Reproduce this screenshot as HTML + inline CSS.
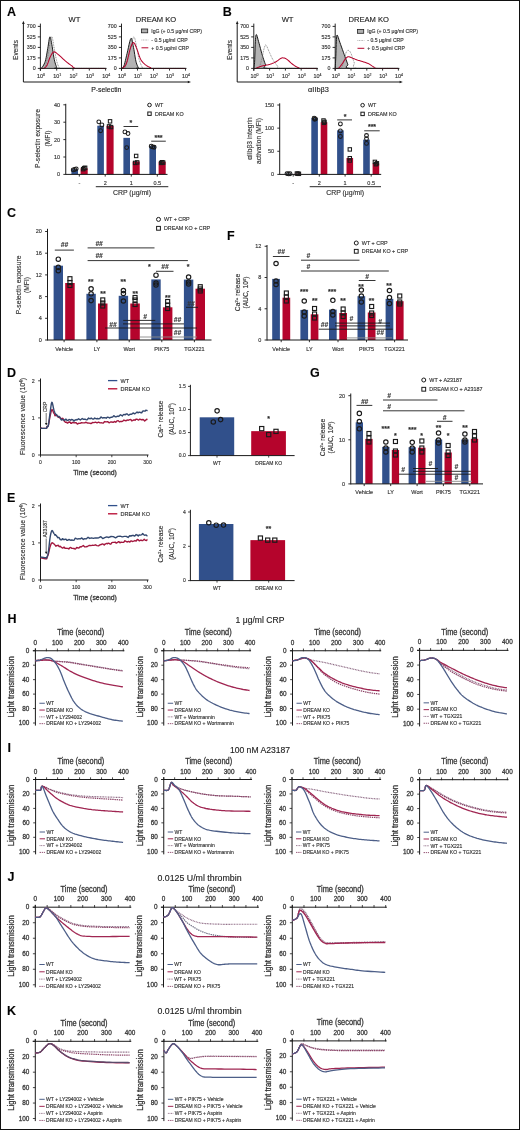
<!DOCTYPE html>
<html><head><meta charset="utf-8"><style>
html,body{margin:0;padding:0;background:#fff;}
#fig{position:relative;width:520px;height:1130px;box-sizing:border-box;border:1px solid #111;overflow:hidden;background:#fff;}
svg{position:absolute;left:-1px;top:-1px;will-change:transform;}
svg text{font-family:"Liberation Sans", sans-serif;stroke:#444;stroke-width:0.15px;}
</style></head><body><div id="fig">
<svg width="520" height="1130" viewBox="0 0 520 1130" shape-rendering="geometricPrecision">
<text x="7.00" y="16.30" font-size="12.5" font-weight="bold" fill="#000">A</text>
<line x1="23.40" y1="23.50" x2="23.40" y2="82.00" stroke="#1a1a1a" stroke-width="1.0"/>
<path d="M23.40,20.80 L22.10,24.00 L24.70,24.00 Z" fill="#1a1a1a"/>
<line x1="23.40" y1="82.00" x2="188.50" y2="82.00" stroke="#1a1a1a" stroke-width="1.0"/>
<path d="M191.00,82.00 L187.80,80.70 L187.80,83.30 Z" fill="#1a1a1a"/>
<text x="106.30" y="92.00" font-size="6.9" text-anchor="middle" fill="#111">P-selectin</text>
<text x="18.20" y="50.00" font-size="6.5" text-anchor="middle" fill="#2a2a2a" transform="rotate(-90 18.20 50.00)">Events</text>
<line x1="37.80" y1="68.40" x2="40.40" y2="68.40" stroke="#1a1a1a" stroke-width="0.9"/>
<text x="35.60" y="70.30" font-size="5.3" text-anchor="end" fill="#2a2a2a">0</text>
<line x1="37.80" y1="57.90" x2="40.40" y2="57.90" stroke="#1a1a1a" stroke-width="0.9"/>
<text x="35.60" y="59.80" font-size="5.3" text-anchor="end" fill="#2a2a2a">175</text>
<line x1="37.80" y1="47.40" x2="40.40" y2="47.40" stroke="#1a1a1a" stroke-width="0.9"/>
<text x="35.60" y="49.30" font-size="5.3" text-anchor="end" fill="#2a2a2a">350</text>
<line x1="37.80" y1="36.90" x2="40.40" y2="36.90" stroke="#1a1a1a" stroke-width="0.9"/>
<text x="35.60" y="38.80" font-size="5.3" text-anchor="end" fill="#2a2a2a">525</text>
<line x1="37.80" y1="26.40" x2="40.40" y2="26.40" stroke="#1a1a1a" stroke-width="0.9"/>
<text x="35.60" y="28.30" font-size="5.3" text-anchor="end" fill="#2a2a2a">700</text>
<line x1="40.40" y1="68.40" x2="40.40" y2="70.60" stroke="#1a1a1a" stroke-width="0.9"/>
<text x="41.00" y="77.80" font-size="5.4" text-anchor="middle" fill="#2a2a2a">10<tspan font-size="3.51" dy="-2.16">0</tspan></text>
<line x1="56.70" y1="68.40" x2="56.70" y2="70.60" stroke="#1a1a1a" stroke-width="0.9"/>
<text x="57.30" y="77.80" font-size="5.4" text-anchor="middle" fill="#2a2a2a">10<tspan font-size="3.51" dy="-2.16">1</tspan></text>
<line x1="73.00" y1="68.40" x2="73.00" y2="70.60" stroke="#1a1a1a" stroke-width="0.9"/>
<text x="73.60" y="77.80" font-size="5.4" text-anchor="middle" fill="#2a2a2a">10<tspan font-size="3.51" dy="-2.16">2</tspan></text>
<line x1="89.30" y1="68.40" x2="89.30" y2="70.60" stroke="#1a1a1a" stroke-width="0.9"/>
<text x="89.90" y="77.80" font-size="5.4" text-anchor="middle" fill="#2a2a2a">10<tspan font-size="3.51" dy="-2.16">3</tspan></text>
<line x1="105.60" y1="68.40" x2="105.60" y2="70.60" stroke="#1a1a1a" stroke-width="0.9"/>
<text x="106.20" y="77.80" font-size="5.4" text-anchor="middle" fill="#2a2a2a">10<tspan font-size="3.51" dy="-2.16">4</tspan></text>
<text x="74.50" y="22.00" font-size="7.6" text-anchor="middle" fill="#111">WT</text>
<path d="M40.40,68.40 L40.56,68.36 L40.76,68.37 L41.01,68.34 L41.31,68.23 L41.65,67.97 L42.03,67.50 L42.49,66.84 L43.03,66.03 L43.61,65.08 L44.20,63.97 L44.77,62.68 L45.29,61.20 L45.75,59.45 L46.18,57.43 L46.58,55.24 L46.97,52.97 L47.36,50.72 L47.73,48.60 L48.11,46.38 L48.47,43.92 L48.83,41.49 L49.17,39.34 L49.51,37.73 L49.85,36.90 L50.18,36.95 L50.50,37.70 L50.81,38.98 L51.13,40.63 L51.46,42.49 L51.81,44.40 L52.19,46.55 L52.59,49.11 L53.00,51.88 L53.42,54.66 L53.84,57.23 L54.25,59.40 L54.67,61.19 L55.10,62.78 L55.53,64.16 L55.95,65.36 L56.34,66.37 L56.70,67.20 L56.49,67.80 L55.61,68.13 L54.71,68.29 L54.44,68.33 L55.43,68.35 L58.33,68.40 L64.11,68.40 L72.46,68.40 L82.07,68.40 L91.65,68.40 L99.93,68.40 L105.60,68.40 L105.60,68.40 L40.40,68.40 Z" fill="#b3b3b3" stroke="none" stroke-width="1" stroke-linejoin="round"/>
<path d="M40.40,68.40 L40.56,68.36 L40.76,68.37 L41.01,68.34 L41.31,68.23 L41.65,67.97 L42.03,67.50 L42.49,66.84 L43.03,66.03 L43.61,65.08 L44.20,63.97 L44.77,62.68 L45.29,61.20 L45.75,59.45 L46.18,57.43 L46.58,55.24 L46.97,52.97 L47.36,50.72 L47.73,48.60 L48.11,46.38 L48.47,43.92 L48.83,41.49 L49.17,39.34 L49.51,37.73 L49.85,36.90 L50.18,36.95 L50.50,37.70 L50.81,38.98 L51.13,40.63 L51.46,42.49 L51.81,44.40 L52.19,46.55 L52.59,49.11 L53.00,51.88 L53.42,54.66 L53.84,57.23 L54.25,59.40 L54.67,61.19 L55.10,62.78 L55.53,64.16 L55.95,65.36 L56.34,66.37 L56.70,67.20 L56.49,67.80 L55.61,68.13 L54.71,68.29 L54.44,68.33 L55.43,68.35 L58.33,68.40 L64.11,68.40 L72.46,68.40 L82.07,68.40 L91.65,68.40 L99.93,68.40 L105.60,68.40" fill="none" stroke="#111" stroke-width="0.95" stroke-linejoin="round"/>
<path d="M40.40,68.40 L40.85,68.40 L41.49,68.40 L42.23,68.40 L43.03,68.40 L43.80,68.40 L44.48,68.40 L45.07,67.14 L45.64,65.44 L46.19,63.41 L46.71,61.16 L47.23,58.78 L47.73,56.40 L48.24,53.79 L48.74,50.82 L49.22,47.74 L49.68,44.78 L50.12,42.18 L50.51,40.20 L50.84,38.77 L51.12,37.69 L51.36,36.98 L51.60,36.64 L51.85,36.71 L52.14,37.20 L52.46,38.25 L52.79,39.89 L53.14,41.93 L53.51,44.18 L53.88,46.46 L54.25,48.60 L54.64,50.70 L55.05,52.94 L55.46,55.22 L55.87,57.42 L56.29,59.45 L56.70,61.20 L57.12,62.68 L57.55,63.97 L57.97,65.08 L58.39,66.03 L58.78,66.84 L59.14,67.50 L58.96,67.97 L58.15,68.23 L57.31,68.34 L57.06,68.37 L58.01,68.36 L60.77,68.40 L66.26,68.40 L74.18,68.40 L83.29,68.40 L92.38,68.40 L100.22,68.40 L105.60,68.40" fill="none" stroke="#777777" stroke-width="0.9" stroke-dasharray="0.9,0.8" stroke-linejoin="round"/>
<path d="M40.40,68.40 L40.75,68.40 L41.25,68.40 L41.83,68.40 L42.45,68.40 L43.08,68.40 L43.66,68.40 L44.20,68.14 L44.75,67.82 L45.29,67.43 L45.83,66.91 L46.38,66.25 L46.92,65.40 L47.46,64.27 L47.99,62.88 L48.53,61.33 L49.07,59.76 L49.62,58.27 L50.18,57.00 L50.75,55.87 L51.31,54.77 L51.89,53.76 L52.49,52.90 L53.11,52.26 L53.77,51.90 L54.45,51.86 L55.14,52.10 L55.85,52.55 L56.62,53.16 L57.44,53.87 L58.33,54.60 L59.32,55.43 L60.39,56.40 L61.53,57.48 L62.69,58.58 L63.87,59.66 L65.01,60.66 L66.16,61.60 L67.34,62.54 L68.53,63.46 L69.69,64.32 L70.81,65.12 L71.86,65.82 L72.55,66.43 L72.86,66.97 L73.11,67.43 L73.67,67.83 L74.88,68.15 L77.08,68.40 L80.81,68.40 L85.91,68.40 L91.66,68.40 L97.34,68.40 L102.23,68.40 L105.60,68.40" fill="none" stroke="#b5042c" stroke-width="1.05" stroke-linejoin="round"/>
<line x1="40.40" y1="23.60" x2="40.40" y2="70.80" stroke="#1a1a1a" stroke-width="0.95"/>
<line x1="40.40" y1="68.40" x2="106.60" y2="68.40" stroke="#1a1a1a" stroke-width="0.95"/>
<line x1="118.90" y1="68.40" x2="121.50" y2="68.40" stroke="#1a1a1a" stroke-width="0.9"/>
<text x="116.70" y="70.30" font-size="5.3" text-anchor="end" fill="#2a2a2a">0</text>
<line x1="118.90" y1="57.90" x2="121.50" y2="57.90" stroke="#1a1a1a" stroke-width="0.9"/>
<text x="116.70" y="59.80" font-size="5.3" text-anchor="end" fill="#2a2a2a">175</text>
<line x1="118.90" y1="47.40" x2="121.50" y2="47.40" stroke="#1a1a1a" stroke-width="0.9"/>
<text x="116.70" y="49.30" font-size="5.3" text-anchor="end" fill="#2a2a2a">350</text>
<line x1="118.90" y1="36.90" x2="121.50" y2="36.90" stroke="#1a1a1a" stroke-width="0.9"/>
<text x="116.70" y="38.80" font-size="5.3" text-anchor="end" fill="#2a2a2a">525</text>
<line x1="118.90" y1="26.40" x2="121.50" y2="26.40" stroke="#1a1a1a" stroke-width="0.9"/>
<text x="116.70" y="28.30" font-size="5.3" text-anchor="end" fill="#2a2a2a">700</text>
<line x1="121.50" y1="68.40" x2="121.50" y2="70.60" stroke="#1a1a1a" stroke-width="0.9"/>
<text x="122.10" y="77.80" font-size="5.4" text-anchor="middle" fill="#2a2a2a">10<tspan font-size="3.51" dy="-2.16">0</tspan></text>
<line x1="137.50" y1="68.40" x2="137.50" y2="70.60" stroke="#1a1a1a" stroke-width="0.9"/>
<text x="138.10" y="77.80" font-size="5.4" text-anchor="middle" fill="#2a2a2a">10<tspan font-size="3.51" dy="-2.16">1</tspan></text>
<line x1="153.50" y1="68.40" x2="153.50" y2="70.60" stroke="#1a1a1a" stroke-width="0.9"/>
<text x="154.10" y="77.80" font-size="5.4" text-anchor="middle" fill="#2a2a2a">10<tspan font-size="3.51" dy="-2.16">2</tspan></text>
<line x1="169.50" y1="68.40" x2="169.50" y2="70.60" stroke="#1a1a1a" stroke-width="0.9"/>
<text x="170.10" y="77.80" font-size="5.4" text-anchor="middle" fill="#2a2a2a">10<tspan font-size="3.51" dy="-2.16">3</tspan></text>
<line x1="185.50" y1="68.40" x2="185.50" y2="70.60" stroke="#1a1a1a" stroke-width="0.9"/>
<text x="186.10" y="77.80" font-size="5.4" text-anchor="middle" fill="#2a2a2a">10<tspan font-size="3.51" dy="-2.16">4</tspan></text>
<text x="156.00" y="22.00" font-size="7.6" text-anchor="middle" fill="#111">DREAM KO</text>
<path d="M121.50,68.40 L121.75,68.26 L122.09,68.16 L122.50,67.99 L122.95,67.64 L123.43,67.02 L123.90,66.00 L124.38,64.52 L124.88,62.64 L125.41,60.49 L125.96,58.16 L126.52,55.76 L127.10,53.40 L127.72,50.76 L128.38,47.69 L129.06,44.55 L129.73,41.71 L130.37,39.54 L130.94,38.40 L131.44,38.46 L131.89,39.44 L132.31,41.10 L132.71,43.16 L133.10,45.34 L133.50,47.40 L133.91,49.51 L134.31,51.92 L134.71,54.47 L135.11,56.98 L135.50,59.28 L135.90,61.20 L136.31,62.75 L136.73,64.06 L137.15,65.16 L137.56,66.08 L137.95,66.85 L138.30,67.50 L138.10,67.97 L137.26,68.23 L136.40,68.34 L136.14,68.37 L137.10,68.36 L139.90,68.40 L145.48,68.40 L153.53,68.40 L162.80,68.40 L172.05,68.40 L180.03,68.40 L185.50,68.40 L185.50,68.40 L121.50,68.40 Z" fill="#b3b3b3" stroke="none" stroke-width="1" stroke-linejoin="round"/>
<path d="M121.50,68.40 L121.75,68.26 L122.09,68.16 L122.50,67.99 L122.95,67.64 L123.43,67.02 L123.90,66.00 L124.38,64.52 L124.88,62.64 L125.41,60.49 L125.96,58.16 L126.52,55.76 L127.10,53.40 L127.72,50.76 L128.38,47.69 L129.06,44.55 L129.73,41.71 L130.37,39.54 L130.94,38.40 L131.44,38.46 L131.89,39.44 L132.31,41.10 L132.71,43.16 L133.10,45.34 L133.50,47.40 L133.91,49.51 L134.31,51.92 L134.71,54.47 L135.11,56.98 L135.50,59.28 L135.90,61.20 L136.31,62.75 L136.73,64.06 L137.15,65.16 L137.56,66.08 L137.95,66.85 L138.30,67.50 L138.10,67.97 L137.26,68.23 L136.40,68.34 L136.14,68.37 L137.10,68.36 L139.90,68.40 L145.48,68.40 L153.53,68.40 L162.80,68.40 L172.05,68.40 L180.03,68.40 L185.50,68.40" fill="none" stroke="#111" stroke-width="0.95" stroke-linejoin="round"/>
<path d="M121.50,68.40 L121.84,68.40 L122.30,68.40 L122.85,68.40 L123.46,68.40 L124.08,68.40 L124.70,68.40 L125.33,67.13 L126.00,65.40 L126.70,63.34 L127.40,61.07 L128.07,58.71 L128.70,56.40 L129.29,53.95 L129.86,51.22 L130.40,48.41 L130.92,45.71 L131.42,43.31 L131.90,41.40 L132.35,39.91 L132.76,38.67 L133.15,37.73 L133.53,37.13 L133.91,36.94 L134.30,37.20 L134.70,38.05 L135.10,39.47 L135.50,41.29 L135.90,43.33 L136.30,45.43 L136.70,47.40 L137.09,49.34 L137.47,51.42 L137.85,53.55 L138.24,55.64 L138.65,57.62 L139.10,59.40 L139.60,61.02 L140.14,62.56 L140.70,63.98 L141.26,65.24 L141.80,66.33 L142.30,67.20 L142.30,67.80 L141.74,68.13 L141.15,68.29 L141.09,68.33 L142.09,68.35 L144.70,68.40 L149.75,68.40 L156.97,68.40 L165.25,68.40 L173.50,68.40 L180.62,68.40 L185.50,68.40" fill="none" stroke="#777777" stroke-width="0.9" stroke-dasharray="0.9,0.8" stroke-linejoin="round"/>
<path d="M121.50,68.40 L121.55,68.40 L121.59,68.40 L121.65,68.40 L121.77,68.40 L121.97,68.40 L122.30,68.40 L122.78,68.00 L123.40,67.53 L124.10,66.94 L124.85,66.13 L125.60,65.05 L126.30,63.60 L126.98,61.59 L127.66,59.02 L128.35,56.18 L129.03,53.31 L129.68,50.70 L130.30,48.60 L130.88,46.94 L131.43,45.49 L131.95,44.29 L132.46,43.38 L132.98,42.80 L133.50,42.60 L134.02,42.85 L134.54,43.53 L135.05,44.55 L135.57,45.80 L136.12,47.18 L136.70,48.60 L137.31,50.18 L137.94,52.04 L138.60,54.04 L139.28,56.02 L139.98,57.86 L140.70,59.40 L141.45,60.64 L142.24,61.70 L143.05,62.61 L143.87,63.40 L144.69,64.12 L145.50,64.80 L146.32,65.43 L147.16,65.97 L148.00,66.43 L148.82,66.83 L149.59,67.19 L150.30,67.50 L150.59,67.76 L150.42,67.97 L150.20,68.12 L150.36,68.23 L151.32,68.32 L153.50,68.40 L157.54,68.40 L163.22,68.40 L169.70,68.40 L176.14,68.40 L181.69,68.40 L185.50,68.40" fill="none" stroke="#b5042c" stroke-width="1.05" stroke-linejoin="round"/>
<line x1="121.50" y1="23.60" x2="121.50" y2="70.80" stroke="#1a1a1a" stroke-width="0.95"/>
<line x1="121.50" y1="68.40" x2="186.50" y2="68.40" stroke="#1a1a1a" stroke-width="0.95"/>
<rect x="141.50" y="29.00" width="6.20" height="3.80" fill="#b0b0b0" stroke="#222" stroke-width="0.8"/>
<text x="151.30" y="32.80" font-size="5.1" fill="#2a2a2a">IgG (+ 0.5 μg/ml CRP)</text>
<line x1="141.50" y1="40.00" x2="148.30" y2="40.00" stroke="#8d8d8d" stroke-width="0.8" stroke-dasharray="0.8,0.8"/>
<text x="151.30" y="41.80" font-size="5.1" fill="#2a2a2a">- 0.5 μg/ml CRP</text>
<line x1="141.50" y1="47.80" x2="148.30" y2="47.80" stroke="#b5042c" stroke-width="1.0"/>
<text x="151.30" y="49.60" font-size="5.1" fill="#2a2a2a">+ 0.5 μg/ml CRP</text>
<text x="222.80" y="16.30" font-size="12.5" font-weight="bold" fill="#000">B</text>
<line x1="237.20" y1="23.50" x2="237.20" y2="82.00" stroke="#1a1a1a" stroke-width="1.0"/>
<path d="M237.20,20.80 L235.90,24.00 L238.50,24.00 Z" fill="#1a1a1a"/>
<line x1="237.20" y1="82.00" x2="400.30" y2="82.00" stroke="#1a1a1a" stroke-width="1.0"/>
<path d="M402.80,82.00 L399.60,80.70 L399.60,83.30 Z" fill="#1a1a1a"/>
<text x="318.50" y="92.00" font-size="7.4" text-anchor="middle" fill="#111">αIIbβ3</text>
<text x="232.40" y="50.00" font-size="6.5" text-anchor="middle" fill="#2a2a2a" transform="rotate(-90 232.40 50.00)">Events</text>
<line x1="251.20" y1="68.40" x2="253.80" y2="68.40" stroke="#1a1a1a" stroke-width="0.9"/>
<text x="249.00" y="70.30" font-size="5.3" text-anchor="end" fill="#2a2a2a">0</text>
<line x1="251.20" y1="57.90" x2="253.80" y2="57.90" stroke="#1a1a1a" stroke-width="0.9"/>
<text x="249.00" y="59.80" font-size="5.3" text-anchor="end" fill="#2a2a2a">175</text>
<line x1="251.20" y1="47.40" x2="253.80" y2="47.40" stroke="#1a1a1a" stroke-width="0.9"/>
<text x="249.00" y="49.30" font-size="5.3" text-anchor="end" fill="#2a2a2a">350</text>
<line x1="251.20" y1="36.90" x2="253.80" y2="36.90" stroke="#1a1a1a" stroke-width="0.9"/>
<text x="249.00" y="38.80" font-size="5.3" text-anchor="end" fill="#2a2a2a">525</text>
<line x1="251.20" y1="26.40" x2="253.80" y2="26.40" stroke="#1a1a1a" stroke-width="0.9"/>
<text x="249.00" y="28.30" font-size="5.3" text-anchor="end" fill="#2a2a2a">700</text>
<line x1="253.80" y1="68.40" x2="253.80" y2="70.60" stroke="#1a1a1a" stroke-width="0.9"/>
<text x="254.40" y="77.80" font-size="5.4" text-anchor="middle" fill="#2a2a2a">10<tspan font-size="3.51" dy="-2.16">0</tspan></text>
<line x1="269.60" y1="68.40" x2="269.60" y2="70.60" stroke="#1a1a1a" stroke-width="0.9"/>
<text x="270.20" y="77.80" font-size="5.4" text-anchor="middle" fill="#2a2a2a">10<tspan font-size="3.51" dy="-2.16">1</tspan></text>
<line x1="285.40" y1="68.40" x2="285.40" y2="70.60" stroke="#1a1a1a" stroke-width="0.9"/>
<text x="286.00" y="77.80" font-size="5.4" text-anchor="middle" fill="#2a2a2a">10<tspan font-size="3.51" dy="-2.16">2</tspan></text>
<line x1="301.20" y1="68.40" x2="301.20" y2="70.60" stroke="#1a1a1a" stroke-width="0.9"/>
<text x="301.80" y="77.80" font-size="5.4" text-anchor="middle" fill="#2a2a2a">10<tspan font-size="3.51" dy="-2.16">3</tspan></text>
<line x1="317.00" y1="68.40" x2="317.00" y2="70.60" stroke="#1a1a1a" stroke-width="0.9"/>
<text x="317.60" y="77.80" font-size="5.4" text-anchor="middle" fill="#2a2a2a">10<tspan font-size="3.51" dy="-2.16">4</tspan></text>
<text x="287.60" y="22.00" font-size="7.6" text-anchor="middle" fill="#111">WT</text>
<path d="M253.80,68.40 L253.89,67.92 L254.00,67.40 L254.15,66.71 L254.30,65.73 L254.45,64.34 L254.59,62.40 L254.72,59.60 L254.85,55.99 L254.98,51.96 L255.10,47.91 L255.24,44.26 L255.38,41.40 L255.51,39.27 L255.64,37.54 L255.77,36.21 L255.91,35.26 L256.10,34.69 L256.33,34.50 L256.60,34.76 L256.91,35.50 L257.25,36.62 L257.63,38.03 L258.06,39.66 L258.54,41.40 L259.11,43.43 L259.76,45.84 L260.46,48.47 L261.17,51.12 L261.86,53.63 L262.49,55.80 L263.07,57.68 L263.63,59.40 L264.17,60.98 L264.68,62.40 L265.18,63.68 L265.65,64.80 L265.55,65.75 L264.77,66.53 L263.97,67.16 L263.81,67.67 L264.94,68.07 L268.02,68.40 L274.05,68.40 L282.71,68.40 L292.66,68.40 L302.58,68.40 L311.13,68.40 L317.00,68.40 L317.00,68.40 L253.80,68.40 Z" fill="#b3b3b3" stroke="none" stroke-width="1" stroke-linejoin="round"/>
<path d="M253.80,68.40 L253.89,67.92 L254.00,67.40 L254.15,66.71 L254.30,65.73 L254.45,64.34 L254.59,62.40 L254.72,59.60 L254.85,55.99 L254.98,51.96 L255.10,47.91 L255.24,44.26 L255.38,41.40 L255.51,39.27 L255.64,37.54 L255.77,36.21 L255.91,35.26 L256.10,34.69 L256.33,34.50 L256.60,34.76 L256.91,35.50 L257.25,36.62 L257.63,38.03 L258.06,39.66 L258.54,41.40 L259.11,43.43 L259.76,45.84 L260.46,48.47 L261.17,51.12 L261.86,53.63 L262.49,55.80 L263.07,57.68 L263.63,59.40 L264.17,60.98 L264.68,62.40 L265.18,63.68 L265.65,64.80 L265.55,65.75 L264.77,66.53 L263.97,67.16 L263.81,67.67 L264.94,68.07 L268.02,68.40 L274.05,68.40 L282.71,68.40 L292.66,68.40 L302.58,68.40 L311.13,68.40 L317.00,68.40" fill="none" stroke="#111" stroke-width="0.95" stroke-linejoin="round"/>
<path d="M253.80,68.40 L254.33,68.40 L255.09,68.40 L255.97,68.40 L256.90,68.40 L257.79,68.40 L258.54,68.40 L259.17,67.44 L259.74,66.13 L260.27,64.58 L260.76,62.87 L261.24,61.11 L261.70,59.40 L262.15,57.62 L262.57,55.67 L262.96,53.66 L263.34,51.73 L263.71,50.00 L264.07,48.60 L264.40,47.47 L264.70,46.51 L264.99,45.75 L265.28,45.22 L265.60,44.96 L265.97,45.00 L266.37,45.42 L266.80,46.20 L267.26,47.25 L267.74,48.47 L268.26,49.75 L268.81,51.00 L269.40,52.28 L270.02,53.69 L270.67,55.16 L271.34,56.64 L272.04,58.08 L272.76,59.40 L273.52,60.65 L274.34,61.89 L275.18,63.08 L276.01,64.18 L276.79,65.16 L277.50,66.00 L277.73,66.67 L277.44,67.20 L277.11,67.61 L277.21,67.93 L278.23,68.19 L280.66,68.40 L285.22,68.40 L291.66,68.40 L299.03,68.40 L306.35,68.40 L312.66,68.40 L317.00,68.40" fill="none" stroke="#777777" stroke-width="0.9" stroke-dasharray="0.9,0.8" stroke-linejoin="round"/>
<path d="M253.80,68.40 L253.94,68.40 L254.09,68.40 L254.29,68.40 L254.56,68.40 L254.92,68.40 L255.38,68.40 L256.01,68.19 L256.78,67.90 L257.65,67.56 L258.54,67.20 L259.38,66.87 L260.12,66.60 L260.72,66.40 L261.23,66.23 L261.70,66.09 L262.17,65.97 L262.68,65.84 L263.28,65.70 L264.00,65.55 L264.80,65.40 L265.65,65.25 L266.50,65.10 L267.30,64.95 L268.02,64.80 L268.62,64.66 L269.13,64.54 L269.60,64.42 L270.07,64.29 L270.58,64.12 L271.18,63.90 L271.88,63.63 L272.64,63.33 L273.45,63.00 L274.28,62.63 L275.11,62.23 L275.92,61.80 L276.73,61.29 L277.58,60.69 L278.42,60.06 L279.23,59.44 L279.99,58.91 L280.66,58.50 L281.22,58.22 L281.67,58.02 L282.07,57.90 L282.46,57.84 L282.87,57.85 L283.35,57.90 L283.87,57.98 L284.39,58.10 L284.94,58.28 L285.53,58.53 L286.21,58.90 L286.98,59.40 L287.90,60.11 L288.95,61.01 L290.07,62.03 L291.21,63.06 L292.31,64.01 L293.30,64.80 L294.20,65.43 L295.06,65.97 L295.87,66.43 L296.64,66.83 L297.36,67.19 L298.04,67.50 L298.51,67.76 L298.74,67.97 L298.93,68.12 L299.27,68.23 L299.96,68.32 L301.20,68.40 L303.28,68.40 L306.12,68.40 L309.30,68.40 L312.44,68.40 L315.13,68.40 L317.00,68.40" fill="none" stroke="#b5042c" stroke-width="1.05" stroke-linejoin="round"/>
<line x1="253.80" y1="23.60" x2="253.80" y2="70.80" stroke="#1a1a1a" stroke-width="0.95"/>
<line x1="253.80" y1="68.40" x2="318.00" y2="68.40" stroke="#1a1a1a" stroke-width="0.95"/>
<line x1="332.60" y1="68.40" x2="335.20" y2="68.40" stroke="#1a1a1a" stroke-width="0.9"/>
<text x="330.40" y="70.30" font-size="5.3" text-anchor="end" fill="#2a2a2a">0</text>
<line x1="332.60" y1="57.90" x2="335.20" y2="57.90" stroke="#1a1a1a" stroke-width="0.9"/>
<text x="330.40" y="59.80" font-size="5.3" text-anchor="end" fill="#2a2a2a">175</text>
<line x1="332.60" y1="47.40" x2="335.20" y2="47.40" stroke="#1a1a1a" stroke-width="0.9"/>
<text x="330.40" y="49.30" font-size="5.3" text-anchor="end" fill="#2a2a2a">350</text>
<line x1="332.60" y1="36.90" x2="335.20" y2="36.90" stroke="#1a1a1a" stroke-width="0.9"/>
<text x="330.40" y="38.80" font-size="5.3" text-anchor="end" fill="#2a2a2a">525</text>
<line x1="332.60" y1="26.40" x2="335.20" y2="26.40" stroke="#1a1a1a" stroke-width="0.9"/>
<text x="330.40" y="28.30" font-size="5.3" text-anchor="end" fill="#2a2a2a">700</text>
<line x1="335.20" y1="68.40" x2="335.20" y2="70.60" stroke="#1a1a1a" stroke-width="0.9"/>
<text x="335.80" y="77.80" font-size="5.4" text-anchor="middle" fill="#2a2a2a">10<tspan font-size="3.51" dy="-2.16">0</tspan></text>
<line x1="351.00" y1="68.40" x2="351.00" y2="70.60" stroke="#1a1a1a" stroke-width="0.9"/>
<text x="351.60" y="77.80" font-size="5.4" text-anchor="middle" fill="#2a2a2a">10<tspan font-size="3.51" dy="-2.16">1</tspan></text>
<line x1="366.80" y1="68.40" x2="366.80" y2="70.60" stroke="#1a1a1a" stroke-width="0.9"/>
<text x="367.40" y="77.80" font-size="5.4" text-anchor="middle" fill="#2a2a2a">10<tspan font-size="3.51" dy="-2.16">2</tspan></text>
<line x1="382.60" y1="68.40" x2="382.60" y2="70.60" stroke="#1a1a1a" stroke-width="0.9"/>
<text x="383.20" y="77.80" font-size="5.4" text-anchor="middle" fill="#2a2a2a">10<tspan font-size="3.51" dy="-2.16">3</tspan></text>
<line x1="398.40" y1="68.40" x2="398.40" y2="70.60" stroke="#1a1a1a" stroke-width="0.9"/>
<text x="399.00" y="77.80" font-size="5.4" text-anchor="middle" fill="#2a2a2a">10<tspan font-size="3.51" dy="-2.16">4</tspan></text>
<text x="368.70" y="22.00" font-size="7.6" text-anchor="middle" fill="#111">DREAM KO</text>
<path d="M335.20,68.40 L335.27,67.15 L335.36,65.47 L335.48,63.45 L335.60,61.20 L335.72,58.82 L335.83,56.40 L335.94,53.74 L336.04,50.70 L336.14,47.53 L336.24,44.47 L336.35,41.74 L336.46,39.60 L336.56,38.00 L336.65,36.74 L336.73,35.83 L336.84,35.26 L337.01,35.01 L337.25,35.10 L337.56,35.58 L337.92,36.47 L338.33,37.69 L338.80,39.17 L339.33,40.83 L339.94,42.60 L340.67,44.64 L341.53,47.06 L342.46,49.65 L343.39,52.24 L344.25,54.66 L345.00,56.70 L345.60,58.37 L346.13,59.81 L346.59,61.07 L347.01,62.19 L347.42,63.22 L347.84,64.20 L347.73,65.14 L346.97,66.00 L346.19,66.77 L346.04,67.43 L347.17,67.98 L350.21,68.40 L356.15,68.40 L364.66,68.40 L374.45,68.40 L384.21,68.40 L392.63,68.40 L398.40,68.40 L398.40,68.40 L335.20,68.40 Z" fill="#b3b3b3" stroke="none" stroke-width="1" stroke-linejoin="round"/>
<path d="M335.20,68.40 L335.27,67.15 L335.36,65.47 L335.48,63.45 L335.60,61.20 L335.72,58.82 L335.83,56.40 L335.94,53.74 L336.04,50.70 L336.14,47.53 L336.24,44.47 L336.35,41.74 L336.46,39.60 L336.56,38.00 L336.65,36.74 L336.73,35.83 L336.84,35.26 L337.01,35.01 L337.25,35.10 L337.56,35.58 L337.92,36.47 L338.33,37.69 L338.80,39.17 L339.33,40.83 L339.94,42.60 L340.67,44.64 L341.53,47.06 L342.46,49.65 L343.39,52.24 L344.25,54.66 L345.00,56.70 L345.60,58.37 L346.13,59.81 L346.59,61.07 L347.01,62.19 L347.42,63.22 L347.84,64.20 L347.73,65.14 L346.97,66.00 L346.19,66.77 L346.04,67.43 L347.17,67.98 L350.21,68.40 L356.15,68.40 L364.66,68.40 L374.45,68.40 L384.21,68.40 L392.63,68.40 L398.40,68.40" fill="none" stroke="#111" stroke-width="0.95" stroke-linejoin="round"/>
<path d="M335.20,68.40 L335.83,68.40 L336.72,68.40 L337.77,68.40 L338.86,68.40 L339.88,68.40 L340.73,68.40 L341.40,67.64 L341.99,66.60 L342.51,65.36 L342.98,64.00 L343.44,62.59 L343.89,61.20 L344.33,59.72 L344.74,58.07 L345.13,56.36 L345.51,54.73 L345.88,53.30 L346.26,52.20 L346.63,51.43 L347.00,50.89 L347.36,50.55 L347.72,50.38 L348.09,50.34 L348.47,50.40 L348.87,50.55 L349.27,50.82 L349.68,51.23 L350.10,51.78 L350.54,52.50 L351.00,53.40 L351.49,54.59 L352.01,56.07 L352.54,57.71 L353.08,59.40 L353.63,61.00 L354.16,62.40 L354.25,63.64 L353.81,64.84 L353.37,65.96 L353.46,66.96 L354.60,67.78 L357.32,68.40 L362.45,68.40 L369.73,68.40 L378.06,68.40 L386.35,68.40 L393.49,68.40 L398.40,68.40" fill="none" stroke="#777777" stroke-width="0.9" stroke-dasharray="0.9,0.8" stroke-linejoin="round"/>
<path d="M335.20,68.40 L335.53,68.40 L335.99,68.40 L336.53,68.40 L337.13,68.40 L337.75,68.40 L338.36,68.40 L338.98,67.88 L339.65,67.16 L340.34,66.30 L341.02,65.38 L341.69,64.46 L342.31,63.60 L342.88,62.77 L343.43,61.90 L343.95,61.03 L344.46,60.20 L344.96,59.44 L345.47,58.80 L345.97,58.25 L346.44,57.77 L346.91,57.36 L347.40,57.03 L347.91,56.81 L348.47,56.70 L349.09,56.74 L349.74,56.92 L350.42,57.21 L351.12,57.54 L351.85,57.89 L352.58,58.20 L353.34,58.49 L354.14,58.80 L354.95,59.12 L355.76,59.43 L356.56,59.73 L357.32,60.00 L358.01,60.22 L358.63,60.40 L359.24,60.56 L359.87,60.73 L360.59,60.94 L361.43,61.20 L362.45,61.52 L363.62,61.89 L364.86,62.29 L366.12,62.71 L367.32,63.15 L368.38,63.60 L369.30,64.08 L370.12,64.60 L370.89,65.14 L371.62,65.67 L372.36,66.16 L373.12,66.60 L373.73,66.99 L374.11,67.36 L374.50,67.69 L375.11,67.98 L376.16,68.22 L377.86,68.40 L380.61,68.40 L384.30,68.40 L388.43,68.40 L392.49,68.40 L395.98,68.40 L398.40,68.40" fill="none" stroke="#b5042c" stroke-width="1.05" stroke-linejoin="round"/>
<line x1="335.20" y1="23.60" x2="335.20" y2="70.80" stroke="#1a1a1a" stroke-width="0.95"/>
<line x1="335.20" y1="68.40" x2="399.40" y2="68.40" stroke="#1a1a1a" stroke-width="0.95"/>
<rect x="357.50" y="29.50" width="6.20" height="3.80" fill="#b0b0b0" stroke="#222" stroke-width="0.8"/>
<text x="367.30" y="33.30" font-size="5.1" fill="#2a2a2a">IgG (+ 0.5 μg/ml CRP)</text>
<line x1="357.50" y1="40.50" x2="364.30" y2="40.50" stroke="#8d8d8d" stroke-width="0.8" stroke-dasharray="0.8,0.8"/>
<text x="367.30" y="42.30" font-size="5.1" fill="#2a2a2a">- 0.5 μg/ml CRP</text>
<line x1="357.50" y1="48.30" x2="364.30" y2="48.30" stroke="#b5042c" stroke-width="1.0"/>
<text x="367.30" y="50.10" font-size="5.1" fill="#2a2a2a">+ 0.5 μg/ml CRP</text>
<line x1="65.75" y1="103.80" x2="65.75" y2="174.90" stroke="#1a1a1a" stroke-width="1.0"/>
<line x1="63.35" y1="174.40" x2="65.75" y2="174.40" stroke="#1a1a1a" stroke-width="0.9"/>
<text x="60.15" y="176.35" font-size="5.5" text-anchor="end" fill="#2a2a2a">0</text>
<line x1="63.35" y1="157.00" x2="65.75" y2="157.00" stroke="#1a1a1a" stroke-width="0.9"/>
<text x="60.15" y="158.95" font-size="5.5" text-anchor="end" fill="#2a2a2a">10</text>
<line x1="63.35" y1="139.60" x2="65.75" y2="139.60" stroke="#1a1a1a" stroke-width="0.9"/>
<text x="60.15" y="141.55" font-size="5.5" text-anchor="end" fill="#2a2a2a">20</text>
<line x1="63.35" y1="122.20" x2="65.75" y2="122.20" stroke="#1a1a1a" stroke-width="0.9"/>
<text x="60.15" y="124.15" font-size="5.5" text-anchor="end" fill="#2a2a2a">30</text>
<line x1="63.35" y1="104.80" x2="65.75" y2="104.80" stroke="#1a1a1a" stroke-width="0.9"/>
<text x="60.15" y="106.75" font-size="5.5" text-anchor="end" fill="#2a2a2a">40</text>
<rect x="71.40" y="169.18" width="6.60" height="5.22" fill="#31508b"/>
<rect x="80.60" y="168.31" width="7.10" height="6.09" fill="#b5042c"/>
<circle cx="73.20" cy="169.88" r="1.9" fill="none" stroke="#1b1b1b" stroke-width="1.05"/>
<circle cx="76.20" cy="168.83" r="1.9" fill="none" stroke="#1b1b1b" stroke-width="1.05"/>
<circle cx="74.70" cy="169.53" r="1.9" fill="none" stroke="#1b1b1b" stroke-width="1.05"/>
<rect x="82.45" y="166.44" width="3.4" height="3.4" fill="none" stroke="#1b1b1b" stroke-width="1.05"/>
<rect x="81.45" y="167.48" width="3.4" height="3.4" fill="none" stroke="#1b1b1b" stroke-width="1.05"/>
<rect x="83.45" y="166.09" width="3.4" height="3.4" fill="none" stroke="#1b1b1b" stroke-width="1.05"/>
<rect x="97.30" y="125.68" width="6.60" height="48.72" fill="#31508b"/>
<rect x="106.50" y="125.85" width="7.10" height="48.55" fill="#b5042c"/>
<circle cx="98.80" cy="121.85" r="1.9" fill="none" stroke="#1b1b1b" stroke-width="1.05"/>
<circle cx="101.90" cy="124.98" r="1.9" fill="none" stroke="#1b1b1b" stroke-width="1.05"/>
<circle cx="100.60" cy="130.73" r="1.9" fill="none" stroke="#1b1b1b" stroke-width="1.05"/>
<rect x="108.35" y="119.63" width="3.4" height="3.4" fill="none" stroke="#1b1b1b" stroke-width="1.05"/>
<rect x="107.35" y="124.68" width="3.4" height="3.4" fill="none" stroke="#1b1b1b" stroke-width="1.05"/>
<rect x="109.35" y="125.37" width="3.4" height="3.4" fill="none" stroke="#1b1b1b" stroke-width="1.05"/>
<rect x="123.40" y="137.86" width="6.60" height="36.54" fill="#31508b"/>
<rect x="132.60" y="161.52" width="7.10" height="12.88" fill="#b5042c"/>
<circle cx="124.90" cy="131.94" r="1.9" fill="none" stroke="#1b1b1b" stroke-width="1.05"/>
<circle cx="128.00" cy="133.51" r="1.9" fill="none" stroke="#1b1b1b" stroke-width="1.05"/>
<circle cx="126.70" cy="147.60" r="1.9" fill="none" stroke="#1b1b1b" stroke-width="1.05"/>
<rect x="134.45" y="154.26" width="3.4" height="3.4" fill="none" stroke="#1b1b1b" stroke-width="1.05"/>
<rect x="133.45" y="161.22" width="3.4" height="3.4" fill="none" stroke="#1b1b1b" stroke-width="1.05"/>
<rect x="135.45" y="160.69" width="3.4" height="3.4" fill="none" stroke="#1b1b1b" stroke-width="1.05"/>
<rect x="149.40" y="146.04" width="6.60" height="28.36" fill="#31508b"/>
<rect x="158.60" y="161.70" width="7.10" height="12.70" fill="#b5042c"/>
<circle cx="151.20" cy="146.21" r="1.9" fill="none" stroke="#1b1b1b" stroke-width="1.05"/>
<circle cx="154.20" cy="147.26" r="1.9" fill="none" stroke="#1b1b1b" stroke-width="1.05"/>
<circle cx="152.70" cy="146.91" r="1.9" fill="none" stroke="#1b1b1b" stroke-width="1.05"/>
<rect x="160.45" y="160.52" width="3.4" height="3.4" fill="none" stroke="#1b1b1b" stroke-width="1.05"/>
<rect x="159.45" y="161.22" width="3.4" height="3.4" fill="none" stroke="#1b1b1b" stroke-width="1.05"/>
<rect x="161.45" y="160.87" width="3.4" height="3.4" fill="none" stroke="#1b1b1b" stroke-width="1.05"/>
<line x1="65.75" y1="174.40" x2="167.50" y2="174.40" stroke="#1a1a1a" stroke-width="1.0"/>
<line x1="79.30" y1="174.40" x2="79.30" y2="176.60" stroke="#1a1a1a" stroke-width="0.9"/>
<text x="79.30" y="185.20" font-size="5.5" text-anchor="middle" fill="#2a2a2a">-</text>
<line x1="105.20" y1="174.40" x2="105.20" y2="176.60" stroke="#1a1a1a" stroke-width="0.9"/>
<text x="105.20" y="185.20" font-size="5.5" text-anchor="middle" fill="#2a2a2a">2</text>
<line x1="131.30" y1="174.40" x2="131.30" y2="176.60" stroke="#1a1a1a" stroke-width="0.9"/>
<text x="131.30" y="185.20" font-size="5.5" text-anchor="middle" fill="#2a2a2a">1</text>
<line x1="157.30" y1="174.40" x2="157.30" y2="176.60" stroke="#1a1a1a" stroke-width="0.9"/>
<text x="157.30" y="185.20" font-size="5.5" text-anchor="middle" fill="#2a2a2a">0.5</text>
<line x1="95.80" y1="186.70" x2="168.30" y2="186.70" stroke="#1a1a1a" stroke-width="0.95"/>
<text x="132.00" y="195.00" font-size="6.9" text-anchor="middle" fill="#2a2a2a">CRP (μg/ml)</text>
<line x1="123.50" y1="126.50" x2="138.20" y2="126.50" stroke="#2a2a2a" stroke-width="0.95"/>
<text x="130.80" y="125.49" font-size="7.0" text-anchor="middle" font-weight="bold" fill="#222">*</text>
<line x1="151.20" y1="141.20" x2="165.80" y2="141.20" stroke="#2a2a2a" stroke-width="0.95"/>
<text x="158.50" y="140.09" font-size="7.0" text-anchor="middle" font-weight="bold" fill="#222">***</text>
<circle cx="149.50" cy="105.00" r="1.8" fill="none" stroke="#1a1a1a" stroke-width="1.0"/>
<text x="154.90" y="106.90" font-size="5.4" fill="#2a2a2a">WT</text>
<rect x="147.80" y="112.00" width="3.4" height="3.4" fill="none" stroke="#1a1a1a" stroke-width="1.0"/>
<text x="154.90" y="115.60" font-size="5.4" fill="#2a2a2a">DREAM KO</text>
<text x="39.80" y="138.50" font-size="6.7" text-anchor="middle" fill="#2a2a2a" transform="rotate(-90 39.80 138.50)">P-selectin exposure</text>
<text x="50.40" y="138.50" font-size="6.7" text-anchor="middle" fill="#2a2a2a" transform="rotate(-90 50.40 138.50)">(MFI)</text>
<line x1="279.70" y1="103.30" x2="279.70" y2="174.90" stroke="#1a1a1a" stroke-width="1.0"/>
<line x1="277.30" y1="174.40" x2="279.70" y2="174.40" stroke="#1a1a1a" stroke-width="0.9"/>
<text x="274.10" y="176.35" font-size="5.5" text-anchor="end" fill="#2a2a2a">0</text>
<line x1="277.30" y1="151.27" x2="279.70" y2="151.27" stroke="#1a1a1a" stroke-width="0.9"/>
<text x="274.10" y="153.22" font-size="5.5" text-anchor="end" fill="#2a2a2a">50</text>
<line x1="277.30" y1="128.13" x2="279.70" y2="128.13" stroke="#1a1a1a" stroke-width="0.9"/>
<text x="274.10" y="130.08" font-size="5.5" text-anchor="end" fill="#2a2a2a">100</text>
<line x1="277.30" y1="105.00" x2="279.70" y2="105.00" stroke="#1a1a1a" stroke-width="0.9"/>
<text x="274.10" y="106.95" font-size="5.5" text-anchor="end" fill="#2a2a2a">150</text>
<rect x="285.20" y="173.71" width="6.60" height="0.69" fill="#31508b"/>
<rect x="294.60" y="173.71" width="6.60" height="0.69" fill="#b5042c"/>
<circle cx="287.00" cy="173.57" r="1.9" fill="none" stroke="#1b1b1b" stroke-width="1.05"/>
<circle cx="290.00" cy="173.71" r="1.9" fill="none" stroke="#1b1b1b" stroke-width="1.05"/>
<circle cx="288.50" cy="173.94" r="1.9" fill="none" stroke="#1b1b1b" stroke-width="1.05"/>
<rect x="295.20" y="171.87" width="3.4" height="3.4" fill="none" stroke="#1b1b1b" stroke-width="1.05"/>
<rect x="297.20" y="172.14" width="3.4" height="3.4" fill="none" stroke="#1b1b1b" stroke-width="1.05"/>
<rect x="296.20" y="172.01" width="3.4" height="3.4" fill="none" stroke="#1b1b1b" stroke-width="1.05"/>
<rect x="311.30" y="118.09" width="6.60" height="56.31" fill="#31508b"/>
<rect x="320.70" y="122.21" width="6.60" height="52.19" fill="#b5042c"/>
<circle cx="314.10" cy="118.05" r="1.9" fill="none" stroke="#1b1b1b" stroke-width="1.05"/>
<circle cx="315.40" cy="118.88" r="1.9" fill="none" stroke="#1b1b1b" stroke-width="1.05"/>
<circle cx="314.60" cy="119.34" r="1.9" fill="none" stroke="#1b1b1b" stroke-width="1.05"/>
<rect x="321.80" y="118.80" width="3.4" height="3.4" fill="none" stroke="#1b1b1b" stroke-width="1.05"/>
<rect x="322.80" y="120.19" width="3.4" height="3.4" fill="none" stroke="#1b1b1b" stroke-width="1.05"/>
<rect x="322.30" y="121.11" width="3.4" height="3.4" fill="none" stroke="#1b1b1b" stroke-width="1.05"/>
<rect x="337.10" y="130.35" width="6.60" height="44.05" fill="#31508b"/>
<rect x="346.50" y="158.02" width="6.60" height="16.38" fill="#b5042c"/>
<circle cx="340.40" cy="123.97" r="1.9" fill="none" stroke="#1b1b1b" stroke-width="1.05"/>
<circle cx="340.40" cy="130.91" r="1.9" fill="none" stroke="#1b1b1b" stroke-width="1.05"/>
<circle cx="340.40" cy="136.46" r="1.9" fill="none" stroke="#1b1b1b" stroke-width="1.05"/>
<rect x="348.10" y="147.72" width="3.4" height="3.4" fill="none" stroke="#1b1b1b" stroke-width="1.05"/>
<rect x="348.10" y="156.51" width="3.4" height="3.4" fill="none" stroke="#1b1b1b" stroke-width="1.05"/>
<rect x="348.10" y="158.82" width="3.4" height="3.4" fill="none" stroke="#1b1b1b" stroke-width="1.05"/>
<rect x="363.20" y="139.61" width="6.60" height="34.79" fill="#31508b"/>
<rect x="372.60" y="163.39" width="6.60" height="11.01" fill="#b5042c"/>
<circle cx="366.50" cy="135.54" r="1.9" fill="none" stroke="#1b1b1b" stroke-width="1.05"/>
<circle cx="366.50" cy="138.77" r="1.9" fill="none" stroke="#1b1b1b" stroke-width="1.05"/>
<circle cx="366.50" cy="143.40" r="1.9" fill="none" stroke="#1b1b1b" stroke-width="1.05"/>
<rect x="373.20" y="160.21" width="3.4" height="3.4" fill="none" stroke="#1b1b1b" stroke-width="1.05"/>
<rect x="375.20" y="161.60" width="3.4" height="3.4" fill="none" stroke="#1b1b1b" stroke-width="1.05"/>
<rect x="374.20" y="162.52" width="3.4" height="3.4" fill="none" stroke="#1b1b1b" stroke-width="1.05"/>
<line x1="279.70" y1="174.40" x2="381.20" y2="174.40" stroke="#1a1a1a" stroke-width="1.0"/>
<line x1="293.20" y1="174.40" x2="293.20" y2="176.60" stroke="#1a1a1a" stroke-width="0.9"/>
<text x="293.20" y="185.20" font-size="5.5" text-anchor="middle" fill="#2a2a2a">-</text>
<line x1="319.30" y1="174.40" x2="319.30" y2="176.60" stroke="#1a1a1a" stroke-width="0.9"/>
<text x="319.30" y="185.20" font-size="5.5" text-anchor="middle" fill="#2a2a2a">2</text>
<line x1="345.10" y1="174.40" x2="345.10" y2="176.60" stroke="#1a1a1a" stroke-width="0.9"/>
<text x="345.10" y="185.20" font-size="5.5" text-anchor="middle" fill="#2a2a2a">1</text>
<line x1="371.20" y1="174.40" x2="371.20" y2="176.60" stroke="#1a1a1a" stroke-width="0.9"/>
<text x="371.20" y="185.20" font-size="5.5" text-anchor="middle" fill="#2a2a2a">0.5</text>
<line x1="309.70" y1="186.70" x2="381.00" y2="186.70" stroke="#1a1a1a" stroke-width="0.95"/>
<text x="345.20" y="195.20" font-size="6.9" text-anchor="middle" fill="#2a2a2a">CRP (μg/ml)</text>
<line x1="337.20" y1="119.90" x2="352.00" y2="119.90" stroke="#2a2a2a" stroke-width="0.95"/>
<text x="345.00" y="118.89" font-size="7.0" text-anchor="middle" font-weight="bold" fill="#222">*</text>
<line x1="364.20" y1="130.80" x2="379.70" y2="130.80" stroke="#2a2a2a" stroke-width="0.95"/>
<text x="372.00" y="129.19" font-size="7.0" text-anchor="middle" font-weight="bold" fill="#222">***</text>
<circle cx="362.60" cy="105.20" r="1.8" fill="none" stroke="#1a1a1a" stroke-width="1.0"/>
<text x="368.00" y="107.10" font-size="5.4" fill="#2a2a2a">WT</text>
<rect x="360.90" y="112.20" width="3.4" height="3.4" fill="none" stroke="#1a1a1a" stroke-width="1.0"/>
<text x="368.00" y="115.80" font-size="5.4" fill="#2a2a2a">DREAM KO</text>
<text x="252.40" y="138.50" font-size="6.7" text-anchor="middle" fill="#2a2a2a" transform="rotate(-90 252.40 138.50)">αIIbβ3 integrin</text>
<text x="260.90" y="141.00" font-size="6.7" text-anchor="middle" fill="#2a2a2a" transform="rotate(-90 260.90 141.00)">activation (MFI)</text>
<text x="7.00" y="217.30" font-size="12.5" font-weight="bold" fill="#000">C</text>
<line x1="47.50" y1="228.80" x2="47.50" y2="340.50" stroke="#1a1a1a" stroke-width="1.0"/>
<line x1="45.10" y1="340.00" x2="47.50" y2="340.00" stroke="#1a1a1a" stroke-width="0.9"/>
<text x="41.90" y="341.95" font-size="5.5" text-anchor="end" fill="#2a2a2a">0</text>
<line x1="45.10" y1="318.30" x2="47.50" y2="318.30" stroke="#1a1a1a" stroke-width="0.9"/>
<text x="41.90" y="320.25" font-size="5.5" text-anchor="end" fill="#2a2a2a">4</text>
<line x1="45.10" y1="296.60" x2="47.50" y2="296.60" stroke="#1a1a1a" stroke-width="0.9"/>
<text x="41.90" y="298.55" font-size="5.5" text-anchor="end" fill="#2a2a2a">8</text>
<line x1="45.10" y1="274.90" x2="47.50" y2="274.90" stroke="#1a1a1a" stroke-width="0.9"/>
<text x="41.90" y="276.85" font-size="5.5" text-anchor="end" fill="#2a2a2a">12</text>
<line x1="45.10" y1="253.20" x2="47.50" y2="253.20" stroke="#1a1a1a" stroke-width="0.9"/>
<text x="41.90" y="255.15" font-size="5.5" text-anchor="end" fill="#2a2a2a">16</text>
<line x1="45.10" y1="231.50" x2="47.50" y2="231.50" stroke="#1a1a1a" stroke-width="0.9"/>
<text x="41.90" y="233.45" font-size="5.5" text-anchor="end" fill="#2a2a2a">20</text>
<rect x="53.60" y="265.70" width="9.40" height="74.30" fill="#31508b"/>
<rect x="65.20" y="283.00" width="9.50" height="57.00" fill="#b5042c"/>
<circle cx="58.30" cy="259.20" r="2.2" fill="none" stroke="#1b1b1b" stroke-width="1.15"/>
<circle cx="58.30" cy="267.40" r="2.2" fill="none" stroke="#1b1b1b" stroke-width="1.15"/>
<circle cx="58.30" cy="270.70" r="2.2" fill="none" stroke="#1b1b1b" stroke-width="1.15"/>
<rect x="67.95" y="276.70" width="4.0" height="4.0" fill="none" stroke="#1b1b1b" stroke-width="1.15"/>
<rect x="67.95" y="280.50" width="4.0" height="4.0" fill="none" stroke="#1b1b1b" stroke-width="1.15"/>
<rect x="67.95" y="283.50" width="4.0" height="4.0" fill="none" stroke="#1b1b1b" stroke-width="1.15"/>
<rect x="86.40" y="293.80" width="9.40" height="46.20" fill="#31508b"/>
<rect x="98.00" y="303.50" width="9.50" height="36.50" fill="#b5042c"/>
<circle cx="91.10" cy="288.80" r="2.2" fill="none" stroke="#1b1b1b" stroke-width="1.15"/>
<circle cx="91.10" cy="293.80" r="2.2" fill="none" stroke="#1b1b1b" stroke-width="1.15"/>
<circle cx="91.10" cy="300.60" r="2.2" fill="none" stroke="#1b1b1b" stroke-width="1.15"/>
<rect x="100.75" y="297.90" width="4.0" height="4.0" fill="none" stroke="#1b1b1b" stroke-width="1.15"/>
<rect x="100.75" y="301.00" width="4.0" height="4.0" fill="none" stroke="#1b1b1b" stroke-width="1.15"/>
<rect x="100.75" y="304.00" width="4.0" height="4.0" fill="none" stroke="#1b1b1b" stroke-width="1.15"/>
<rect x="118.70" y="295.80" width="9.40" height="44.20" fill="#31508b"/>
<rect x="130.30" y="303.50" width="9.50" height="36.50" fill="#b5042c"/>
<circle cx="123.40" cy="290.60" r="2.2" fill="none" stroke="#1b1b1b" stroke-width="1.15"/>
<circle cx="123.40" cy="293.50" r="2.2" fill="none" stroke="#1b1b1b" stroke-width="1.15"/>
<circle cx="123.40" cy="301.00" r="2.2" fill="none" stroke="#1b1b1b" stroke-width="1.15"/>
<rect x="133.05" y="295.50" width="4.0" height="4.0" fill="none" stroke="#1b1b1b" stroke-width="1.15"/>
<rect x="133.05" y="298.00" width="4.0" height="4.0" fill="none" stroke="#1b1b1b" stroke-width="1.15"/>
<rect x="133.05" y="302.50" width="4.0" height="4.0" fill="none" stroke="#1b1b1b" stroke-width="1.15"/>
<rect x="151.30" y="279.40" width="9.40" height="60.60" fill="#31508b"/>
<rect x="162.90" y="307.30" width="9.50" height="32.70" fill="#b5042c"/>
<circle cx="156.00" cy="275.20" r="2.2" fill="none" stroke="#1b1b1b" stroke-width="1.15"/>
<circle cx="156.00" cy="283.00" r="2.2" fill="none" stroke="#1b1b1b" stroke-width="1.15"/>
<circle cx="156.00" cy="285.00" r="2.2" fill="none" stroke="#1b1b1b" stroke-width="1.15"/>
<rect x="165.65" y="299.50" width="4.0" height="4.0" fill="none" stroke="#1b1b1b" stroke-width="1.15"/>
<rect x="165.65" y="303.00" width="4.0" height="4.0" fill="none" stroke="#1b1b1b" stroke-width="1.15"/>
<rect x="165.65" y="306.50" width="4.0" height="4.0" fill="none" stroke="#1b1b1b" stroke-width="1.15"/>
<rect x="183.90" y="279.60" width="9.40" height="60.40" fill="#31508b"/>
<rect x="195.50" y="288.70" width="9.50" height="51.30" fill="#b5042c"/>
<circle cx="188.60" cy="277.00" r="2.2" fill="none" stroke="#1b1b1b" stroke-width="1.15"/>
<circle cx="188.60" cy="282.00" r="2.2" fill="none" stroke="#1b1b1b" stroke-width="1.15"/>
<circle cx="188.60" cy="284.00" r="2.2" fill="none" stroke="#1b1b1b" stroke-width="1.15"/>
<rect x="198.25" y="284.70" width="4.0" height="4.0" fill="none" stroke="#1b1b1b" stroke-width="1.15"/>
<rect x="198.25" y="287.00" width="4.0" height="4.0" fill="none" stroke="#1b1b1b" stroke-width="1.15"/>
<rect x="198.25" y="289.00" width="4.0" height="4.0" fill="none" stroke="#1b1b1b" stroke-width="1.15"/>
<line x1="47.50" y1="340.00" x2="211.50" y2="340.00" stroke="#1a1a1a" stroke-width="1.0"/>
<line x1="64.10" y1="340.00" x2="64.10" y2="342.20" stroke="#1a1a1a" stroke-width="0.9"/>
<text x="64.10" y="350.60" font-size="5.5" text-anchor="middle" fill="#2a2a2a">Vehicle</text>
<line x1="96.90" y1="340.00" x2="96.90" y2="342.20" stroke="#1a1a1a" stroke-width="0.9"/>
<text x="96.90" y="350.60" font-size="5.5" text-anchor="middle" fill="#2a2a2a">LY</text>
<line x1="129.20" y1="340.00" x2="129.20" y2="342.20" stroke="#1a1a1a" stroke-width="0.9"/>
<text x="129.20" y="350.60" font-size="5.5" text-anchor="middle" fill="#2a2a2a">Wort</text>
<line x1="161.80" y1="340.00" x2="161.80" y2="342.20" stroke="#1a1a1a" stroke-width="0.9"/>
<text x="161.80" y="350.60" font-size="5.5" text-anchor="middle" fill="#2a2a2a">PIK75</text>
<line x1="194.40" y1="340.00" x2="194.40" y2="342.20" stroke="#1a1a1a" stroke-width="0.9"/>
<text x="194.40" y="350.60" font-size="5.5" text-anchor="middle" fill="#2a2a2a">TGX221</text>
<line x1="54.80" y1="250.10" x2="73.90" y2="250.10" stroke="#2a2a2a" stroke-width="0.95"/>
<text x="64.50" y="246.86" font-size="6.6" text-anchor="middle" font-weight="bold" fill="#333" font-style="italic">##</text>
<line x1="87.60" y1="247.90" x2="154.50" y2="247.90" stroke="#2a2a2a" stroke-width="0.95"/>
<text x="99.10" y="245.86" font-size="6.6" text-anchor="middle" font-weight="bold" fill="#333" font-style="italic">##</text>
<line x1="87.60" y1="260.60" x2="187.90" y2="260.60" stroke="#2a2a2a" stroke-width="0.95"/>
<text x="99.10" y="258.46" font-size="6.6" text-anchor="middle" font-weight="bold" fill="#333" font-style="italic">##</text>
<line x1="156.00" y1="271.30" x2="173.50" y2="271.30" stroke="#2a2a2a" stroke-width="0.95"/>
<text x="165.00" y="269.26" font-size="6.6" text-anchor="middle" font-weight="bold" fill="#333" font-style="italic">##</text>
<text x="149.40" y="269.19" font-size="7.0" text-anchor="middle" font-weight="bold" fill="#222">*</text>
<text x="188.00" y="269.19" font-size="7.0" text-anchor="middle" font-weight="bold" fill="#222">*</text>
<text x="90.80" y="284.29" font-size="7.0" text-anchor="middle" font-weight="bold" fill="#222">**</text>
<text x="103.00" y="295.99" font-size="7.0" text-anchor="middle" font-weight="bold" fill="#222">**</text>
<text x="123.20" y="284.19" font-size="7.0" text-anchor="middle" font-weight="bold" fill="#222">**</text>
<text x="135.20" y="295.59" font-size="7.0" text-anchor="middle" font-weight="bold" fill="#222">**</text>
<text x="167.70" y="299.89" font-size="7.0" text-anchor="middle" font-weight="bold" fill="#222">**</text>
<line x1="123.20" y1="320.40" x2="155.30" y2="320.40" stroke="#1a1a1a" stroke-width="0.9"/>
<text x="145.00" y="319.06" font-size="6.6" text-anchor="middle" font-weight="bold" fill="#333" font-style="italic">#</text>
<line x1="123.00" y1="323.90" x2="184.00" y2="323.90" stroke="#1a1a1a" stroke-width="0.9"/>
<line x1="105.00" y1="328.00" x2="197.00" y2="328.00" stroke="#1a1a1a" stroke-width="0.9"/>
<text x="113.00" y="326.76" font-size="6.6" text-anchor="middle" font-weight="bold" fill="#333" font-style="italic">##</text>
<line x1="140.00" y1="337.00" x2="197.00" y2="337.00" stroke="#8a8a8a" stroke-width="0.9"/>
<text x="177.40" y="335.46" font-size="6.6" text-anchor="middle" font-weight="bold" fill="#333" font-style="italic">##</text>
<text x="177.40" y="322.26" font-size="6.6" text-anchor="middle" font-weight="bold" fill="#333" font-style="italic">##</text>
<line x1="186.00" y1="307.30" x2="198.00" y2="307.30" stroke="#1a1a1a" stroke-width="0.9"/>
<text x="191.00" y="306.06" font-size="6.6" text-anchor="middle" font-weight="bold" fill="#333" font-style="italic">##</text>
<circle cx="158.50" cy="219.40" r="2.0" fill="none" stroke="#1a1a1a" stroke-width="1.0"/>
<text x="163.90" y="221.30" font-size="5.4" fill="#2a2a2a">WT + CRP</text>
<rect x="156.60" y="226.40" width="3.8" height="3.8" fill="none" stroke="#1a1a1a" stroke-width="1.0"/>
<text x="163.90" y="230.20" font-size="5.4" fill="#2a2a2a">DREAM KO + CRP</text>
<text x="21.30" y="285.00" font-size="6.7" text-anchor="middle" fill="#2a2a2a" transform="rotate(-90 21.30 285.00)">P-selectin exposure</text>
<text x="29.40" y="285.00" font-size="6.7" text-anchor="middle" fill="#2a2a2a" transform="rotate(-90 29.40 285.00)">(MFI)</text>
<text x="227.00" y="240.30" font-size="12.5" font-weight="bold" fill="#000">F</text>
<line x1="267.00" y1="245.00" x2="267.00" y2="340.50" stroke="#1a1a1a" stroke-width="1.0"/>
<line x1="264.60" y1="340.00" x2="267.00" y2="340.00" stroke="#1a1a1a" stroke-width="0.9"/>
<text x="261.40" y="341.95" font-size="5.5" text-anchor="end" fill="#2a2a2a">0</text>
<line x1="264.60" y1="308.75" x2="267.00" y2="308.75" stroke="#1a1a1a" stroke-width="0.9"/>
<text x="261.40" y="310.70" font-size="5.5" text-anchor="end" fill="#2a2a2a">4</text>
<line x1="264.60" y1="277.50" x2="267.00" y2="277.50" stroke="#1a1a1a" stroke-width="0.9"/>
<text x="261.40" y="279.45" font-size="5.5" text-anchor="end" fill="#2a2a2a">8</text>
<line x1="264.60" y1="246.25" x2="267.00" y2="246.25" stroke="#1a1a1a" stroke-width="0.9"/>
<text x="261.40" y="248.20" font-size="5.5" text-anchor="end" fill="#2a2a2a">12</text>
<rect x="272.20" y="278.90" width="7.70" height="61.10" fill="#31508b"/>
<rect x="282.50" y="297.70" width="7.70" height="42.30" fill="#b5042c"/>
<circle cx="276.05" cy="263.50" r="2.2" fill="none" stroke="#1b1b1b" stroke-width="1.15"/>
<circle cx="276.05" cy="281.00" r="2.2" fill="none" stroke="#1b1b1b" stroke-width="1.15"/>
<circle cx="276.05" cy="284.50" r="2.2" fill="none" stroke="#1b1b1b" stroke-width="1.15"/>
<rect x="284.35" y="291.00" width="4.0" height="4.0" fill="none" stroke="#1b1b1b" stroke-width="1.15"/>
<rect x="284.35" y="295.00" width="4.0" height="4.0" fill="none" stroke="#1b1b1b" stroke-width="1.15"/>
<rect x="284.35" y="299.00" width="4.0" height="4.0" fill="none" stroke="#1b1b1b" stroke-width="1.15"/>
<rect x="300.40" y="309.90" width="7.70" height="30.10" fill="#31508b"/>
<rect x="310.70" y="314.30" width="7.70" height="25.70" fill="#b5042c"/>
<circle cx="304.25" cy="301.00" r="2.2" fill="none" stroke="#1b1b1b" stroke-width="1.15"/>
<circle cx="304.25" cy="312.00" r="2.2" fill="none" stroke="#1b1b1b" stroke-width="1.15"/>
<circle cx="304.25" cy="316.00" r="2.2" fill="none" stroke="#1b1b1b" stroke-width="1.15"/>
<rect x="312.55" y="306.50" width="4.0" height="4.0" fill="none" stroke="#1b1b1b" stroke-width="1.15"/>
<rect x="312.55" y="312.00" width="4.0" height="4.0" fill="none" stroke="#1b1b1b" stroke-width="1.15"/>
<rect x="312.55" y="316.00" width="4.0" height="4.0" fill="none" stroke="#1b1b1b" stroke-width="1.15"/>
<rect x="329.00" y="309.60" width="7.70" height="30.40" fill="#31508b"/>
<rect x="339.30" y="313.00" width="7.70" height="27.00" fill="#b5042c"/>
<circle cx="332.85" cy="300.30" r="2.2" fill="none" stroke="#1b1b1b" stroke-width="1.15"/>
<circle cx="332.85" cy="311.50" r="2.2" fill="none" stroke="#1b1b1b" stroke-width="1.15"/>
<circle cx="332.85" cy="315.00" r="2.2" fill="none" stroke="#1b1b1b" stroke-width="1.15"/>
<rect x="341.15" y="307.00" width="4.0" height="4.0" fill="none" stroke="#1b1b1b" stroke-width="1.15"/>
<rect x="341.15" y="311.00" width="4.0" height="4.0" fill="none" stroke="#1b1b1b" stroke-width="1.15"/>
<rect x="341.15" y="314.50" width="4.0" height="4.0" fill="none" stroke="#1b1b1b" stroke-width="1.15"/>
<rect x="357.50" y="296.20" width="7.70" height="43.80" fill="#31508b"/>
<rect x="367.80" y="312.50" width="7.70" height="27.50" fill="#b5042c"/>
<circle cx="361.35" cy="290.00" r="2.2" fill="none" stroke="#1b1b1b" stroke-width="1.15"/>
<circle cx="361.35" cy="296.00" r="2.2" fill="none" stroke="#1b1b1b" stroke-width="1.15"/>
<circle cx="361.35" cy="302.00" r="2.2" fill="none" stroke="#1b1b1b" stroke-width="1.15"/>
<rect x="369.65" y="304.50" width="4.0" height="4.0" fill="none" stroke="#1b1b1b" stroke-width="1.15"/>
<rect x="369.65" y="311.00" width="4.0" height="4.0" fill="none" stroke="#1b1b1b" stroke-width="1.15"/>
<rect x="369.65" y="313.50" width="4.0" height="4.0" fill="none" stroke="#1b1b1b" stroke-width="1.15"/>
<rect x="385.60" y="298.80" width="7.70" height="41.20" fill="#31508b"/>
<rect x="395.90" y="301.20" width="7.70" height="38.80" fill="#b5042c"/>
<circle cx="389.45" cy="290.50" r="2.2" fill="none" stroke="#1b1b1b" stroke-width="1.15"/>
<circle cx="389.45" cy="297.50" r="2.2" fill="none" stroke="#1b1b1b" stroke-width="1.15"/>
<circle cx="389.45" cy="303.50" r="2.2" fill="none" stroke="#1b1b1b" stroke-width="1.15"/>
<rect x="397.75" y="294.00" width="4.0" height="4.0" fill="none" stroke="#1b1b1b" stroke-width="1.15"/>
<rect x="397.75" y="300.00" width="4.0" height="4.0" fill="none" stroke="#1b1b1b" stroke-width="1.15"/>
<rect x="397.75" y="302.00" width="4.0" height="4.0" fill="none" stroke="#1b1b1b" stroke-width="1.15"/>
<line x1="267.00" y1="340.00" x2="408.00" y2="340.00" stroke="#1a1a1a" stroke-width="1.0"/>
<line x1="281.20" y1="340.00" x2="281.20" y2="342.20" stroke="#1a1a1a" stroke-width="0.9"/>
<text x="281.20" y="350.60" font-size="5.5" text-anchor="middle" fill="#2a2a2a">Vehicle</text>
<line x1="309.40" y1="340.00" x2="309.40" y2="342.20" stroke="#1a1a1a" stroke-width="0.9"/>
<text x="309.40" y="350.60" font-size="5.5" text-anchor="middle" fill="#2a2a2a">LY</text>
<line x1="338.00" y1="340.00" x2="338.00" y2="342.20" stroke="#1a1a1a" stroke-width="0.9"/>
<text x="338.00" y="350.60" font-size="5.5" text-anchor="middle" fill="#2a2a2a">Wort</text>
<line x1="366.50" y1="340.00" x2="366.50" y2="342.20" stroke="#1a1a1a" stroke-width="0.9"/>
<text x="366.50" y="350.60" font-size="5.5" text-anchor="middle" fill="#2a2a2a">PIK75</text>
<line x1="394.60" y1="340.00" x2="394.60" y2="342.20" stroke="#1a1a1a" stroke-width="0.9"/>
<text x="394.60" y="350.60" font-size="5.5" text-anchor="middle" fill="#2a2a2a">TGX221</text>
<line x1="272.90" y1="256.50" x2="289.50" y2="256.50" stroke="#2a2a2a" stroke-width="0.95"/>
<text x="281.20" y="254.16" font-size="6.6" text-anchor="middle" font-weight="bold" fill="#333" font-style="italic">##</text>
<line x1="301.00" y1="260.20" x2="359.50" y2="260.20" stroke="#2a2a2a" stroke-width="0.95"/>
<text x="308.30" y="258.06" font-size="6.6" text-anchor="middle" font-weight="bold" fill="#333" font-style="italic">#</text>
<line x1="301.00" y1="271.00" x2="388.80" y2="271.00" stroke="#2a2a2a" stroke-width="0.95"/>
<text x="308.30" y="268.86" font-size="6.6" text-anchor="middle" font-weight="bold" fill="#333" font-style="italic">#</text>
<line x1="358.80" y1="280.50" x2="375.50" y2="280.50" stroke="#2a2a2a" stroke-width="0.95"/>
<text x="367.00" y="278.56" font-size="6.6" text-anchor="middle" font-weight="bold" fill="#333" font-style="italic">#</text>
<text x="304.20" y="293.79" font-size="7.0" text-anchor="middle" font-weight="bold" fill="#222">***</text>
<text x="314.80" y="303.09" font-size="7.0" text-anchor="middle" font-weight="bold" fill="#222">**</text>
<text x="332.10" y="293.79" font-size="7.0" text-anchor="middle" font-weight="bold" fill="#222">***</text>
<text x="343.00" y="303.09" font-size="7.0" text-anchor="middle" font-weight="bold" fill="#222">**</text>
<text x="361.00" y="289.09" font-size="7.0" text-anchor="middle" font-weight="bold" fill="#222">**</text>
<text x="371.50" y="303.09" font-size="7.0" text-anchor="middle" font-weight="bold" fill="#222">**</text>
<text x="389.00" y="288.09" font-size="7.0" text-anchor="middle" font-weight="bold" fill="#222">**</text>
<line x1="318.70" y1="329.20" x2="392.70" y2="329.20" stroke="#1a1a1a" stroke-width="0.9"/>
<text x="324.40" y="326.66" font-size="6.6" text-anchor="middle" font-weight="bold" fill="#333" font-style="italic">##</text>
<line x1="335.00" y1="323.10" x2="390.00" y2="323.10" stroke="#1a1a1a" stroke-width="0.9"/>
<text x="351.30" y="320.96" font-size="6.6" text-anchor="middle" font-weight="bold" fill="#333" font-style="italic">#</text>
<line x1="335.00" y1="325.90" x2="390.00" y2="325.90" stroke="#1a1a1a" stroke-width="0.9"/>
<text x="380.20" y="323.76" font-size="6.6" text-anchor="middle" font-weight="bold" fill="#333" font-style="italic">#</text>
<text x="380.20" y="334.96" font-size="6.6" text-anchor="middle" font-weight="bold" fill="#333" font-style="italic">##</text>
<line x1="346.50" y1="337.90" x2="392.00" y2="337.90" stroke="#8a8a8a" stroke-width="0.9"/>
<circle cx="356.25" cy="243.00" r="2.0" fill="none" stroke="#1a1a1a" stroke-width="1.0"/>
<text x="361.85" y="244.90" font-size="5.4" fill="#2a2a2a">WT + CRP</text>
<rect x="354.35" y="249.40" width="3.8" height="3.8" fill="none" stroke="#1a1a1a" stroke-width="1.0"/>
<text x="361.85" y="253.20" font-size="5.4" fill="#2a2a2a">DREAM KO + CRP</text>
<text transform="translate(240.30 292.50) rotate(-90)" font-size="6.7" text-anchor="middle" fill="#2a2a2a">Ca<tspan font-size="4.4" dy="-2.5">2+</tspan><tspan dy="2.5"> release</tspan></text>
<text transform="translate(248.30 292.50) rotate(-90)" font-size="6.7" text-anchor="middle" fill="#2a2a2a">(AUC, 10<tspan font-size="4.4" dy="-2.5">6</tspan><tspan dy="2.5">)</tspan></text>
<text x="310.00" y="377.30" font-size="12.5" font-weight="bold" fill="#000">G</text>
<line x1="350.75" y1="393.50" x2="350.75" y2="484.40" stroke="#1a1a1a" stroke-width="1.0"/>
<line x1="348.35" y1="483.90" x2="350.75" y2="483.90" stroke="#1a1a1a" stroke-width="0.9"/>
<text x="345.15" y="485.85" font-size="5.5" text-anchor="end" fill="#2a2a2a">0</text>
<line x1="348.35" y1="439.80" x2="350.75" y2="439.80" stroke="#1a1a1a" stroke-width="0.9"/>
<text x="345.15" y="441.75" font-size="5.5" text-anchor="end" fill="#2a2a2a">10</text>
<line x1="348.35" y1="395.70" x2="350.75" y2="395.70" stroke="#1a1a1a" stroke-width="0.9"/>
<text x="345.15" y="397.65" font-size="5.5" text-anchor="end" fill="#2a2a2a">20</text>
<rect x="355.70" y="422.30" width="7.30" height="61.60" fill="#31508b"/>
<rect x="365.30" y="438.90" width="7.30" height="45.00" fill="#b5042c"/>
<circle cx="359.35" cy="413.40" r="2.2" fill="none" stroke="#1b1b1b" stroke-width="1.15"/>
<circle cx="359.35" cy="421.50" r="2.2" fill="none" stroke="#1b1b1b" stroke-width="1.15"/>
<circle cx="359.35" cy="428.80" r="2.2" fill="none" stroke="#1b1b1b" stroke-width="1.15"/>
<rect x="366.95" y="431.50" width="4.0" height="4.0" fill="none" stroke="#1b1b1b" stroke-width="1.15"/>
<rect x="366.95" y="436.00" width="4.0" height="4.0" fill="none" stroke="#1b1b1b" stroke-width="1.15"/>
<rect x="366.95" y="440.00" width="4.0" height="4.0" fill="none" stroke="#1b1b1b" stroke-width="1.15"/>
<rect x="382.20" y="446.90" width="7.30" height="37.00" fill="#31508b"/>
<rect x="391.80" y="450.00" width="7.30" height="33.90" fill="#b5042c"/>
<circle cx="385.85" cy="442.00" r="2.2" fill="none" stroke="#1b1b1b" stroke-width="1.15"/>
<circle cx="385.85" cy="448.00" r="2.2" fill="none" stroke="#1b1b1b" stroke-width="1.15"/>
<circle cx="385.85" cy="452.00" r="2.2" fill="none" stroke="#1b1b1b" stroke-width="1.15"/>
<rect x="393.45" y="439.50" width="4.0" height="4.0" fill="none" stroke="#1b1b1b" stroke-width="1.15"/>
<rect x="393.45" y="449.00" width="4.0" height="4.0" fill="none" stroke="#1b1b1b" stroke-width="1.15"/>
<rect x="393.45" y="453.00" width="4.0" height="4.0" fill="none" stroke="#1b1b1b" stroke-width="1.15"/>
<rect x="408.60" y="447.20" width="7.30" height="36.70" fill="#31508b"/>
<rect x="418.20" y="447.70" width="7.30" height="36.20" fill="#b5042c"/>
<circle cx="412.25" cy="442.30" r="2.2" fill="none" stroke="#1b1b1b" stroke-width="1.15"/>
<circle cx="412.25" cy="448.00" r="2.2" fill="none" stroke="#1b1b1b" stroke-width="1.15"/>
<circle cx="412.25" cy="452.00" r="2.2" fill="none" stroke="#1b1b1b" stroke-width="1.15"/>
<rect x="419.85" y="439.00" width="4.0" height="4.0" fill="none" stroke="#1b1b1b" stroke-width="1.15"/>
<rect x="419.85" y="446.00" width="4.0" height="4.0" fill="none" stroke="#1b1b1b" stroke-width="1.15"/>
<rect x="419.85" y="450.00" width="4.0" height="4.0" fill="none" stroke="#1b1b1b" stroke-width="1.15"/>
<rect x="434.90" y="439.50" width="7.30" height="44.40" fill="#31508b"/>
<rect x="444.50" y="452.50" width="7.30" height="31.40" fill="#b5042c"/>
<circle cx="438.55" cy="433.00" r="2.2" fill="none" stroke="#1b1b1b" stroke-width="1.15"/>
<circle cx="438.55" cy="440.00" r="2.2" fill="none" stroke="#1b1b1b" stroke-width="1.15"/>
<circle cx="438.55" cy="443.00" r="2.2" fill="none" stroke="#1b1b1b" stroke-width="1.15"/>
<rect x="446.15" y="443.50" width="4.0" height="4.0" fill="none" stroke="#1b1b1b" stroke-width="1.15"/>
<rect x="446.15" y="450.00" width="4.0" height="4.0" fill="none" stroke="#1b1b1b" stroke-width="1.15"/>
<rect x="446.15" y="453.50" width="4.0" height="4.0" fill="none" stroke="#1b1b1b" stroke-width="1.15"/>
<rect x="461.25" y="439.50" width="7.30" height="44.40" fill="#31508b"/>
<rect x="470.85" y="438.80" width="7.30" height="45.10" fill="#b5042c"/>
<circle cx="464.90" cy="434.00" r="2.2" fill="none" stroke="#1b1b1b" stroke-width="1.15"/>
<circle cx="464.90" cy="440.00" r="2.2" fill="none" stroke="#1b1b1b" stroke-width="1.15"/>
<circle cx="464.90" cy="442.00" r="2.2" fill="none" stroke="#1b1b1b" stroke-width="1.15"/>
<rect x="472.50" y="429.50" width="4.0" height="4.0" fill="none" stroke="#1b1b1b" stroke-width="1.15"/>
<rect x="472.50" y="434.00" width="4.0" height="4.0" fill="none" stroke="#1b1b1b" stroke-width="1.15"/>
<rect x="472.50" y="438.00" width="4.0" height="4.0" fill="none" stroke="#1b1b1b" stroke-width="1.15"/>
<line x1="350.75" y1="483.90" x2="483.00" y2="483.90" stroke="#1a1a1a" stroke-width="1.0"/>
<line x1="364.20" y1="483.90" x2="364.20" y2="486.10" stroke="#1a1a1a" stroke-width="0.9"/>
<text x="364.20" y="494.00" font-size="5.5" text-anchor="middle" fill="#2a2a2a">Vehicle</text>
<line x1="390.70" y1="483.90" x2="390.70" y2="486.10" stroke="#1a1a1a" stroke-width="0.9"/>
<text x="390.70" y="494.00" font-size="5.5" text-anchor="middle" fill="#2a2a2a">LY</text>
<line x1="417.10" y1="483.90" x2="417.10" y2="486.10" stroke="#1a1a1a" stroke-width="0.9"/>
<text x="417.10" y="494.00" font-size="5.5" text-anchor="middle" fill="#2a2a2a">Wort</text>
<line x1="443.40" y1="483.90" x2="443.40" y2="486.10" stroke="#1a1a1a" stroke-width="0.9"/>
<text x="443.40" y="494.00" font-size="5.5" text-anchor="middle" fill="#2a2a2a">PIK75</text>
<line x1="469.75" y1="483.90" x2="469.75" y2="486.10" stroke="#1a1a1a" stroke-width="0.9"/>
<text x="469.75" y="494.00" font-size="5.5" text-anchor="middle" fill="#2a2a2a">TGX221</text>
<line x1="356.50" y1="405.40" x2="372.30" y2="405.40" stroke="#2a2a2a" stroke-width="0.95"/>
<text x="364.60" y="403.76" font-size="6.6" text-anchor="middle" font-weight="bold" fill="#333" font-style="italic">##</text>
<line x1="383.00" y1="400.00" x2="437.50" y2="400.00" stroke="#2a2a2a" stroke-width="0.95"/>
<text x="389.20" y="398.06" font-size="6.6" text-anchor="middle" font-weight="bold" fill="#333" font-style="italic">#</text>
<line x1="383.00" y1="410.80" x2="464.50" y2="410.80" stroke="#2a2a2a" stroke-width="0.95"/>
<text x="389.20" y="408.86" font-size="6.6" text-anchor="middle" font-weight="bold" fill="#333" font-style="italic">#</text>
<line x1="437.00" y1="421.30" x2="452.50" y2="421.30" stroke="#2a2a2a" stroke-width="0.95"/>
<text x="444.50" y="419.56" font-size="6.6" text-anchor="middle" font-weight="bold" fill="#333" font-style="italic">#</text>
<text x="385.70" y="431.29" font-size="7.0" text-anchor="middle" font-weight="bold" fill="#222">***</text>
<text x="395.40" y="438.19" font-size="7.0" text-anchor="middle" font-weight="bold" fill="#222">*</text>
<text x="412.30" y="432.09" font-size="7.0" text-anchor="middle" font-weight="bold" fill="#222">***</text>
<text x="421.50" y="437.59" font-size="7.0" text-anchor="middle" font-weight="bold" fill="#222">*</text>
<text x="438.50" y="430.09" font-size="7.0" text-anchor="middle" font-weight="bold" fill="#222">**</text>
<text x="448.20" y="437.59" font-size="7.0" text-anchor="middle" font-weight="bold" fill="#222">*</text>
<text x="465.00" y="430.09" font-size="7.0" text-anchor="middle" font-weight="bold" fill="#222">**</text>
<line x1="398.70" y1="474.20" x2="470.80" y2="474.20" stroke="#1a1a1a" stroke-width="0.9"/>
<text x="403.00" y="472.06" font-size="6.6" text-anchor="middle" font-weight="bold" fill="#333" font-style="italic">#</text>
<line x1="413.00" y1="468.50" x2="438.00" y2="468.50" stroke="#1a1a1a" stroke-width="0.9"/>
<text x="430.40" y="466.26" font-size="6.6" text-anchor="middle" font-weight="bold" fill="#333" font-style="italic">#</text>
<line x1="413.00" y1="471.30" x2="470.80" y2="471.30" stroke="#1a1a1a" stroke-width="0.9"/>
<text x="456.30" y="469.16" font-size="6.6" text-anchor="middle" font-weight="bold" fill="#333" font-style="italic">#</text>
<line x1="426.00" y1="481.30" x2="472.00" y2="481.30" stroke="#8a8a8a" stroke-width="0.9"/>
<text x="456.30" y="480.26" font-size="6.6" text-anchor="middle" font-weight="bold" fill="#333" font-style="italic">#</text>
<circle cx="423.75" cy="380.00" r="2.0" fill="none" stroke="#1a1a1a" stroke-width="1.0"/>
<text x="429.35" y="381.90" font-size="5.4" fill="#2a2a2a">WT + A23187</text>
<rect x="421.85" y="387.35" width="3.8" height="3.8" fill="none" stroke="#1a1a1a" stroke-width="1.0"/>
<text x="429.35" y="391.15" font-size="5.4" fill="#2a2a2a">DREAM KO + A23187</text>
<text transform="translate(325.00 437.50) rotate(-90)" font-size="6.7" text-anchor="middle" fill="#2a2a2a">Ca<tspan font-size="4.4" dy="-2.5">2+</tspan><tspan dy="2.5"> release</tspan></text>
<text transform="translate(333.20 437.50) rotate(-90)" font-size="6.7" text-anchor="middle" fill="#2a2a2a">(AUC, 10<tspan font-size="4.4" dy="-2.5">6</tspan><tspan dy="2.5">)</tspan></text>
<text x="7.00" y="377.30" font-size="12.5" font-weight="bold" fill="#000">D</text>
<line x1="40.50" y1="378.50" x2="40.50" y2="455.50" stroke="#1a1a1a" stroke-width="1.0"/>
<line x1="38.10" y1="455.00" x2="40.50" y2="455.00" stroke="#1a1a1a" stroke-width="0.8"/>
<text x="34.70" y="456.90" font-size="5.3" text-anchor="end" fill="#2a2a2a">0</text>
<line x1="38.10" y1="417.90" x2="40.50" y2="417.90" stroke="#1a1a1a" stroke-width="0.8"/>
<text x="34.70" y="419.80" font-size="5.3" text-anchor="end" fill="#2a2a2a">1</text>
<line x1="38.10" y1="380.80" x2="40.50" y2="380.80" stroke="#1a1a1a" stroke-width="0.8"/>
<text x="34.70" y="382.70" font-size="5.3" text-anchor="end" fill="#2a2a2a">2</text>
<line x1="40.50" y1="455.00" x2="148.50" y2="455.00" stroke="#1a1a1a" stroke-width="1.0"/>
<line x1="40.50" y1="455.00" x2="40.50" y2="457.20" stroke="#1a1a1a" stroke-width="0.8"/>
<text x="40.50" y="464.00" font-size="5.0" text-anchor="middle" fill="#2a2a2a">0</text>
<line x1="76.17" y1="455.00" x2="76.17" y2="457.20" stroke="#1a1a1a" stroke-width="0.8"/>
<text x="76.17" y="464.00" font-size="5.0" text-anchor="middle" fill="#2a2a2a">100</text>
<line x1="111.83" y1="455.00" x2="111.83" y2="457.20" stroke="#1a1a1a" stroke-width="0.8"/>
<text x="111.83" y="464.00" font-size="5.0" text-anchor="middle" fill="#2a2a2a">200</text>
<line x1="147.50" y1="455.00" x2="147.50" y2="457.20" stroke="#1a1a1a" stroke-width="0.8"/>
<text x="147.50" y="464.00" font-size="5.0" text-anchor="middle" fill="#2a2a2a">300</text>
<text transform="translate(95.00 475.00) scale(0.86 1)" font-size="8.0" text-anchor="middle" fill="#222" style="stroke-width:0.3px">Time (second)</text>
<text transform="translate(25.2 416.50) rotate(-90)" font-size="6.95" text-anchor="middle" fill="#2a2a2a">Fluorescence value (10<tspan font-size="4.5" dy="-2.5">4</tspan><tspan dy="2.5">)</tspan></text>
<path d="M40.50,428.29 L40.79,428.29 L41.18,428.31 L41.64,428.32 L42.16,428.34 L42.73,428.36 L43.31,428.38 L43.89,428.39 L44.46,428.40 L45.00,428.39 L45.48,428.37 L45.89,428.34 L46.21,428.29 L46.44,428.22 L46.61,428.13 L46.72,428.02 L46.79,427.90 L46.82,427.77 L46.83,427.64 L46.83,427.50 L46.81,427.35 L46.81,427.21 L46.82,427.07 L46.85,426.93 L46.92,426.80 L47.01,426.71 L47.11,426.65 L47.22,426.62 L47.33,426.60 L47.45,426.58 L47.57,426.55 L47.69,426.49 L47.82,426.39 L47.95,426.24 L48.08,426.02 L48.21,425.72 L48.35,425.32 L48.48,424.81 L48.62,424.19 L48.77,423.48 L48.91,422.70 L49.06,421.86 L49.22,420.98 L49.37,420.09 L49.52,419.21 L49.68,418.34 L49.83,417.51 L49.98,416.74 L50.13,416.05 L50.28,415.38 L50.42,414.71 L50.57,414.02 L50.71,413.35 L50.85,412.70 L51.00,412.08 L51.14,411.51 L51.29,410.99 L51.44,410.54 L51.60,410.18 L51.75,409.90 L51.91,409.74 L52.08,409.70 L52.25,409.79 L52.41,410.00 L52.59,410.29 L52.76,410.65 L52.94,411.06 L53.12,411.50 L53.30,411.95 L53.48,412.39 L53.67,412.80 L53.86,413.16 L54.05,413.45 L54.25,413.69 L54.44,413.90 L54.63,414.11 L54.82,415.27 L55.01,415.72 L55.21,415.77 L55.42,415.29 L55.63,415.35 L55.84,415.17 L56.07,414.76 L56.30,415.07 L56.55,415.11 L56.81,415.53 L57.09,415.70 L57.39,416.17 L57.70,416.33 L58.01,416.74 L58.33,417.36 L58.65,417.44 L58.97,417.33 L59.28,417.39 L59.57,417.06 L59.85,417.37 L60.12,417.87 L60.36,418.31 L60.57,418.15 L60.77,418.44 L60.95,418.39 L61.12,418.37 L61.30,418.51 L61.48,418.51 L61.66,418.84 L61.86,418.73 L62.09,418.88 L62.33,418.52 L62.61,418.33 L62.91,418.62 L63.21,418.92 L63.52,419.57 L63.84,420.07 L64.18,420.98 L64.53,421.31 L64.91,421.78 L65.31,422.05 L65.74,422.31 L66.20,422.21 L66.71,422.28 L67.25,423.01 L67.81,422.99 L68.39,422.45 L68.97,422.06 L69.57,422.01 L70.21,422.22 L70.88,423.35 L71.60,423.33 L72.38,422.49 L73.21,422.58 L74.12,422.90 L75.10,422.63 L76.17,422.75 L77.34,424.02 L78.62,423.28 L80.00,423.33 L81.45,422.77 L82.97,422.87 L84.53,422.91 L86.12,422.27 L87.73,423.05 L89.33,423.12 L90.92,423.55 L92.49,422.55 L94.00,422.62 L95.50,422.16 L97.01,422.90 L98.54,422.18 L100.08,422.92 L101.61,422.81 L103.14,423.15 L104.66,421.56 L106.15,421.90 L107.63,421.61 L109.07,422.77 L110.47,422.00 L111.83,421.99 L113.16,422.41 L114.46,421.46 L115.73,422.28 L116.99,420.86 L118.21,420.64 L119.41,421.89 L120.59,421.42 L121.74,421.56 L122.87,421.12 L123.97,420.05 L125.05,420.52 L126.10,420.81 L127.12,419.90 L128.09,420.32 L129.03,419.96 L129.93,419.60 L130.81,419.48 L131.67,420.91 L132.52,420.64 L133.37,420.09 L134.21,419.78 L135.06,420.26 L135.92,419.31 L136.80,419.23 L137.73,419.68 L138.71,420.12 L139.73,419.11 L140.76,419.47 L141.80,419.93 L142.82,419.51 L143.80,419.96 L144.73,420.97 L145.58,420.27 L146.34,419.43 L146.98,419.31 L147.50,419.57" fill="none" stroke="#a3173e" stroke-width="1.4" stroke-linejoin="round"/>
<path d="M40.50,428.29 L40.79,428.29 L41.18,428.31 L41.64,428.32 L42.16,428.34 L42.73,428.36 L43.31,428.38 L43.89,428.39 L44.46,428.40 L45.00,428.39 L45.48,428.37 L45.89,428.34 L46.21,428.29 L46.44,428.22 L46.61,428.13 L46.72,428.02 L46.79,427.90 L46.82,427.77 L46.83,427.64 L46.83,427.50 L46.81,427.35 L46.81,427.21 L46.82,427.07 L46.85,426.93 L46.92,426.80 L47.01,426.72 L47.11,426.69 L47.22,426.70 L47.33,426.74 L47.45,426.77 L47.57,426.78 L47.69,426.75 L47.82,426.67 L47.95,426.50 L48.08,426.23 L48.21,425.85 L48.35,425.32 L48.48,424.63 L48.62,423.79 L48.77,422.81 L48.91,421.73 L49.06,420.57 L49.22,419.36 L49.37,418.12 L49.52,416.87 L49.68,415.64 L49.83,414.46 L49.98,413.35 L50.13,412.33 L50.28,411.34 L50.42,410.28 L50.57,409.20 L50.71,408.10 L50.85,407.03 L51.00,406.00 L51.14,405.05 L51.29,404.20 L51.44,403.47 L51.60,402.90 L51.75,402.51 L51.91,402.32 L52.08,402.37 L52.25,402.67 L52.41,403.17 L52.59,403.83 L52.76,404.62 L52.94,405.49 L53.12,406.42 L53.30,407.36 L53.48,408.27 L53.67,409.12 L53.86,409.87 L54.05,410.48 L54.25,410.98 L54.44,411.45 L54.63,411.88 L54.82,412.72 L55.01,413.07 L55.21,413.49 L55.42,413.59 L55.63,414.10 L55.84,414.18 L56.07,414.53 L56.30,414.65 L56.55,414.66 L56.81,414.78 L57.09,415.60 L57.39,416.18 L57.70,416.48 L58.01,416.48 L58.33,416.50 L58.65,416.44 L58.97,416.25 L59.28,416.92 L59.57,416.87 L59.85,417.41 L60.12,417.79 L60.35,418.19 L60.55,418.53 L60.72,418.72 L60.88,419.38 L61.03,419.51 L61.19,419.72 L61.35,419.97 L61.53,419.90 L61.74,420.00 L61.98,419.78 L62.27,419.56 L62.61,419.43 L63.01,419.84 L63.45,420.06 L63.93,419.97 L64.44,420.21 L64.97,420.07 L65.53,419.08 L66.11,419.13 L66.70,420.12 L67.29,420.30 L67.88,420.44 L68.46,420.13 L69.03,419.51 L69.59,419.64 L70.14,419.90 L70.68,420.26 L71.23,419.74 L71.77,419.51 L72.33,419.67 L72.91,419.73 L73.50,420.93 L74.12,420.96 L74.76,420.21 L75.45,419.97 L76.17,419.46 L76.93,419.97 L77.74,419.42 L78.59,418.74 L79.47,419.39 L80.37,419.93 L81.29,419.23 L82.23,418.50 L83.17,419.26 L84.11,419.26 L85.04,419.12 L85.96,419.62 L86.87,419.91 L87.75,418.96 L88.61,418.09 L89.46,418.66 L90.30,418.69 L91.14,418.06 L91.99,418.62 L92.86,419.04 L93.74,419.12 L94.64,418.07 L95.58,418.46 L96.55,418.73 L97.57,418.51 L98.65,418.84 L99.82,418.54 L101.05,416.93 L102.32,417.93 L103.62,417.78 L104.92,417.61 L106.21,418.21 L107.47,417.09 L108.68,417.35 L109.83,418.07 L110.88,417.24 L111.83,417.28 L112.67,416.95 L113.39,416.08 L114.03,415.71 L114.61,416.22 L115.13,416.70 L115.62,416.81 L116.10,416.82 L116.59,416.67 L117.10,416.22 L117.65,416.12 L118.27,416.47 L118.97,416.19 L119.73,415.41 L120.54,414.73 L121.39,415.26 L122.27,415.91 L123.17,414.90 L124.09,414.48 L125.03,414.91 L125.97,414.13 L126.91,413.79 L127.84,414.57 L128.76,415.26 L129.67,414.48 L130.57,414.13 L131.49,414.21 L132.43,413.57 L133.37,412.91 L134.31,413.79 L135.24,413.49 L136.16,412.78 L137.06,411.95 L137.94,412.83 L138.79,412.30 L139.60,412.19 L140.37,412.41 L141.11,412.91 L141.84,412.80 L142.57,411.10 L143.27,410.99 L143.95,411.05 L144.60,411.12 L145.21,410.97 L145.78,410.25 L146.30,410.28 L146.77,410.47 L147.17,410.68 L147.50,410.88" fill="none" stroke="#33486f" stroke-width="1.4" stroke-linejoin="round"/>
<text x="46.60" y="412.30" font-size="5.0" fill="#2a2a2a" transform="rotate(-90 46.60 412.30)">CRP</text>
<line x1="46.20" y1="413.00" x2="46.20" y2="423.50" stroke="#1a1a1a" stroke-width="0.6"/>
<path d="M46.2,425.50 L44.9,423.00 L47.5,423.00 Z" fill="#1a1a1a"/>
<line x1="108.00" y1="380.60" x2="117.30" y2="380.60" stroke="#31508b" stroke-width="1.3"/>
<text x="120.60" y="382.60" font-size="5.5" fill="#2a2a2a">WT</text>
<line x1="108.00" y1="388.80" x2="117.30" y2="388.80" stroke="#b5042c" stroke-width="1.3"/>
<text x="120.60" y="390.80" font-size="5.5" fill="#2a2a2a">DREAM KO</text>
<line x1="190.40" y1="384.80" x2="190.40" y2="456.10" stroke="#1a1a1a" stroke-width="1.0"/>
<line x1="188.00" y1="455.60" x2="190.40" y2="455.60" stroke="#1a1a1a" stroke-width="0.8"/>
<text x="185.80" y="457.40" font-size="5.0" text-anchor="end" fill="#2a2a2a">0.0</text>
<line x1="188.00" y1="432.54" x2="190.40" y2="432.54" stroke="#1a1a1a" stroke-width="0.8"/>
<text x="185.80" y="434.34" font-size="5.0" text-anchor="end" fill="#2a2a2a">0.5</text>
<line x1="188.00" y1="409.47" x2="190.40" y2="409.47" stroke="#1a1a1a" stroke-width="0.8"/>
<text x="185.80" y="411.27" font-size="5.0" text-anchor="end" fill="#2a2a2a">1.0</text>
<line x1="188.00" y1="386.41" x2="190.40" y2="386.41" stroke="#1a1a1a" stroke-width="0.8"/>
<text x="185.80" y="388.21" font-size="5.0" text-anchor="end" fill="#2a2a2a">1.5</text>
<rect x="199.70" y="417.31" width="34.50" height="38.29" fill="#31508b"/>
<rect x="251.20" y="431.15" width="34.70" height="24.45" fill="#b5042c"/>
<circle cx="217.10" cy="410.85" r="2.2" fill="none" stroke="#1a1a1a" stroke-width="1.15"/>
<circle cx="213.30" cy="421.93" r="2.2" fill="none" stroke="#1a1a1a" stroke-width="1.15"/>
<circle cx="220.60" cy="419.62" r="2.2" fill="none" stroke="#1a1a1a" stroke-width="1.15"/>
<rect x="259.60" y="426.51" width="4.2" height="4.2" fill="none" stroke="#1a1a1a" stroke-width="1.15"/>
<rect x="266.60" y="432.51" width="4.2" height="4.2" fill="none" stroke="#1a1a1a" stroke-width="1.15"/>
<rect x="273.90" y="429.28" width="4.2" height="4.2" fill="none" stroke="#1a1a1a" stroke-width="1.15"/>
<line x1="190.40" y1="455.60" x2="294.60" y2="455.60" stroke="#1a1a1a" stroke-width="1.0"/>
<line x1="217.00" y1="455.60" x2="217.00" y2="457.60" stroke="#1a1a1a" stroke-width="0.8"/>
<line x1="268.70" y1="455.60" x2="268.70" y2="457.60" stroke="#1a1a1a" stroke-width="0.8"/>
<text x="217.00" y="465.20" font-size="5.0" text-anchor="middle" fill="#2a2a2a">WT</text>
<text x="268.70" y="465.20" font-size="5.0" text-anchor="middle" fill="#2a2a2a">DREAM KO</text>
<text x="268.50" y="420.59" font-size="7.0" text-anchor="middle" font-weight="bold" fill="#222">*</text>
<text transform="translate(163.2 419.00) rotate(-90)" font-size="6.6" text-anchor="middle" fill="#2a2a2a">Ca<tspan font-size="4.3" dy="-2.4">2+</tspan><tspan dy="2.4"> release</tspan></text>
<text transform="translate(173.6 419.00) rotate(-90)" font-size="6.6" text-anchor="middle" fill="#2a2a2a">(AUC, 10<tspan font-size="4.3" dy="-2.4">6</tspan><tspan dy="2.4">)</tspan></text>
<text x="7.00" y="502.30" font-size="12.5" font-weight="bold" fill="#000">E</text>
<line x1="40.50" y1="503.50" x2="40.50" y2="580.50" stroke="#1a1a1a" stroke-width="1.0"/>
<line x1="38.10" y1="580.00" x2="40.50" y2="580.00" stroke="#1a1a1a" stroke-width="0.8"/>
<text x="34.70" y="581.90" font-size="5.3" text-anchor="end" fill="#2a2a2a">0</text>
<line x1="38.10" y1="542.90" x2="40.50" y2="542.90" stroke="#1a1a1a" stroke-width="0.8"/>
<text x="34.70" y="544.80" font-size="5.3" text-anchor="end" fill="#2a2a2a">1</text>
<line x1="38.10" y1="505.80" x2="40.50" y2="505.80" stroke="#1a1a1a" stroke-width="0.8"/>
<text x="34.70" y="507.70" font-size="5.3" text-anchor="end" fill="#2a2a2a">2</text>
<line x1="40.50" y1="580.00" x2="148.50" y2="580.00" stroke="#1a1a1a" stroke-width="1.0"/>
<line x1="40.50" y1="580.00" x2="40.50" y2="582.20" stroke="#1a1a1a" stroke-width="0.8"/>
<text x="40.50" y="589.00" font-size="5.0" text-anchor="middle" fill="#2a2a2a">0</text>
<line x1="76.17" y1="580.00" x2="76.17" y2="582.20" stroke="#1a1a1a" stroke-width="0.8"/>
<text x="76.17" y="589.00" font-size="5.0" text-anchor="middle" fill="#2a2a2a">100</text>
<line x1="111.83" y1="580.00" x2="111.83" y2="582.20" stroke="#1a1a1a" stroke-width="0.8"/>
<text x="111.83" y="589.00" font-size="5.0" text-anchor="middle" fill="#2a2a2a">200</text>
<line x1="147.50" y1="580.00" x2="147.50" y2="582.20" stroke="#1a1a1a" stroke-width="0.8"/>
<text x="147.50" y="589.00" font-size="5.0" text-anchor="middle" fill="#2a2a2a">300</text>
<text transform="translate(95.00 600.00) scale(0.86 1)" font-size="8.0" text-anchor="middle" fill="#222" style="stroke-width:0.3px">Time (second)</text>
<text transform="translate(25.2 541.50) rotate(-90)" font-size="6.95" text-anchor="middle" fill="#2a2a2a">Fluorescence value (10<tspan font-size="4.5" dy="-2.5">4</tspan><tspan dy="2.5">)</tspan></text>
<path d="M40.50,557.74 L40.79,557.80 L41.18,557.89 L41.64,557.99 L42.16,558.11 L42.73,558.24 L43.31,558.37 L43.89,558.49 L44.46,558.61 L45.00,558.71 L45.48,558.78 L45.89,558.83 L46.21,558.85 L46.44,558.85 L46.61,558.83 L46.72,558.79 L46.79,558.74 L46.82,558.68 L46.83,558.60 L46.83,558.50 L46.81,558.39 L46.81,558.25 L46.82,558.10 L46.85,557.93 L46.92,557.74 L47.01,557.53 L47.11,557.31 L47.22,557.08 L47.33,556.83 L47.45,556.57 L47.57,556.28 L47.69,555.97 L47.82,555.64 L47.95,555.28 L48.08,554.89 L48.21,554.48 L48.35,554.03 L48.48,553.53 L48.62,552.97 L48.77,552.35 L48.91,551.69 L49.06,551.01 L49.22,550.32 L49.37,549.63 L49.52,548.95 L49.68,548.29 L49.83,547.67 L49.98,547.11 L50.13,546.61 L50.28,546.16 L50.42,545.72 L50.57,545.31 L50.71,544.92 L50.85,544.56 L51.00,544.22 L51.14,543.92 L51.29,543.64 L51.44,543.40 L51.60,543.20 L51.75,543.03 L51.91,542.90 L52.07,542.82 L52.23,542.80 L52.39,542.82 L52.55,542.89 L52.71,542.98 L52.87,543.11 L53.04,543.25 L53.22,543.41 L53.41,543.57 L53.61,543.73 L53.82,543.88 L54.05,544.01 L54.30,544.14 L54.56,544.28 L54.83,544.72 L55.11,545.11 L55.40,545.48 L55.70,546.15 L56.01,546.12 L56.33,545.88 L56.64,545.58 L56.97,545.55 L57.29,545.49 L57.62,545.46 L57.93,545.44 L58.22,545.26 L58.49,545.53 L58.76,545.99 L59.03,546.51 L59.31,546.69 L59.63,546.47 L59.97,546.26 L60.36,546.34 L60.81,546.74 L61.32,547.42 L61.90,547.68 L62.57,548.01 L63.31,547.82 L64.12,547.11 L64.99,548.33 L65.90,548.30 L66.85,548.42 L67.82,548.41 L68.80,548.96 L69.77,547.79 L70.74,547.40 L71.69,548.36 L72.60,548.38 L73.47,548.50 L74.30,548.48 L75.11,549.09 L75.90,548.45 L76.70,547.54 L77.50,547.70 L78.34,547.99 L79.20,547.82 L80.12,546.62 L81.10,547.06 L82.16,546.27 L83.30,545.51 L84.56,546.85 L85.94,546.78 L87.42,546.52 L88.98,545.52 L90.59,545.57 L92.22,545.32 L93.85,545.41 L95.45,544.82 L97.01,545.65 L98.49,545.83 L99.87,544.93 L101.13,544.52 L102.26,543.99 L103.29,544.14 L104.23,545.07 L105.10,543.97 L105.92,543.71 L106.71,543.44 L107.48,543.80 L108.27,543.11 L109.07,543.47 L109.93,543.97 L110.84,544.19 L111.83,542.66 L112.90,542.34 L114.00,542.33 L115.15,542.11 L116.32,543.10 L117.52,542.44 L118.74,541.60 L119.97,542.74 L121.21,542.19 L122.45,542.36 L123.68,542.38 L124.90,540.76 L126.10,541.44 L127.31,541.99 L128.56,541.36 L129.83,542.09 L131.12,540.87 L132.41,541.48 L133.68,541.14 L134.93,540.54 L136.14,541.13 L137.30,539.45 L138.40,540.00 L139.43,540.90 L140.37,540.25 L141.23,540.29 L142.05,540.51 L142.82,540.61 L143.54,539.88 L144.21,539.21 L144.82,539.83 L145.39,540.28 L145.91,540.33 L146.39,540.52 L146.81,540.13 L147.18,539.65 L147.50,539.52" fill="none" stroke="#a3173e" stroke-width="1.4" stroke-linejoin="round"/>
<path d="M40.50,557.00 L40.79,557.04 L41.18,557.10 L41.64,557.17 L42.16,557.25 L42.73,557.33 L43.31,557.42 L43.89,557.50 L44.46,557.58 L45.00,557.64 L45.48,557.69 L45.89,557.73 L46.21,557.74 L46.44,557.74 L46.61,557.75 L46.72,557.75 L46.79,557.75 L46.82,557.74 L46.83,557.72 L46.83,557.67 L46.81,557.60 L46.81,557.51 L46.82,557.38 L46.85,557.21 L46.92,557.00 L47.01,556.77 L47.11,556.55 L47.22,556.31 L47.33,556.06 L47.45,555.78 L47.57,555.47 L47.69,555.10 L47.82,554.68 L47.95,554.18 L48.08,553.61 L48.21,552.94 L48.35,552.17 L48.48,551.26 L48.62,550.19 L48.77,548.98 L48.91,547.67 L49.06,546.29 L49.22,544.87 L49.37,543.45 L49.52,542.05 L49.68,540.71 L49.83,539.45 L49.98,538.32 L50.13,537.34 L50.28,536.46 L50.42,535.64 L50.57,534.87 L50.71,534.15 L50.85,533.49 L51.00,532.88 L51.14,532.34 L51.29,531.87 L51.44,531.46 L51.60,531.12 L51.75,530.85 L51.91,530.66 L52.07,530.56 L52.23,530.58 L52.39,530.70 L52.55,530.90 L52.71,531.17 L52.87,531.49 L53.04,531.85 L53.22,532.22 L53.41,532.60 L53.61,532.98 L53.82,533.32 L54.05,533.62 L54.30,533.91 L54.56,534.22 L54.83,535.11 L55.11,534.77 L55.40,534.65 L55.70,534.85 L56.01,535.55 L56.33,535.50 L56.64,536.13 L56.97,536.21 L57.29,536.93 L57.62,537.28 L57.94,537.73 L58.26,537.67 L58.57,537.50 L58.89,537.43 L59.21,537.73 L59.54,538.30 L59.88,539.05 L60.24,539.50 L60.61,539.61 L61.01,539.88 L61.44,539.84 L61.90,539.54 L62.37,538.67 L62.84,538.77 L63.32,539.62 L63.80,539.52 L64.31,539.46 L64.84,539.44 L65.41,539.24 L66.02,539.26 L66.68,540.20 L67.40,540.28 L68.18,539.81 L69.03,539.53 L69.95,539.85 L70.92,540.28 L71.93,539.97 L73.00,540.39 L74.11,540.17 L75.28,538.22 L76.49,538.70 L77.75,538.97 L79.06,538.68 L80.43,538.87 L81.84,537.87 L83.30,539.42 L84.82,538.70 L86.41,538.83 L88.06,537.31 L89.77,538.43 L91.53,537.87 L93.33,538.41 L95.17,537.86 L97.04,537.96 L98.93,537.73 L100.84,536.68 L102.77,538.55 L104.70,537.64 L106.70,536.86 L108.82,537.47 L111.03,536.49 L113.29,536.64 L115.57,537.84 L117.85,536.39 L120.09,536.12 L122.27,536.91 L124.34,536.36 L126.29,536.41 L128.07,537.42 L129.67,535.73 L131.07,536.01 L132.32,535.48 L133.43,535.46 L134.42,536.09 L135.32,535.60 L136.13,534.53 L136.88,535.01 L137.59,535.22 L138.28,536.03 L138.95,535.06 L139.65,534.95 L140.37,535.09 L141.11,534.89 L141.84,534.60 L142.57,533.53 L143.27,534.13 L143.95,534.80 L144.60,535.25 L145.21,535.06 L145.78,534.89 L146.30,535.11 L146.77,535.47 L147.17,535.90 L147.50,535.96" fill="none" stroke="#33486f" stroke-width="1.4" stroke-linejoin="round"/>
<text x="46.60" y="537.50" font-size="5.0" fill="#2a2a2a" transform="rotate(-90 46.60 537.50)">A23187</text>
<line x1="46.20" y1="538.50" x2="46.20" y2="552.30" stroke="#1a1a1a" stroke-width="0.6"/>
<path d="M46.2,554.30 L44.9,551.80 L47.5,551.80 Z" fill="#1a1a1a"/>
<line x1="108.00" y1="505.60" x2="117.30" y2="505.60" stroke="#31508b" stroke-width="1.3"/>
<text x="120.60" y="507.60" font-size="5.5" fill="#2a2a2a">WT</text>
<line x1="108.00" y1="513.80" x2="117.30" y2="513.80" stroke="#b5042c" stroke-width="1.3"/>
<text x="120.60" y="515.80" font-size="5.5" fill="#2a2a2a">DREAM KO</text>
<line x1="190.40" y1="509.80" x2="190.40" y2="581.10" stroke="#1a1a1a" stroke-width="1.0"/>
<line x1="188.00" y1="580.60" x2="190.40" y2="580.60" stroke="#1a1a1a" stroke-width="0.8"/>
<text x="185.80" y="582.40" font-size="5.0" text-anchor="end" fill="#2a2a2a">0</text>
<line x1="188.00" y1="546.30" x2="190.40" y2="546.30" stroke="#1a1a1a" stroke-width="0.8"/>
<text x="185.80" y="548.10" font-size="5.0" text-anchor="end" fill="#2a2a2a">2</text>
<line x1="188.00" y1="512.00" x2="190.40" y2="512.00" stroke="#1a1a1a" stroke-width="0.8"/>
<text x="185.80" y="513.80" font-size="5.0" text-anchor="end" fill="#2a2a2a">4</text>
<rect x="198.90" y="524.00" width="34.50" height="56.59" fill="#31508b"/>
<rect x="250.40" y="540.13" width="34.70" height="40.47" fill="#b5042c"/>
<circle cx="208.80" cy="522.80" r="2.2" fill="none" stroke="#1a1a1a" stroke-width="1.15"/>
<circle cx="216.20" cy="525.21" r="2.2" fill="none" stroke="#1a1a1a" stroke-width="1.15"/>
<circle cx="223.50" cy="525.03" r="2.2" fill="none" stroke="#1a1a1a" stroke-width="1.15"/>
<rect x="258.30" y="535.97" width="4.2" height="4.2" fill="none" stroke="#1a1a1a" stroke-width="1.15"/>
<rect x="265.60" y="538.03" width="4.2" height="4.2" fill="none" stroke="#1a1a1a" stroke-width="1.15"/>
<rect x="272.70" y="538.03" width="4.2" height="4.2" fill="none" stroke="#1a1a1a" stroke-width="1.15"/>
<line x1="190.40" y1="580.60" x2="294.60" y2="580.60" stroke="#1a1a1a" stroke-width="1.0"/>
<line x1="217.00" y1="580.60" x2="217.00" y2="582.60" stroke="#1a1a1a" stroke-width="0.8"/>
<line x1="268.70" y1="580.60" x2="268.70" y2="582.60" stroke="#1a1a1a" stroke-width="0.8"/>
<text x="217.00" y="590.20" font-size="5.0" text-anchor="middle" fill="#2a2a2a">WT</text>
<text x="268.70" y="590.20" font-size="5.0" text-anchor="middle" fill="#2a2a2a">DREAM KO</text>
<text x="268.50" y="530.69" font-size="7.0" text-anchor="middle" font-weight="bold" fill="#222">**</text>
<text transform="translate(163.2 544.00) rotate(-90)" font-size="6.6" text-anchor="middle" fill="#2a2a2a">Ca<tspan font-size="4.3" dy="-2.4">2+</tspan><tspan dy="2.4"> release</tspan></text>
<text transform="translate(173.6 544.00) rotate(-90)" font-size="6.6" text-anchor="middle" fill="#2a2a2a">(AUC, 10<tspan font-size="4.3" dy="-2.4">6</tspan><tspan dy="2.4">)</tspan></text>
<text x="7.50" y="623.30" font-size="12.5" font-weight="bold" fill="#000">H</text>
<text x="260.00" y="622.50" font-size="8.6" text-anchor="middle" fill="#111">1 μg/ml CRP</text>
<line x1="32.80" y1="650.75" x2="124.42" y2="650.75" stroke="#1a1a1a" stroke-width="1.0"/>
<line x1="35.40" y1="648.55" x2="35.40" y2="651.25" stroke="#1a1a1a" stroke-width="0.8"/>
<line x1="46.39" y1="648.55" x2="46.39" y2="651.25" stroke="#1a1a1a" stroke-width="0.8"/>
<line x1="57.38" y1="648.55" x2="57.38" y2="651.25" stroke="#1a1a1a" stroke-width="0.8"/>
<line x1="68.37" y1="648.55" x2="68.37" y2="651.25" stroke="#1a1a1a" stroke-width="0.8"/>
<line x1="79.36" y1="648.55" x2="79.36" y2="651.25" stroke="#1a1a1a" stroke-width="0.8"/>
<line x1="90.35" y1="648.55" x2="90.35" y2="651.25" stroke="#1a1a1a" stroke-width="0.8"/>
<line x1="101.34" y1="648.55" x2="101.34" y2="651.25" stroke="#1a1a1a" stroke-width="0.8"/>
<line x1="112.33" y1="648.55" x2="112.33" y2="651.25" stroke="#1a1a1a" stroke-width="0.8"/>
<line x1="123.32" y1="648.55" x2="123.32" y2="651.25" stroke="#1a1a1a" stroke-width="0.8"/>
<text x="35.40" y="644.75" font-size="6.4" text-anchor="middle" fill="#2a2a2a" style="stroke-width:0.28px">0</text>
<text x="57.38" y="644.75" font-size="6.4" text-anchor="middle" fill="#2a2a2a" style="stroke-width:0.28px">100</text>
<text x="79.36" y="644.75" font-size="6.4" text-anchor="middle" fill="#2a2a2a" style="stroke-width:0.28px">200</text>
<text x="101.34" y="644.75" font-size="6.4" text-anchor="middle" fill="#2a2a2a" style="stroke-width:0.28px">300</text>
<text x="123.32" y="644.75" font-size="6.4" text-anchor="middle" fill="#2a2a2a" style="stroke-width:0.28px">400</text>
<text transform="translate(80.66 635.25) scale(0.85 1)" font-size="8.7" text-anchor="middle" fill="#222" style="stroke-width:0.3px">Time (second)</text>
<line x1="35.40" y1="648.35" x2="35.40" y2="725.60" stroke="#1a1a1a" stroke-width="1.0"/>
<line x1="33.00" y1="650.75" x2="35.40" y2="650.75" stroke="#1a1a1a" stroke-width="0.8"/>
<text x="29.40" y="652.85" font-size="6.4" text-anchor="end" fill="#2a2a2a" style="stroke-width:0.28px">0</text>
<line x1="33.00" y1="665.20" x2="35.40" y2="665.20" stroke="#1a1a1a" stroke-width="0.8"/>
<text x="29.40" y="667.30" font-size="6.4" text-anchor="end" fill="#2a2a2a" style="stroke-width:0.28px">20</text>
<line x1="33.00" y1="679.65" x2="35.40" y2="679.65" stroke="#1a1a1a" stroke-width="0.8"/>
<text x="29.40" y="681.75" font-size="6.4" text-anchor="end" fill="#2a2a2a" style="stroke-width:0.28px">40</text>
<line x1="33.00" y1="694.10" x2="35.40" y2="694.10" stroke="#1a1a1a" stroke-width="0.8"/>
<text x="29.40" y="696.20" font-size="6.4" text-anchor="end" fill="#2a2a2a" style="stroke-width:0.28px">60</text>
<line x1="33.00" y1="708.55" x2="35.40" y2="708.55" stroke="#1a1a1a" stroke-width="0.8"/>
<text x="29.40" y="710.65" font-size="6.4" text-anchor="end" fill="#2a2a2a" style="stroke-width:0.28px">80</text>
<line x1="33.00" y1="723.00" x2="35.40" y2="723.00" stroke="#1a1a1a" stroke-width="0.8"/>
<text x="29.40" y="725.10" font-size="6.4" text-anchor="end" fill="#2a2a2a" style="stroke-width:0.28px">100</text>
<text transform="translate(14.20 686.88) rotate(-90) scale(0.92 1)" font-size="8.3" text-anchor="middle" fill="#222" style="stroke-width:0.3px">Light transmission</text>
<path d="M35.40,660.50 L35.65,660.44 L35.99,660.36 L36.39,660.25 L36.84,660.14 L37.32,660.03 L37.80,659.93 L38.26,659.84 L38.70,659.78 L39.11,659.75 L39.52,659.74 L39.93,659.74 L40.35,659.76 L40.76,659.78 L41.17,659.79 L41.58,659.79 L41.99,659.78 L42.41,659.75 L42.82,659.69 L43.23,659.62 L43.64,659.56 L44.05,659.49 L44.47,659.44 L44.88,659.42 L45.29,659.42 L45.70,659.46 L46.12,659.53 L46.53,659.63 L46.94,659.74 L47.35,659.85 L47.76,659.96 L48.18,660.06 L48.59,660.14 L49.00,660.20 L49.41,660.25 L49.82,660.29 L50.24,660.32 L50.65,660.36 L51.06,660.40 L51.47,660.44 L51.88,660.50 L52.23,660.58 L52.48,660.66 L52.69,660.75 L52.92,660.84 L53.22,660.94 L53.66,661.04 L54.30,661.13 L55.18,661.23 L56.37,661.31 L57.84,661.38 L59.50,661.45 L61.30,661.52 L63.15,661.60 L65.00,661.69 L66.76,661.81 L68.37,661.95 L69.85,662.12 L71.27,662.32 L72.65,662.55 L74.00,662.78 L75.34,663.03 L76.66,663.28 L78.00,663.52 L79.36,663.75 L80.73,663.98 L82.11,664.21 L83.48,664.43 L84.85,664.66 L86.23,664.88 L87.60,665.11 L88.98,665.34 L90.35,665.56 L91.72,665.79 L93.10,666.01 L94.47,666.24 L95.84,666.46 L97.22,666.69 L98.59,666.92 L99.97,667.14 L101.34,667.37 L102.72,667.60 L104.10,667.83 L105.48,668.06 L106.86,668.29 L108.24,668.52 L109.61,668.75 L110.98,668.97 L112.33,669.17 L113.74,669.38 L115.25,669.59 L116.78,669.81 L118.29,670.01 L119.72,670.20 L120.99,670.37 L122.07,670.51 L122.88,670.62" fill="none" stroke="#86607c" stroke-width="1.2" stroke-dasharray="0.9,0.7" stroke-linejoin="round"/>
<path d="M35.40,660.50 L35.65,660.48 L35.99,660.44 L36.39,660.39 L36.84,660.35 L37.32,660.29 L37.80,660.24 L38.26,660.19 L38.70,660.14 L39.11,660.09 L39.52,660.04 L39.93,659.99 L40.35,659.94 L40.76,659.89 L41.17,659.85 L41.58,659.81 L41.99,659.78 L42.41,659.76 L42.82,659.75 L43.23,659.74 L43.64,659.74 L44.05,659.74 L44.47,659.75 L44.88,659.76 L45.29,659.78 L45.70,659.81 L46.12,659.85 L46.53,659.89 L46.94,659.94 L47.35,659.99 L47.76,660.04 L48.18,660.09 L48.59,660.14 L49.00,660.19 L49.41,660.22 L49.82,660.26 L50.24,660.30 L50.65,660.34 L51.06,660.39 L51.47,660.44 L51.88,660.50 L52.23,660.57 L52.48,660.65 L52.69,660.73 L52.92,660.82 L53.22,660.91 L53.66,661.01 L54.30,661.12 L55.18,661.23 L56.37,661.34 L57.84,661.45 L59.50,661.57 L61.30,661.70 L63.15,661.83 L65.00,661.98 L66.76,662.14 L68.37,662.31 L69.85,662.50 L71.27,662.71 L72.65,662.93 L74.00,663.17 L75.34,663.41 L76.66,663.65 L78.00,663.89 L79.36,664.12 L80.73,664.34 L82.11,664.57 L83.48,664.79 L84.85,665.02 L86.23,665.25 L87.60,665.47 L88.98,665.70 L90.35,665.92 L91.72,666.15 L93.10,666.37 L94.47,666.60 L95.84,666.83 L97.22,667.05 L98.59,667.28 L99.97,667.50 L101.34,667.73 L102.72,667.96 L104.10,668.19 L105.48,668.42 L106.86,668.65 L108.24,668.88 L109.61,669.11 L110.98,669.33 L112.33,669.53 L113.74,669.74 L115.25,669.96 L116.78,670.17 L118.29,670.37 L119.72,670.56 L120.99,670.73 L122.07,670.87 L122.88,670.98" fill="none" stroke="#8a4266" stroke-width="1.2" stroke-dasharray="1.4,0.8" stroke-linejoin="round"/>
<path d="M35.40,660.87 L35.74,660.84 L36.19,660.80 L36.73,660.76 L37.32,660.71 L37.95,660.66 L38.59,660.60 L39.22,660.55 L39.80,660.50 L40.35,660.46 L40.89,660.40 L41.44,660.35 L41.99,660.30 L42.54,660.25 L43.09,660.21 L43.64,660.17 L44.19,660.14 L44.73,660.12 L45.27,660.08 L45.79,660.05 L46.32,660.03 L46.86,660.02 L47.41,660.03 L47.99,660.07 L48.59,660.14 L49.21,660.23 L49.83,660.33 L50.47,660.45 L51.13,660.59 L51.81,660.77 L52.53,660.99 L53.28,661.26 L54.08,661.59 L54.93,661.98 L55.83,662.44 L56.76,662.95 L57.72,663.51 L58.71,664.09 L59.72,664.69 L60.75,665.31 L61.78,665.92 L62.82,666.56 L63.90,667.23 L64.99,667.92 L66.10,668.63 L67.22,669.34 L68.34,670.04 L69.46,670.71 L70.57,671.34 L71.65,671.94 L72.71,672.51 L73.77,673.06 L74.83,673.60 L75.90,674.12 L77.01,674.64 L78.16,675.16 L79.36,675.68 L80.63,676.20 L81.95,676.71 L83.32,677.22 L84.72,677.73 L86.13,678.23 L87.55,678.72 L88.96,679.19 L90.35,679.65 L91.72,680.10 L93.10,680.54 L94.47,680.97 L95.84,681.39 L97.22,681.79 L98.59,682.18 L99.97,682.55 L101.34,682.90 L102.72,683.23 L104.10,683.53 L105.48,683.81 L106.86,684.08 L108.24,684.33 L109.61,684.58 L110.98,684.82 L112.33,685.07 L113.74,685.32 L115.25,685.59 L116.78,685.85 L118.29,686.11 L119.72,686.35 L120.99,686.56 L122.07,686.74 L122.88,686.88" fill="none" stroke="#a02652" stroke-width="1.3" stroke-linejoin="round"/>
<path d="M35.40,660.87 L35.74,660.82 L36.19,660.76 L36.73,660.69 L37.32,660.62 L37.95,660.52 L38.59,660.42 L39.22,660.29 L39.80,660.14 L40.35,659.96 L40.92,659.74 L41.49,659.50 L42.06,659.24 L42.62,658.98 L43.17,658.74 L43.70,658.52 L44.19,658.34 L44.66,658.18 L45.09,658.05 L45.51,657.92 L45.91,657.82 L46.30,657.73 L46.69,657.67 L47.08,657.63 L47.49,657.61 L47.90,657.62 L48.31,657.64 L48.73,657.68 L49.14,657.75 L49.55,657.84 L49.96,657.97 L50.37,658.13 L50.79,658.34 L51.20,658.58 L51.61,658.86 L52.02,659.18 L52.43,659.53 L52.85,659.91 L53.26,660.33 L53.67,660.76 L54.08,661.23 L54.50,661.71 L54.91,662.23 L55.32,662.78 L55.73,663.35 L56.14,663.95 L56.56,664.58 L56.97,665.24 L57.38,665.92 L57.79,666.63 L58.20,667.37 L58.62,668.13 L59.03,668.93 L59.44,669.75 L59.85,670.60 L60.26,671.50 L60.68,672.42 L61.08,673.40 L61.48,674.41 L61.87,675.45 L62.26,676.53 L62.66,677.64 L63.07,678.78 L63.51,679.93 L63.97,681.10 L64.46,682.29 L64.97,683.51 L65.49,684.77 L66.03,686.04 L66.59,687.33 L67.17,688.62 L67.76,689.92 L68.37,691.21 L69.00,692.53 L69.65,693.89 L70.31,695.27 L70.99,696.65 L71.69,698.01 L72.40,699.31 L73.13,700.55 L73.86,701.69 L74.60,702.73 L75.35,703.71 L76.09,704.63 L76.86,705.49 L77.65,706.30 L78.47,707.08 L79.33,707.83 L80.24,708.55 L81.18,709.24 L82.13,709.87 L83.12,710.46 L84.14,711.02 L85.21,711.55 L86.34,712.07 L87.54,712.59 L88.81,713.10 L90.20,713.62 L91.70,714.12 L93.29,714.61 L94.92,715.08 L96.58,715.55 L98.22,716.00 L99.82,716.44 L101.34,716.86 L102.79,717.27 L104.21,717.68 L105.59,718.07 L106.96,718.45 L108.31,718.81 L109.65,719.15 L110.99,719.46 L112.33,719.75 L113.74,720.01 L115.25,720.25 L116.78,720.46 L118.29,720.65 L119.72,720.82 L120.99,720.97 L122.07,721.09 L122.88,721.19" fill="none" stroke="#4d5f88" stroke-width="1.3" stroke-linejoin="round"/>
<line x1="39.40" y1="703.25" x2="44.80" y2="703.25" stroke="#4d5f88" stroke-width="1.0"/>
<text x="46.20" y="704.95" font-size="5.0" fill="#2a2a2a">WT</text>
<line x1="39.40" y1="710.05" x2="44.80" y2="710.05" stroke="#a02652" stroke-width="1.0"/>
<text x="46.20" y="711.75" font-size="5.0" fill="#2a2a2a">DREAM KO</text>
<line x1="39.40" y1="716.85" x2="44.80" y2="716.85" stroke="#86607c" stroke-width="0.9" stroke-dasharray="0.9,0.7"/>
<text x="46.20" y="718.55" font-size="5.0" fill="#2a2a2a">WT + LY294002</text>
<line x1="39.40" y1="723.65" x2="44.80" y2="723.65" stroke="#8a4266" stroke-width="0.9" stroke-dasharray="1.4,0.8"/>
<text x="46.20" y="725.35" font-size="5.0" fill="#2a2a2a">DREAM KO + LY294002</text>
<line x1="161.15" y1="650.75" x2="251.07" y2="650.75" stroke="#1a1a1a" stroke-width="1.0"/>
<line x1="163.75" y1="648.55" x2="163.75" y2="651.25" stroke="#1a1a1a" stroke-width="0.8"/>
<line x1="174.53" y1="648.55" x2="174.53" y2="651.25" stroke="#1a1a1a" stroke-width="0.8"/>
<line x1="185.31" y1="648.55" x2="185.31" y2="651.25" stroke="#1a1a1a" stroke-width="0.8"/>
<line x1="196.09" y1="648.55" x2="196.09" y2="651.25" stroke="#1a1a1a" stroke-width="0.8"/>
<line x1="206.87" y1="648.55" x2="206.87" y2="651.25" stroke="#1a1a1a" stroke-width="0.8"/>
<line x1="217.65" y1="648.55" x2="217.65" y2="651.25" stroke="#1a1a1a" stroke-width="0.8"/>
<line x1="228.43" y1="648.55" x2="228.43" y2="651.25" stroke="#1a1a1a" stroke-width="0.8"/>
<line x1="239.21" y1="648.55" x2="239.21" y2="651.25" stroke="#1a1a1a" stroke-width="0.8"/>
<line x1="249.99" y1="648.55" x2="249.99" y2="651.25" stroke="#1a1a1a" stroke-width="0.8"/>
<text x="163.75" y="644.75" font-size="6.4" text-anchor="middle" fill="#2a2a2a" style="stroke-width:0.28px">0</text>
<text x="185.31" y="644.75" font-size="6.4" text-anchor="middle" fill="#2a2a2a" style="stroke-width:0.28px">100</text>
<text x="206.87" y="644.75" font-size="6.4" text-anchor="middle" fill="#2a2a2a" style="stroke-width:0.28px">200</text>
<text x="228.43" y="644.75" font-size="6.4" text-anchor="middle" fill="#2a2a2a" style="stroke-width:0.28px">300</text>
<text x="249.99" y="644.75" font-size="6.4" text-anchor="middle" fill="#2a2a2a" style="stroke-width:0.28px">400</text>
<text transform="translate(208.17 635.25) scale(0.85 1)" font-size="8.7" text-anchor="middle" fill="#222" style="stroke-width:0.3px">Time (second)</text>
<line x1="163.75" y1="648.35" x2="163.75" y2="725.60" stroke="#1a1a1a" stroke-width="1.0"/>
<line x1="161.35" y1="650.75" x2="163.75" y2="650.75" stroke="#1a1a1a" stroke-width="0.8"/>
<text x="157.75" y="652.85" font-size="6.4" text-anchor="end" fill="#2a2a2a" style="stroke-width:0.28px">0</text>
<line x1="161.35" y1="665.20" x2="163.75" y2="665.20" stroke="#1a1a1a" stroke-width="0.8"/>
<text x="157.75" y="667.30" font-size="6.4" text-anchor="end" fill="#2a2a2a" style="stroke-width:0.28px">20</text>
<line x1="161.35" y1="679.65" x2="163.75" y2="679.65" stroke="#1a1a1a" stroke-width="0.8"/>
<text x="157.75" y="681.75" font-size="6.4" text-anchor="end" fill="#2a2a2a" style="stroke-width:0.28px">40</text>
<line x1="161.35" y1="694.10" x2="163.75" y2="694.10" stroke="#1a1a1a" stroke-width="0.8"/>
<text x="157.75" y="696.20" font-size="6.4" text-anchor="end" fill="#2a2a2a" style="stroke-width:0.28px">60</text>
<line x1="161.35" y1="708.55" x2="163.75" y2="708.55" stroke="#1a1a1a" stroke-width="0.8"/>
<text x="157.75" y="710.65" font-size="6.4" text-anchor="end" fill="#2a2a2a" style="stroke-width:0.28px">80</text>
<line x1="161.35" y1="723.00" x2="163.75" y2="723.00" stroke="#1a1a1a" stroke-width="0.8"/>
<text x="157.75" y="725.10" font-size="6.4" text-anchor="end" fill="#2a2a2a" style="stroke-width:0.28px">100</text>
<text transform="translate(142.55 686.88) rotate(-90) scale(0.92 1)" font-size="8.3" text-anchor="middle" fill="#222" style="stroke-width:0.3px">Light transmission</text>
<path d="M163.75,660.87 L164.25,660.77 L164.91,660.64 L165.70,660.49 L166.58,660.32 L167.51,660.16 L168.45,660.00 L169.37,659.87 L170.22,659.78 L171.03,659.73 L171.84,659.70 L172.64,659.69 L173.45,659.69 L174.26,659.71 L175.07,659.73 L175.88,659.76 L176.69,659.78 L177.45,659.80 L178.15,659.83 L178.83,659.86 L179.52,659.89 L180.25,659.94 L181.08,659.99 L182.04,660.06 L183.15,660.14 L184.48,660.24 L185.98,660.35 L187.63,660.48 L189.35,660.62 L191.11,660.76 L192.86,660.91 L194.53,661.07 L196.09,661.23 L197.54,661.39 L198.94,661.55 L200.29,661.73 L201.61,661.90 L202.92,662.09 L204.23,662.28 L205.54,662.47 L206.87,662.67 L208.22,662.88 L209.56,663.10 L210.91,663.32 L212.26,663.55 L213.61,663.78 L214.96,664.02 L216.30,664.25 L217.65,664.48 L219.00,664.71 L220.34,664.94 L221.69,665.17 L223.04,665.40 L224.39,665.63 L225.74,665.86 L227.08,666.08 L228.43,666.28 L229.78,666.48 L231.14,666.68 L232.49,666.87 L233.85,667.05 L235.20,667.23 L236.55,667.40 L237.88,667.57 L239.21,667.73 L240.59,667.89 L242.07,668.05 L243.58,668.21 L245.06,668.36 L246.45,668.50 L247.71,668.63 L248.76,668.73 L249.56,668.81" fill="none" stroke="#86607c" stroke-width="1.2" stroke-dasharray="0.9,0.7" stroke-linejoin="round"/>
<path d="M163.75,660.87 L164.25,660.77 L164.91,660.64 L165.70,660.49 L166.58,660.32 L167.51,660.16 L168.45,660.00 L169.37,659.87 L170.22,659.78 L171.03,659.73 L171.84,659.70 L172.64,659.69 L173.45,659.69 L174.26,659.71 L175.07,659.73 L175.88,659.76 L176.69,659.78 L177.45,659.81 L178.15,659.84 L178.83,659.87 L179.52,659.92 L180.25,659.96 L181.08,660.02 L182.04,660.08 L183.15,660.14 L184.48,660.21 L185.98,660.28 L187.63,660.36 L189.35,660.44 L191.11,660.53 L192.86,660.63 L194.53,660.74 L196.09,660.87 L197.54,661.01 L198.94,661.17 L200.29,661.34 L201.61,661.52 L202.92,661.71 L204.23,661.91 L205.54,662.11 L206.87,662.31 L208.22,662.52 L209.56,662.74 L210.91,662.98 L212.26,663.21 L213.61,663.45 L214.96,663.68 L216.30,663.91 L217.65,664.12 L219.00,664.31 L220.34,664.50 L221.69,664.68 L223.04,664.86 L224.39,665.04 L225.74,665.21 L227.08,665.38 L228.43,665.56 L229.78,665.75 L231.14,665.94 L232.49,666.13 L233.85,666.33 L235.20,666.52 L236.55,666.70 L237.88,666.86 L239.21,667.01 L240.59,667.14 L242.07,667.25 L243.58,667.36 L245.06,667.46 L246.45,667.54 L247.71,667.62 L248.76,667.68 L249.56,667.73" fill="none" stroke="#8a4266" stroke-width="1.2" stroke-dasharray="1.4,0.8" stroke-linejoin="round"/>
<path d="M163.75,660.87 L164.25,660.81 L164.91,660.73 L165.70,660.63 L166.58,660.53 L167.51,660.42 L168.45,660.31 L169.37,660.22 L170.22,660.14 L171.03,660.07 L171.84,659.98 L172.64,659.89 L173.45,659.80 L174.26,659.74 L175.07,659.71 L175.88,659.72 L176.69,659.78 L177.49,659.89 L178.30,660.02 L179.11,660.19 L179.92,660.39 L180.73,660.63 L181.54,660.91 L182.35,661.23 L183.15,661.59 L183.95,662.00 L184.72,662.46 L185.48,662.96 L186.25,663.51 L187.04,664.08 L187.85,664.68 L188.71,665.29 L189.62,665.92 L190.60,666.58 L191.63,667.28 L192.70,668.02 L193.80,668.77 L194.92,669.52 L196.04,670.27 L197.15,671.00 L198.25,671.70 L199.31,672.37 L200.35,673.02 L201.39,673.65 L202.42,674.28 L203.48,674.90 L204.56,675.51 L205.69,676.13 L206.87,676.76 L208.11,677.40 L209.41,678.05 L210.75,678.70 L212.13,679.36 L213.51,680.00 L214.90,680.63 L216.29,681.24 L217.65,681.82 L219.00,682.37 L220.34,682.91 L221.69,683.43 L223.04,683.94 L224.39,684.43 L225.74,684.90 L227.08,685.35 L228.43,685.79 L229.78,686.21 L231.14,686.62 L232.49,687.00 L233.85,687.37 L235.20,687.72 L236.55,688.06 L237.88,688.38 L239.21,688.68 L240.59,688.97 L242.07,689.25 L243.58,689.52 L245.06,689.76 L246.45,689.99 L247.71,690.19 L248.76,690.36 L249.56,690.49" fill="none" stroke="#a02652" stroke-width="1.3" stroke-linejoin="round"/>
<path d="M163.75,660.87 L164.08,660.82 L164.52,660.77 L165.05,660.71 L165.64,660.64 L166.26,660.55 L166.88,660.44 L167.49,660.31 L168.06,660.14 L168.62,659.93 L169.19,659.66 L169.77,659.36 L170.35,659.04 L170.91,658.72 L171.45,658.42 L171.94,658.17 L172.37,657.98 L172.74,657.84 L173.04,657.73 L173.29,657.66 L173.52,657.61 L173.74,657.59 L173.97,657.59 L174.22,657.59 L174.53,657.61 L174.88,657.64 L175.26,657.68 L175.66,657.73 L176.08,657.79 L176.50,657.89 L176.93,658.00 L177.35,658.15 L177.76,658.34 L178.16,658.54 L178.55,658.77 L178.93,659.01 L179.31,659.28 L179.71,659.60 L180.11,659.96 L180.54,660.38 L181.00,660.87 L181.49,661.41 L182.00,662.00 L182.54,662.64 L183.09,663.33 L183.65,664.07 L184.21,664.87 L184.76,665.73 L185.31,666.64 L185.85,667.65 L186.39,668.74 L186.93,669.90 L187.47,671.12 L188.00,672.36 L188.54,673.60 L189.08,674.84 L189.62,676.04 L190.16,677.23 L190.70,678.45 L191.24,679.69 L191.78,680.91 L192.32,682.12 L192.86,683.29 L193.40,684.39 L193.93,685.43 L194.44,686.37 L194.91,687.22 L195.36,688.02 L195.82,688.77 L196.31,689.52 L196.86,690.27 L197.50,691.07 L198.25,691.93 L199.10,692.87 L200.05,693.87 L201.07,694.90 L202.15,695.95 L203.29,696.99 L204.46,698.01 L205.66,698.98 L206.87,699.88 L208.11,700.72 L209.41,701.52 L210.75,702.29 L212.13,703.02 L213.51,703.72 L214.90,704.39 L216.29,705.04 L217.65,705.66 L219.00,706.25 L220.34,706.81 L221.69,707.35 L223.04,707.85 L224.39,708.33 L225.74,708.78 L227.08,709.22 L228.43,709.63 L229.78,710.03 L231.14,710.39 L232.49,710.74 L233.85,711.06 L235.20,711.36 L236.55,711.64 L237.88,711.91 L239.21,712.16 L240.59,712.40 L242.07,712.63 L243.58,712.85 L245.06,713.04 L246.45,713.22 L247.71,713.37 L248.76,713.50 L249.56,713.61" fill="none" stroke="#4d5f88" stroke-width="1.3" stroke-linejoin="round"/>
<line x1="167.75" y1="703.25" x2="173.15" y2="703.25" stroke="#4d5f88" stroke-width="1.0"/>
<text x="174.55" y="704.95" font-size="5.0" fill="#2a2a2a">WT</text>
<line x1="167.75" y1="710.05" x2="173.15" y2="710.05" stroke="#a02652" stroke-width="1.0"/>
<text x="174.55" y="711.75" font-size="5.0" fill="#2a2a2a">DREAM KO</text>
<line x1="167.75" y1="716.85" x2="173.15" y2="716.85" stroke="#86607c" stroke-width="0.9" stroke-dasharray="0.9,0.7"/>
<text x="174.55" y="718.55" font-size="5.0" fill="#2a2a2a">WT + Wortmannin</text>
<line x1="167.75" y1="723.65" x2="173.15" y2="723.65" stroke="#8a4266" stroke-width="0.9" stroke-dasharray="1.4,0.8"/>
<text x="174.55" y="725.35" font-size="5.0" fill="#2a2a2a">DREAM KO + Wortmannin</text>
<line x1="289.90" y1="650.75" x2="381.19" y2="650.75" stroke="#1a1a1a" stroke-width="1.0"/>
<line x1="292.50" y1="648.55" x2="292.50" y2="651.25" stroke="#1a1a1a" stroke-width="0.8"/>
<line x1="303.45" y1="648.55" x2="303.45" y2="651.25" stroke="#1a1a1a" stroke-width="0.8"/>
<line x1="314.40" y1="648.55" x2="314.40" y2="651.25" stroke="#1a1a1a" stroke-width="0.8"/>
<line x1="325.35" y1="648.55" x2="325.35" y2="651.25" stroke="#1a1a1a" stroke-width="0.8"/>
<line x1="336.30" y1="648.55" x2="336.30" y2="651.25" stroke="#1a1a1a" stroke-width="0.8"/>
<line x1="347.25" y1="648.55" x2="347.25" y2="651.25" stroke="#1a1a1a" stroke-width="0.8"/>
<line x1="358.20" y1="648.55" x2="358.20" y2="651.25" stroke="#1a1a1a" stroke-width="0.8"/>
<line x1="369.15" y1="648.55" x2="369.15" y2="651.25" stroke="#1a1a1a" stroke-width="0.8"/>
<line x1="380.10" y1="648.55" x2="380.10" y2="651.25" stroke="#1a1a1a" stroke-width="0.8"/>
<text x="292.50" y="644.75" font-size="6.4" text-anchor="middle" fill="#2a2a2a" style="stroke-width:0.28px">0</text>
<text x="314.40" y="644.75" font-size="6.4" text-anchor="middle" fill="#2a2a2a" style="stroke-width:0.28px">100</text>
<text x="336.30" y="644.75" font-size="6.4" text-anchor="middle" fill="#2a2a2a" style="stroke-width:0.28px">200</text>
<text x="358.20" y="644.75" font-size="6.4" text-anchor="middle" fill="#2a2a2a" style="stroke-width:0.28px">300</text>
<text x="380.10" y="644.75" font-size="6.4" text-anchor="middle" fill="#2a2a2a" style="stroke-width:0.28px">400</text>
<text transform="translate(337.60 635.25) scale(0.85 1)" font-size="8.7" text-anchor="middle" fill="#222" style="stroke-width:0.3px">Time (second)</text>
<line x1="292.50" y1="648.35" x2="292.50" y2="725.60" stroke="#1a1a1a" stroke-width="1.0"/>
<line x1="290.10" y1="650.75" x2="292.50" y2="650.75" stroke="#1a1a1a" stroke-width="0.8"/>
<text x="286.50" y="652.85" font-size="6.4" text-anchor="end" fill="#2a2a2a" style="stroke-width:0.28px">0</text>
<line x1="290.10" y1="665.20" x2="292.50" y2="665.20" stroke="#1a1a1a" stroke-width="0.8"/>
<text x="286.50" y="667.30" font-size="6.4" text-anchor="end" fill="#2a2a2a" style="stroke-width:0.28px">20</text>
<line x1="290.10" y1="679.65" x2="292.50" y2="679.65" stroke="#1a1a1a" stroke-width="0.8"/>
<text x="286.50" y="681.75" font-size="6.4" text-anchor="end" fill="#2a2a2a" style="stroke-width:0.28px">40</text>
<line x1="290.10" y1="694.10" x2="292.50" y2="694.10" stroke="#1a1a1a" stroke-width="0.8"/>
<text x="286.50" y="696.20" font-size="6.4" text-anchor="end" fill="#2a2a2a" style="stroke-width:0.28px">60</text>
<line x1="290.10" y1="708.55" x2="292.50" y2="708.55" stroke="#1a1a1a" stroke-width="0.8"/>
<text x="286.50" y="710.65" font-size="6.4" text-anchor="end" fill="#2a2a2a" style="stroke-width:0.28px">80</text>
<line x1="290.10" y1="723.00" x2="292.50" y2="723.00" stroke="#1a1a1a" stroke-width="0.8"/>
<text x="286.50" y="725.10" font-size="6.4" text-anchor="end" fill="#2a2a2a" style="stroke-width:0.28px">100</text>
<text transform="translate(271.30 686.88) rotate(-90) scale(0.92 1)" font-size="8.3" text-anchor="middle" fill="#222" style="stroke-width:0.3px">Light transmission</text>
<path d="M292.50,660.87 L293.02,660.75 L293.73,660.60 L294.58,660.41 L295.51,660.21 L296.48,660.00 L297.43,659.79 L298.31,659.59 L299.07,659.42 L299.72,659.26 L300.32,659.09 L300.87,658.92 L301.40,658.77 L301.90,658.62 L302.41,658.50 L302.92,658.40 L303.45,658.34 L304.00,658.30 L304.55,658.30 L305.09,658.32 L305.64,658.36 L306.19,658.42 L306.74,658.50 L307.28,658.59 L307.83,658.70 L308.32,658.82 L308.72,658.96 L309.09,659.11 L309.47,659.28 L309.93,659.47 L310.50,659.68 L311.24,659.90 L312.21,660.14 L313.45,660.41 L314.93,660.70 L316.59,661.01 L318.37,661.34 L320.20,661.68 L322.01,662.01 L323.75,662.35 L325.35,662.67 L326.82,662.99 L328.24,663.30 L329.62,663.62 L330.96,663.94 L332.29,664.25 L333.61,664.57 L334.95,664.88 L336.30,665.20 L337.67,665.52 L339.04,665.83 L340.41,666.15 L341.77,666.46 L343.14,666.78 L344.51,667.10 L345.88,667.41 L347.25,667.73 L348.62,668.05 L349.99,668.37 L351.36,668.69 L352.73,669.02 L354.09,669.34 L355.46,669.65 L356.83,669.96 L358.20,670.26 L359.57,670.55 L360.95,670.84 L362.33,671.13 L363.70,671.41 L365.08,671.68 L366.44,671.94 L367.80,672.19 L369.15,672.42 L370.56,672.65 L372.06,672.87 L373.59,673.08 L375.09,673.28 L376.51,673.47 L377.78,673.63 L378.85,673.76 L379.66,673.87" fill="none" stroke="#86607c" stroke-width="1.2" stroke-dasharray="0.9,0.7" stroke-linejoin="round"/>
<path d="M292.50,660.87 L293.02,660.75 L293.73,660.61 L294.58,660.43 L295.51,660.23 L296.48,660.03 L297.43,659.82 L298.31,659.61 L299.07,659.42 L299.72,659.22 L300.32,659.01 L300.87,658.78 L301.40,658.56 L301.90,658.36 L302.41,658.18 L302.92,658.05 L303.45,657.98 L304.00,657.95 L304.55,657.95 L305.09,657.99 L305.64,658.07 L306.19,658.17 L306.74,658.31 L307.28,658.49 L307.83,658.70 L308.36,658.93 L308.87,659.17 L309.38,659.43 L309.88,659.74 L310.41,660.09 L310.96,660.51 L311.56,661.00 L312.21,661.59 L312.93,662.29 L313.70,663.11 L314.51,664.01 L315.36,664.97 L316.22,665.97 L317.09,666.96 L317.94,667.91 L318.78,668.81 L319.57,669.65 L320.32,670.47 L321.05,671.27 L321.79,672.06 L322.57,672.86 L323.40,673.66 L324.32,674.47 L325.35,675.32 L326.51,676.20 L327.78,677.14 L329.14,678.10 L330.55,679.06 L332.00,680.01 L333.46,680.92 L334.90,681.77 L336.30,682.54 L337.67,683.23 L339.04,683.85 L340.41,684.42 L341.77,684.96 L343.14,685.46 L344.51,685.94 L345.88,686.40 L347.25,686.88 L348.62,687.34 L349.99,687.78 L351.36,688.21 L352.73,688.61 L354.09,689.01 L355.46,689.39 L356.83,689.76 L358.20,690.13 L359.57,690.48 L360.95,690.83 L362.33,691.18 L363.70,691.50 L365.08,691.82 L366.44,692.12 L367.80,692.40 L369.15,692.65 L370.56,692.90 L372.06,693.13 L373.59,693.34 L375.09,693.54 L376.51,693.71 L377.78,693.87 L378.85,694.00 L379.66,694.10" fill="none" stroke="#8a4266" stroke-width="1.2" stroke-dasharray="1.4,0.8" stroke-linejoin="round"/>
<path d="M292.50,660.87 L293.02,660.75 L293.73,660.61 L294.58,660.43 L295.51,660.23 L296.48,660.03 L297.43,659.82 L298.31,659.61 L299.07,659.42 L299.72,659.22 L300.32,659.01 L300.87,658.78 L301.40,658.56 L301.90,658.36 L302.41,658.18 L302.92,658.05 L303.45,657.98 L304.00,657.95 L304.55,657.95 L305.09,657.99 L305.64,658.07 L306.19,658.17 L306.74,658.31 L307.28,658.49 L307.83,658.70 L308.36,658.93 L308.87,659.18 L309.38,659.46 L309.88,659.78 L310.41,660.14 L310.96,660.56 L311.56,661.04 L312.21,661.59 L312.93,662.23 L313.70,662.98 L314.51,663.79 L315.36,664.66 L316.22,665.55 L317.09,666.43 L317.94,667.29 L318.78,668.09 L319.57,668.84 L320.32,669.57 L321.05,670.28 L321.79,670.98 L322.57,671.68 L323.40,672.39 L324.32,673.12 L325.35,673.87 L326.51,674.66 L327.78,675.50 L329.14,676.35 L330.55,677.21 L332.00,678.06 L333.46,678.88 L334.90,679.66 L336.30,680.37 L337.67,681.03 L339.04,681.64 L340.41,682.22 L341.77,682.77 L343.14,683.28 L344.51,683.78 L345.88,684.25 L347.25,684.71 L348.62,685.14 L349.99,685.55 L351.36,685.93 L352.73,686.29 L354.09,686.63 L355.46,686.96 L356.83,687.28 L358.20,687.60 L359.57,687.91 L360.95,688.22 L362.33,688.51 L363.70,688.79 L365.08,689.06 L366.44,689.32 L367.80,689.55 L369.15,689.76 L370.56,689.96 L372.06,690.14 L373.59,690.30 L375.09,690.44 L376.51,690.57 L377.78,690.68 L378.85,690.77 L379.66,690.85" fill="none" stroke="#a02652" stroke-width="1.3" stroke-linejoin="round"/>
<path d="M292.50,660.87 L292.84,660.82 L293.29,660.77 L293.82,660.71 L294.42,660.64 L295.05,660.55 L295.68,660.44 L296.30,660.31 L296.88,660.14 L297.44,659.93 L298.03,659.66 L298.62,659.36 L299.21,659.04 L299.78,658.72 L300.32,658.42 L300.82,658.17 L301.26,657.98 L301.63,657.84 L301.94,657.73 L302.19,657.66 L302.42,657.61 L302.64,657.59 L302.88,657.59 L303.14,657.59 L303.45,657.61 L303.81,657.63 L304.19,657.66 L304.60,657.69 L305.02,657.75 L305.46,657.83 L305.89,657.95 L306.32,658.12 L306.74,658.34 L307.14,658.59 L307.53,658.86 L307.92,659.16 L308.31,659.51 L308.71,659.91 L309.12,660.39 L309.56,660.94 L310.02,661.59 L310.52,662.34 L311.04,663.19 L311.58,664.13 L312.14,665.13 L312.71,666.19 L313.28,667.29 L313.85,668.41 L314.40,669.53 L314.95,670.71 L315.50,671.95 L316.04,673.23 L316.59,674.55 L317.14,675.87 L317.69,677.17 L318.23,678.44 L318.78,679.65 L319.33,680.82 L319.88,681.99 L320.42,683.13 L320.97,684.26 L321.52,685.34 L322.06,686.39 L322.61,687.38 L323.16,688.32 L323.68,689.17 L324.15,689.93 L324.61,690.64 L325.08,691.30 L325.58,691.95 L326.14,692.62 L326.78,693.33 L327.54,694.10 L328.41,694.94 L329.37,695.84 L330.41,696.77 L331.51,697.71 L332.66,698.66 L333.85,699.59 L335.07,700.48 L336.30,701.33 L337.56,702.13 L338.88,702.92 L340.25,703.69 L341.64,704.44 L343.05,705.16 L344.46,705.85 L345.87,706.50 L347.25,707.11 L348.62,707.67 L349.99,708.19 L351.36,708.67 L352.73,709.11 L354.09,709.54 L355.46,709.94 L356.83,710.33 L358.20,710.72 L359.57,711.09 L360.95,711.45 L362.33,711.79 L363.70,712.12 L365.08,712.42 L366.44,712.72 L367.80,712.99 L369.15,713.25 L370.56,713.49 L372.06,713.72 L373.59,713.93 L375.09,714.13 L376.51,714.30 L377.78,714.46 L378.85,714.59 L379.66,714.69" fill="none" stroke="#4d5f88" stroke-width="1.3" stroke-linejoin="round"/>
<line x1="296.50" y1="703.25" x2="301.90" y2="703.25" stroke="#4d5f88" stroke-width="1.0"/>
<text x="303.30" y="704.95" font-size="5.0" fill="#2a2a2a">WT</text>
<line x1="296.50" y1="710.05" x2="301.90" y2="710.05" stroke="#a02652" stroke-width="1.0"/>
<text x="303.30" y="711.75" font-size="5.0" fill="#2a2a2a">DREAM KO</text>
<line x1="296.50" y1="716.85" x2="301.90" y2="716.85" stroke="#86607c" stroke-width="0.9" stroke-dasharray="0.9,0.7"/>
<text x="303.30" y="718.55" font-size="5.0" fill="#2a2a2a">WT + PIK75</text>
<line x1="296.50" y1="723.65" x2="301.90" y2="723.65" stroke="#8a4266" stroke-width="0.9" stroke-dasharray="1.4,0.8"/>
<text x="303.30" y="725.35" font-size="5.0" fill="#2a2a2a">DREAM KO + PIK75</text>
<line x1="417.00" y1="650.35" x2="508.50" y2="650.35" stroke="#1a1a1a" stroke-width="1.0"/>
<line x1="419.60" y1="648.15" x2="419.60" y2="650.85" stroke="#1a1a1a" stroke-width="0.8"/>
<line x1="430.58" y1="648.15" x2="430.58" y2="650.85" stroke="#1a1a1a" stroke-width="0.8"/>
<line x1="441.55" y1="648.15" x2="441.55" y2="650.85" stroke="#1a1a1a" stroke-width="0.8"/>
<line x1="452.53" y1="648.15" x2="452.53" y2="650.85" stroke="#1a1a1a" stroke-width="0.8"/>
<line x1="463.50" y1="648.15" x2="463.50" y2="650.85" stroke="#1a1a1a" stroke-width="0.8"/>
<line x1="474.48" y1="648.15" x2="474.48" y2="650.85" stroke="#1a1a1a" stroke-width="0.8"/>
<line x1="485.45" y1="648.15" x2="485.45" y2="650.85" stroke="#1a1a1a" stroke-width="0.8"/>
<line x1="496.43" y1="648.15" x2="496.43" y2="650.85" stroke="#1a1a1a" stroke-width="0.8"/>
<line x1="507.40" y1="648.15" x2="507.40" y2="650.85" stroke="#1a1a1a" stroke-width="0.8"/>
<text x="419.60" y="644.35" font-size="6.4" text-anchor="middle" fill="#2a2a2a" style="stroke-width:0.28px">0</text>
<text x="441.55" y="644.35" font-size="6.4" text-anchor="middle" fill="#2a2a2a" style="stroke-width:0.28px">100</text>
<text x="463.50" y="644.35" font-size="6.4" text-anchor="middle" fill="#2a2a2a" style="stroke-width:0.28px">200</text>
<text x="485.45" y="644.35" font-size="6.4" text-anchor="middle" fill="#2a2a2a" style="stroke-width:0.28px">300</text>
<text x="507.40" y="644.35" font-size="6.4" text-anchor="middle" fill="#2a2a2a" style="stroke-width:0.28px">400</text>
<text transform="translate(464.80 634.85) scale(0.85 1)" font-size="8.7" text-anchor="middle" fill="#222" style="stroke-width:0.3px">Time (second)</text>
<line x1="419.60" y1="647.95" x2="419.60" y2="726.45" stroke="#1a1a1a" stroke-width="1.0"/>
<line x1="417.20" y1="650.35" x2="419.60" y2="650.35" stroke="#1a1a1a" stroke-width="0.8"/>
<text x="413.60" y="652.45" font-size="6.4" text-anchor="end" fill="#2a2a2a" style="stroke-width:0.28px">0</text>
<line x1="417.20" y1="665.05" x2="419.60" y2="665.05" stroke="#1a1a1a" stroke-width="0.8"/>
<text x="413.60" y="667.15" font-size="6.4" text-anchor="end" fill="#2a2a2a" style="stroke-width:0.28px">20</text>
<line x1="417.20" y1="679.75" x2="419.60" y2="679.75" stroke="#1a1a1a" stroke-width="0.8"/>
<text x="413.60" y="681.85" font-size="6.4" text-anchor="end" fill="#2a2a2a" style="stroke-width:0.28px">40</text>
<line x1="417.20" y1="694.45" x2="419.60" y2="694.45" stroke="#1a1a1a" stroke-width="0.8"/>
<text x="413.60" y="696.55" font-size="6.4" text-anchor="end" fill="#2a2a2a" style="stroke-width:0.28px">60</text>
<line x1="417.20" y1="709.15" x2="419.60" y2="709.15" stroke="#1a1a1a" stroke-width="0.8"/>
<text x="413.60" y="711.25" font-size="6.4" text-anchor="end" fill="#2a2a2a" style="stroke-width:0.28px">80</text>
<line x1="417.20" y1="723.85" x2="419.60" y2="723.85" stroke="#1a1a1a" stroke-width="0.8"/>
<text x="413.60" y="725.95" font-size="6.4" text-anchor="end" fill="#2a2a2a" style="stroke-width:0.28px">100</text>
<text transform="translate(398.40 687.10) rotate(-90) scale(0.92 1)" font-size="8.3" text-anchor="middle" fill="#222" style="stroke-width:0.3px">Light transmission</text>
<path d="M419.60,660.64 L420.02,660.59 L420.59,660.53 L421.26,660.47 L422.00,660.39 L422.79,660.29 L423.59,660.18 L424.36,660.05 L425.09,659.90 L425.77,659.71 L426.46,659.45 L427.15,659.17 L427.83,658.87 L428.52,658.59 L429.20,658.35 L429.89,658.16 L430.58,658.07 L431.26,658.04 L431.95,658.06 L432.63,658.12 L433.32,658.23 L434.00,658.39 L434.69,658.59 L435.38,658.85 L436.06,659.17 L436.71,659.54 L437.31,659.97 L437.88,660.45 L438.46,660.98 L439.09,661.57 L439.79,662.19 L440.60,662.87 L441.55,663.58 L442.66,664.37 L443.91,665.25 L445.26,666.19 L446.69,667.16 L448.17,668.15 L449.65,669.13 L451.12,670.06 L452.53,670.93 L453.90,671.74 L455.27,672.52 L456.64,673.27 L458.01,674.01 L459.38,674.72 L460.76,675.43 L462.13,676.12 L463.50,676.81 L464.87,677.50 L466.24,678.18 L467.62,678.86 L468.99,679.52 L470.36,680.17 L471.73,680.79 L473.10,681.39 L474.48,681.96 L475.85,682.49 L477.22,682.99 L478.59,683.47 L479.96,683.93 L481.33,684.37 L482.71,684.80 L484.08,685.22 L485.45,685.63 L486.82,686.04 L488.20,686.45 L489.58,686.85 L490.96,687.24 L492.34,687.61 L493.71,687.96 L495.07,688.28 L496.43,688.57 L497.84,688.83 L499.34,689.08 L500.87,689.29 L502.38,689.49 L503.80,689.66 L505.08,689.81 L506.15,689.94 L506.96,690.04" fill="none" stroke="#86607c" stroke-width="1.2" stroke-dasharray="0.9,0.7" stroke-linejoin="round"/>
<path d="M419.60,660.64 L420.02,660.59 L420.59,660.53 L421.26,660.47 L422.00,660.39 L422.79,660.29 L423.59,660.18 L424.36,660.05 L425.09,659.90 L425.77,659.71 L426.46,659.45 L427.15,659.17 L427.83,658.87 L428.52,658.59 L429.20,658.35 L429.89,658.16 L430.58,658.07 L431.26,658.04 L431.95,658.04 L432.63,658.09 L433.32,658.18 L434.00,658.33 L434.69,658.54 L435.38,658.82 L436.06,659.17 L436.71,659.60 L437.31,660.10 L437.88,660.67 L438.46,661.31 L439.09,661.99 L439.79,662.73 L440.60,663.50 L441.55,664.32 L442.66,665.20 L443.91,666.18 L445.26,667.23 L446.69,668.31 L448.17,669.40 L449.65,670.46 L451.12,671.47 L452.53,672.40 L453.90,673.25 L455.27,674.04 L456.64,674.80 L458.01,675.52 L459.38,676.23 L460.76,676.91 L462.13,677.60 L463.50,678.28 L464.87,678.97 L466.24,679.65 L467.62,680.33 L468.99,680.99 L470.36,681.64 L471.73,682.26 L473.10,682.86 L474.48,683.43 L475.85,683.96 L477.22,684.47 L478.59,684.96 L479.96,685.42 L481.33,685.87 L482.71,686.29 L484.08,686.70 L485.45,687.10 L486.82,687.48 L488.20,687.85 L489.58,688.19 L490.96,688.52 L492.34,688.84 L493.71,689.13 L495.07,689.41 L496.43,689.67 L497.84,689.92 L499.34,690.15 L500.87,690.37 L502.38,690.57 L503.80,690.75 L505.08,690.90 L506.15,691.04 L506.96,691.14" fill="none" stroke="#8a4266" stroke-width="1.2" stroke-dasharray="1.4,0.8" stroke-linejoin="round"/>
<path d="M419.60,660.64 L420.02,660.59 L420.59,660.53 L421.26,660.47 L422.00,660.39 L422.79,660.29 L423.59,660.18 L424.36,660.05 L425.09,659.90 L425.77,659.71 L426.46,659.45 L427.15,659.17 L427.83,658.87 L428.52,658.59 L429.20,658.35 L429.89,658.16 L430.58,658.07 L431.26,658.05 L431.95,658.08 L432.63,658.15 L433.32,658.27 L434.00,658.44 L434.69,658.64 L435.38,658.89 L436.06,659.17 L436.71,659.49 L437.31,659.86 L437.88,660.26 L438.46,660.71 L439.09,661.19 L439.79,661.71 L440.60,662.26 L441.55,662.85 L442.66,663.48 L443.91,664.17 L445.26,664.90 L446.69,665.67 L448.17,666.45 L449.65,667.23 L451.12,667.99 L452.53,668.73 L453.90,669.44 L455.27,670.15 L456.64,670.85 L458.01,671.55 L459.38,672.24 L460.76,672.92 L462.13,673.59 L463.50,674.24 L464.87,674.87 L466.24,675.50 L467.62,676.12 L468.99,676.72 L470.36,677.31 L471.73,677.89 L473.10,678.46 L474.48,679.01 L475.85,679.56 L477.22,680.10 L478.59,680.63 L479.96,681.15 L481.33,681.65 L482.71,682.14 L484.08,682.61 L485.45,683.06 L486.82,683.49 L488.20,683.90 L489.58,684.29 L490.96,684.67 L492.34,685.02 L493.71,685.37 L495.07,685.69 L496.43,686.00 L497.84,686.29 L499.34,686.58 L500.87,686.85 L502.38,687.10 L503.80,687.33 L505.08,687.53 L506.15,687.70 L506.96,687.84" fill="none" stroke="#a02652" stroke-width="1.3" stroke-linejoin="round"/>
<path d="M419.60,660.64 L420.02,660.59 L420.59,660.53 L421.26,660.47 L422.00,660.39 L422.79,660.29 L423.59,660.18 L424.36,660.05 L425.09,659.90 L425.77,659.71 L426.46,659.45 L427.15,659.17 L427.83,658.87 L428.52,658.59 L429.20,658.35 L429.89,658.16 L430.58,658.07 L431.26,658.03 L431.95,658.01 L432.63,658.02 L433.32,658.09 L434.00,658.22 L434.69,658.44 L435.38,658.75 L436.06,659.17 L436.75,659.72 L437.43,660.38 L438.12,661.15 L438.81,662.00 L439.49,662.90 L440.18,663.85 L440.86,664.81 L441.55,665.78 L442.24,666.78 L442.92,667.83 L443.61,668.93 L444.29,670.06 L444.98,671.20 L445.67,672.35 L446.35,673.49 L447.04,674.61 L447.72,675.72 L448.41,676.84 L449.10,677.98 L449.78,679.11 L450.47,680.23 L451.15,681.32 L451.84,682.39 L452.53,683.43 L453.21,684.42 L453.90,685.40 L454.58,686.35 L455.27,687.28 L455.95,688.19 L456.64,689.08 L457.33,689.94 L458.01,690.77 L458.66,691.57 L459.26,692.31 L459.83,693.02 L460.41,693.72 L461.04,694.41 L461.74,695.12 L462.55,695.86 L463.50,696.65 L464.61,697.52 L465.86,698.45 L467.21,699.42 L468.64,700.40 L470.12,701.37 L471.60,702.31 L473.07,703.20 L474.48,704.00 L475.85,704.74 L477.22,705.41 L478.59,706.05 L479.96,706.65 L481.33,707.21 L482.71,707.75 L484.08,708.27 L485.45,708.78 L486.82,709.28 L488.20,709.75 L489.58,710.20 L490.96,710.62 L492.34,711.02 L493.71,711.40 L495.07,711.76 L496.43,712.09 L497.84,712.40 L499.34,712.70 L500.87,712.97 L502.38,713.22 L503.80,713.44 L505.08,713.63 L506.15,713.80 L506.96,713.93" fill="none" stroke="#4d5f88" stroke-width="1.3" stroke-linejoin="round"/>
<line x1="423.60" y1="702.85" x2="429.00" y2="702.85" stroke="#4d5f88" stroke-width="1.0"/>
<text x="430.40" y="704.55" font-size="5.0" fill="#2a2a2a">WT</text>
<line x1="423.60" y1="709.65" x2="429.00" y2="709.65" stroke="#a02652" stroke-width="1.0"/>
<text x="430.40" y="711.35" font-size="5.0" fill="#2a2a2a">DREAM KO</text>
<line x1="423.60" y1="716.45" x2="429.00" y2="716.45" stroke="#86607c" stroke-width="0.9" stroke-dasharray="0.9,0.7"/>
<text x="430.40" y="718.15" font-size="5.0" fill="#2a2a2a">WT + TGX221</text>
<line x1="423.60" y1="723.25" x2="429.00" y2="723.25" stroke="#8a4266" stroke-width="0.9" stroke-dasharray="1.4,0.8"/>
<text x="430.40" y="724.95" font-size="5.0" fill="#2a2a2a">DREAM KO + TGX221</text>
<text x="7.50" y="752.30" font-size="12.5" font-weight="bold" fill="#000">I</text>
<text x="260.00" y="752.50" font-size="8.6" text-anchor="middle" fill="#111">100 nM A23187</text>
<line x1="33.00" y1="779.50" x2="124.62" y2="779.50" stroke="#1a1a1a" stroke-width="1.0"/>
<line x1="35.60" y1="777.30" x2="35.60" y2="780.00" stroke="#1a1a1a" stroke-width="0.8"/>
<line x1="46.59" y1="777.30" x2="46.59" y2="780.00" stroke="#1a1a1a" stroke-width="0.8"/>
<line x1="57.58" y1="777.30" x2="57.58" y2="780.00" stroke="#1a1a1a" stroke-width="0.8"/>
<line x1="68.57" y1="777.30" x2="68.57" y2="780.00" stroke="#1a1a1a" stroke-width="0.8"/>
<line x1="79.56" y1="777.30" x2="79.56" y2="780.00" stroke="#1a1a1a" stroke-width="0.8"/>
<line x1="90.55" y1="777.30" x2="90.55" y2="780.00" stroke="#1a1a1a" stroke-width="0.8"/>
<line x1="101.54" y1="777.30" x2="101.54" y2="780.00" stroke="#1a1a1a" stroke-width="0.8"/>
<line x1="112.53" y1="777.30" x2="112.53" y2="780.00" stroke="#1a1a1a" stroke-width="0.8"/>
<line x1="123.52" y1="777.30" x2="123.52" y2="780.00" stroke="#1a1a1a" stroke-width="0.8"/>
<text x="35.60" y="773.50" font-size="6.4" text-anchor="middle" fill="#2a2a2a" style="stroke-width:0.28px">0</text>
<text x="57.58" y="773.50" font-size="6.4" text-anchor="middle" fill="#2a2a2a" style="stroke-width:0.28px">100</text>
<text x="79.56" y="773.50" font-size="6.4" text-anchor="middle" fill="#2a2a2a" style="stroke-width:0.28px">200</text>
<text x="101.54" y="773.50" font-size="6.4" text-anchor="middle" fill="#2a2a2a" style="stroke-width:0.28px">300</text>
<text x="123.52" y="773.50" font-size="6.4" text-anchor="middle" fill="#2a2a2a" style="stroke-width:0.28px">400</text>
<text transform="translate(80.86 764.00) scale(0.85 1)" font-size="8.7" text-anchor="middle" fill="#222" style="stroke-width:0.3px">Time (second)</text>
<line x1="35.60" y1="777.10" x2="35.60" y2="854.35" stroke="#1a1a1a" stroke-width="1.0"/>
<line x1="33.20" y1="779.50" x2="35.60" y2="779.50" stroke="#1a1a1a" stroke-width="0.8"/>
<text x="29.60" y="781.60" font-size="6.4" text-anchor="end" fill="#2a2a2a" style="stroke-width:0.28px">0</text>
<line x1="33.20" y1="793.95" x2="35.60" y2="793.95" stroke="#1a1a1a" stroke-width="0.8"/>
<text x="29.60" y="796.05" font-size="6.4" text-anchor="end" fill="#2a2a2a" style="stroke-width:0.28px">20</text>
<line x1="33.20" y1="808.40" x2="35.60" y2="808.40" stroke="#1a1a1a" stroke-width="0.8"/>
<text x="29.60" y="810.50" font-size="6.4" text-anchor="end" fill="#2a2a2a" style="stroke-width:0.28px">40</text>
<line x1="33.20" y1="822.85" x2="35.60" y2="822.85" stroke="#1a1a1a" stroke-width="0.8"/>
<text x="29.60" y="824.95" font-size="6.4" text-anchor="end" fill="#2a2a2a" style="stroke-width:0.28px">60</text>
<line x1="33.20" y1="837.30" x2="35.60" y2="837.30" stroke="#1a1a1a" stroke-width="0.8"/>
<text x="29.60" y="839.40" font-size="6.4" text-anchor="end" fill="#2a2a2a" style="stroke-width:0.28px">80</text>
<line x1="33.20" y1="851.75" x2="35.60" y2="851.75" stroke="#1a1a1a" stroke-width="0.8"/>
<text x="29.60" y="853.85" font-size="6.4" text-anchor="end" fill="#2a2a2a" style="stroke-width:0.28px">100</text>
<text transform="translate(14.40 815.62) rotate(-90) scale(0.92 1)" font-size="8.3" text-anchor="middle" fill="#222" style="stroke-width:0.3px">Light transmission</text>
<path d="M35.60,790.34 L35.92,790.34 L36.37,790.35 L36.91,790.37 L37.50,790.38 L38.09,790.39 L38.66,790.39 L39.16,790.37 L39.56,790.34 L39.85,790.30 L40.08,790.27 L40.26,790.23 L40.41,790.18 L40.53,790.10 L40.64,789.99 L40.75,789.83 L40.88,789.62 L40.99,789.30 L41.08,788.90 L41.16,788.42 L41.23,787.92 L41.32,787.43 L41.42,786.98 L41.56,786.61 L41.75,786.36 L41.99,786.22 L42.25,786.16 L42.54,786.16 L42.85,786.21 L43.20,786.30 L43.57,786.42 L43.97,786.57 L44.39,786.73 L44.83,786.90 L45.26,787.12 L45.72,787.37 L46.21,787.65 L46.74,787.95 L47.34,788.26 L48.02,788.57 L48.79,788.89 L49.66,789.22 L50.63,789.57 L51.67,789.94 L52.77,790.31 L53.93,790.69 L55.12,791.07 L56.35,791.43 L57.58,791.78 L58.85,792.12 L60.17,792.47 L61.54,792.80 L62.94,793.14 L64.35,793.46 L65.77,793.76 L67.18,794.05 L68.57,794.31 L69.94,794.55 L71.32,794.77 L72.69,794.96 L74.06,795.15 L75.44,795.31 L76.81,795.47 L78.19,795.62 L79.56,795.76 L80.93,795.88 L82.31,796.00 L83.68,796.10 L85.06,796.19 L86.43,796.27 L87.80,796.34 L89.18,796.41 L90.55,796.48 L91.92,796.54 L93.30,796.59 L94.67,796.64 L96.05,796.68 L97.42,796.72 L98.79,796.76 L100.17,796.80 L101.54,796.84 L102.92,796.89 L104.30,796.93 L105.68,796.98 L107.06,797.02 L108.44,797.07 L109.81,797.11 L111.18,797.16 L112.53,797.20 L113.94,797.25 L115.45,797.30 L116.98,797.35 L118.49,797.40 L119.92,797.45 L121.19,797.50 L122.27,797.53 L123.08,797.56" fill="none" stroke="#86607c" stroke-width="1.2" stroke-dasharray="0.9,0.7" stroke-linejoin="round"/>
<path d="M35.60,790.34 L35.92,790.34 L36.37,790.35 L36.91,790.37 L37.50,790.38 L38.09,790.39 L38.66,790.39 L39.16,790.37 L39.56,790.34 L39.85,790.30 L40.08,790.27 L40.26,790.23 L40.41,790.18 L40.53,790.10 L40.64,789.99 L40.75,789.83 L40.88,789.62 L40.99,789.30 L41.08,788.90 L41.16,788.42 L41.23,787.92 L41.32,787.43 L41.42,786.98 L41.56,786.61 L41.75,786.36 L41.99,786.22 L42.25,786.16 L42.54,786.16 L42.85,786.21 L43.20,786.30 L43.57,786.42 L43.97,786.57 L44.39,786.73 L44.83,786.90 L45.26,787.11 L45.72,787.34 L46.21,787.61 L46.74,787.89 L47.34,788.21 L48.02,788.54 L48.79,788.89 L49.66,789.28 L50.63,789.72 L51.67,790.19 L52.77,790.68 L53.93,791.17 L55.12,791.64 L56.35,792.10 L57.58,792.50 L58.85,792.88 L60.17,793.23 L61.54,793.56 L62.94,793.88 L64.35,794.19 L65.77,794.48 L67.18,794.76 L68.57,795.03 L69.94,795.30 L71.32,795.55 L72.69,795.80 L74.06,796.03 L75.44,796.25 L76.81,796.46 L78.19,796.65 L79.56,796.84 L80.93,797.01 L82.31,797.17 L83.68,797.32 L85.06,797.45 L86.43,797.58 L87.80,797.70 L89.18,797.81 L90.55,797.92 L91.92,798.03 L93.30,798.13 L94.67,798.22 L96.05,798.31 L97.42,798.39 L98.79,798.47 L100.17,798.56 L101.54,798.65 L102.92,798.74 L104.30,798.83 L105.68,798.92 L107.06,799.01 L108.44,799.10 L109.81,799.19 L111.18,799.28 L112.53,799.37 L113.94,799.46 L115.45,799.57 L116.98,799.67 L118.49,799.78 L119.92,799.87 L121.19,799.96 L122.27,800.04 L123.08,800.09" fill="none" stroke="#8a4266" stroke-width="1.2" stroke-dasharray="1.4,0.8" stroke-linejoin="round"/>
<path d="M35.60,790.34 L35.92,790.34 L36.37,790.35 L36.91,790.37 L37.50,790.38 L38.09,790.39 L38.66,790.39 L39.16,790.37 L39.56,790.34 L39.85,790.30 L40.08,790.27 L40.26,790.23 L40.41,790.18 L40.53,790.10 L40.64,789.99 L40.75,789.83 L40.88,789.62 L40.99,789.30 L41.08,788.88 L41.16,788.39 L41.23,787.88 L41.32,787.38 L41.42,786.93 L41.56,786.58 L41.75,786.36 L41.99,786.27 L42.25,786.25 L42.54,786.31 L42.85,786.43 L43.20,786.61 L43.57,786.85 L43.97,787.13 L44.39,787.45 L44.83,787.81 L45.26,788.23 L45.72,788.71 L46.21,789.23 L46.74,789.80 L47.34,790.42 L48.02,791.08 L48.79,791.78 L49.66,792.56 L50.63,793.42 L51.67,794.34 L52.77,795.30 L53.93,796.28 L55.12,797.24 L56.35,798.15 L57.58,799.01 L58.85,799.82 L60.17,800.62 L61.54,801.41 L62.94,802.17 L64.35,802.90 L65.77,803.58 L67.18,804.21 L68.57,804.79 L69.94,805.29 L71.32,805.74 L72.69,806.13 L74.06,806.48 L75.44,806.80 L76.81,807.10 L78.19,807.39 L79.56,807.68 L80.93,807.96 L82.31,808.22 L83.68,808.47 L85.06,808.69 L86.43,808.91 L87.80,809.11 L89.18,809.30 L90.55,809.48 L91.92,809.66 L93.30,809.81 L94.67,809.96 L96.05,810.09 L97.42,810.22 L98.79,810.34 L100.17,810.45 L101.54,810.57 L102.92,810.68 L104.30,810.77 L105.68,810.86 L107.06,810.95 L108.44,811.03 L109.81,811.12 L111.18,811.20 L112.53,811.29 L113.94,811.39 L115.45,811.49 L116.98,811.59 L118.49,811.70 L119.92,811.79 L121.19,811.88 L122.27,811.96 L123.08,812.01" fill="none" stroke="#a02652" stroke-width="1.3" stroke-linejoin="round"/>
<path d="M35.60,790.34 L35.92,790.34 L36.37,790.35 L36.91,790.37 L37.50,790.38 L38.09,790.39 L38.66,790.39 L39.16,790.37 L39.56,790.34 L39.85,790.30 L40.08,790.27 L40.26,790.23 L40.41,790.18 L40.53,790.10 L40.64,789.99 L40.75,789.83 L40.88,789.62 L41.00,789.30 L41.11,788.86 L41.21,788.36 L41.30,787.83 L41.40,787.32 L41.50,786.88 L41.62,786.55 L41.75,786.36 L41.91,786.32 L42.08,786.37 L42.25,786.50 L42.44,786.70 L42.64,786.98 L42.85,787.32 L43.06,787.72 L43.29,788.17 L43.53,788.68 L43.77,789.27 L44.01,789.92 L44.27,790.63 L44.54,791.40 L44.83,792.21 L45.15,793.06 L45.49,793.95 L45.86,794.89 L46.26,795.90 L46.68,796.96 L47.13,798.06 L47.58,799.19 L48.05,800.33 L48.53,801.48 L49.01,802.62 L49.49,803.76 L49.97,804.93 L50.47,806.12 L50.97,807.32 L51.49,808.51 L52.03,809.70 L52.59,810.87 L53.18,812.01 L53.82,813.15 L54.49,814.30 L55.20,815.44 L55.92,816.57 L56.64,817.67 L57.35,818.74 L58.04,819.74 L58.68,820.68 L59.28,821.55 L59.83,822.36 L60.37,823.13 L60.89,823.84 L61.41,824.53 L61.94,825.19 L62.49,825.83 L63.08,826.46 L63.68,827.08 L64.30,827.67 L64.92,828.24 L65.56,828.79 L66.22,829.31 L66.90,829.82 L67.61,830.32 L68.35,830.80 L69.09,831.26 L69.82,831.69 L70.55,832.10 L71.32,832.49 L72.14,832.88 L73.04,833.26 L74.04,833.65 L75.16,834.05 L76.43,834.46 L77.81,834.88 L79.30,835.30 L80.87,835.72 L82.49,836.13 L84.14,836.54 L85.81,836.93 L87.47,837.30 L89.17,837.66 L90.94,838.01 L92.75,838.35 L94.59,838.68 L96.41,838.99 L98.20,839.29 L99.92,839.57 L101.54,839.83 L103.06,840.06 L104.51,840.27 L105.91,840.47 L107.25,840.64 L108.58,840.81 L109.89,840.96 L111.20,841.12 L112.53,841.27 L113.94,841.43 L115.45,841.60 L116.98,841.75 L118.49,841.91 L119.92,842.05 L121.19,842.17 L122.27,842.28 L123.08,842.36" fill="none" stroke="#4d5f88" stroke-width="1.3" stroke-linejoin="round"/>
<line x1="39.60" y1="832.00" x2="45.00" y2="832.00" stroke="#4d5f88" stroke-width="1.0"/>
<text x="46.40" y="833.70" font-size="5.0" fill="#2a2a2a">WT</text>
<line x1="39.60" y1="838.80" x2="45.00" y2="838.80" stroke="#a02652" stroke-width="1.0"/>
<text x="46.40" y="840.50" font-size="5.0" fill="#2a2a2a">DREAM KO</text>
<line x1="39.60" y1="845.60" x2="45.00" y2="845.60" stroke="#86607c" stroke-width="0.9" stroke-dasharray="0.9,0.7"/>
<text x="46.40" y="847.30" font-size="5.0" fill="#2a2a2a">WT + LY294002</text>
<line x1="39.60" y1="852.40" x2="45.00" y2="852.40" stroke="#8a4266" stroke-width="0.9" stroke-dasharray="1.4,0.8"/>
<text x="46.40" y="854.10" font-size="5.0" fill="#2a2a2a">DREAM KO + LY294002</text>
<line x1="161.15" y1="779.50" x2="252.04" y2="779.50" stroke="#1a1a1a" stroke-width="1.0"/>
<line x1="163.75" y1="777.30" x2="163.75" y2="780.00" stroke="#1a1a1a" stroke-width="0.8"/>
<line x1="174.65" y1="777.30" x2="174.65" y2="780.00" stroke="#1a1a1a" stroke-width="0.8"/>
<line x1="185.55" y1="777.30" x2="185.55" y2="780.00" stroke="#1a1a1a" stroke-width="0.8"/>
<line x1="196.45" y1="777.30" x2="196.45" y2="780.00" stroke="#1a1a1a" stroke-width="0.8"/>
<line x1="207.35" y1="777.30" x2="207.35" y2="780.00" stroke="#1a1a1a" stroke-width="0.8"/>
<line x1="218.25" y1="777.30" x2="218.25" y2="780.00" stroke="#1a1a1a" stroke-width="0.8"/>
<line x1="229.15" y1="777.30" x2="229.15" y2="780.00" stroke="#1a1a1a" stroke-width="0.8"/>
<line x1="240.05" y1="777.30" x2="240.05" y2="780.00" stroke="#1a1a1a" stroke-width="0.8"/>
<line x1="250.95" y1="777.30" x2="250.95" y2="780.00" stroke="#1a1a1a" stroke-width="0.8"/>
<text x="163.75" y="773.50" font-size="6.4" text-anchor="middle" fill="#2a2a2a" style="stroke-width:0.28px">0</text>
<text x="185.55" y="773.50" font-size="6.4" text-anchor="middle" fill="#2a2a2a" style="stroke-width:0.28px">100</text>
<text x="207.35" y="773.50" font-size="6.4" text-anchor="middle" fill="#2a2a2a" style="stroke-width:0.28px">200</text>
<text x="229.15" y="773.50" font-size="6.4" text-anchor="middle" fill="#2a2a2a" style="stroke-width:0.28px">300</text>
<text x="250.95" y="773.50" font-size="6.4" text-anchor="middle" fill="#2a2a2a" style="stroke-width:0.28px">400</text>
<text transform="translate(208.65 764.00) scale(0.85 1)" font-size="8.7" text-anchor="middle" fill="#222" style="stroke-width:0.3px">Time (second)</text>
<line x1="163.75" y1="777.10" x2="163.75" y2="854.35" stroke="#1a1a1a" stroke-width="1.0"/>
<line x1="161.35" y1="779.50" x2="163.75" y2="779.50" stroke="#1a1a1a" stroke-width="0.8"/>
<text x="157.75" y="781.60" font-size="6.4" text-anchor="end" fill="#2a2a2a" style="stroke-width:0.28px">0</text>
<line x1="161.35" y1="793.95" x2="163.75" y2="793.95" stroke="#1a1a1a" stroke-width="0.8"/>
<text x="157.75" y="796.05" font-size="6.4" text-anchor="end" fill="#2a2a2a" style="stroke-width:0.28px">20</text>
<line x1="161.35" y1="808.40" x2="163.75" y2="808.40" stroke="#1a1a1a" stroke-width="0.8"/>
<text x="157.75" y="810.50" font-size="6.4" text-anchor="end" fill="#2a2a2a" style="stroke-width:0.28px">40</text>
<line x1="161.35" y1="822.85" x2="163.75" y2="822.85" stroke="#1a1a1a" stroke-width="0.8"/>
<text x="157.75" y="824.95" font-size="6.4" text-anchor="end" fill="#2a2a2a" style="stroke-width:0.28px">60</text>
<line x1="161.35" y1="837.30" x2="163.75" y2="837.30" stroke="#1a1a1a" stroke-width="0.8"/>
<text x="157.75" y="839.40" font-size="6.4" text-anchor="end" fill="#2a2a2a" style="stroke-width:0.28px">80</text>
<line x1="161.35" y1="851.75" x2="163.75" y2="851.75" stroke="#1a1a1a" stroke-width="0.8"/>
<text x="157.75" y="853.85" font-size="6.4" text-anchor="end" fill="#2a2a2a" style="stroke-width:0.28px">100</text>
<text transform="translate(142.55 815.62) rotate(-90) scale(0.92 1)" font-size="8.3" text-anchor="middle" fill="#222" style="stroke-width:0.3px">Light transmission</text>
<path d="M163.75,790.34 L164.07,790.35 L164.51,790.39 L165.04,790.43 L165.62,790.47 L166.21,790.50 L166.77,790.49 L167.27,790.44 L167.67,790.34 L167.98,790.19 L168.21,790.03 L168.39,789.84 L168.55,789.62 L168.69,789.34 L168.83,789.02 L168.99,788.63 L169.20,788.17 L169.44,787.56 L169.70,786.78 L169.97,785.89 L170.25,784.96 L170.53,784.08 L170.82,783.31 L171.10,782.72 L171.38,782.39 L171.63,782.34 L171.85,782.50 L172.05,782.84 L172.27,783.29 L172.50,783.82 L172.79,784.35 L173.13,784.86 L173.56,785.28 L174.08,785.65 L174.67,786.02 L175.32,786.40 L176.01,786.77 L176.74,787.14 L177.49,787.50 L178.25,787.84 L179.01,788.17 L179.75,788.47 L180.47,788.75 L181.19,789.02 L181.94,789.28 L182.73,789.53 L183.58,789.79 L184.52,790.05 L185.55,790.34 L186.70,790.64 L187.97,790.96 L189.32,791.29 L190.73,791.62 L192.17,791.96 L193.62,792.28 L195.06,792.58 L196.45,792.87 L197.81,793.13 L199.18,793.39 L200.54,793.63 L201.90,793.86 L203.26,794.08 L204.62,794.29 L205.99,794.49 L207.35,794.67 L208.71,794.85 L210.07,795.01 L211.44,795.16 L212.80,795.30 L214.16,795.43 L215.53,795.55 L216.89,795.66 L218.25,795.76 L219.61,795.84 L220.97,795.90 L222.34,795.94 L223.70,795.98 L225.06,796.01 L226.43,796.04 L227.79,796.08 L229.15,796.12 L230.52,796.16 L231.89,796.21 L233.26,796.25 L234.63,796.30 L235.99,796.34 L237.36,796.39 L238.71,796.43 L240.05,796.48 L241.45,796.53 L242.94,796.58 L244.47,796.63 L245.96,796.68 L247.38,796.73 L248.64,796.78 L249.71,796.81 L250.51,796.84" fill="none" stroke="#86607c" stroke-width="1.2" stroke-dasharray="0.9,0.7" stroke-linejoin="round"/>
<path d="M163.75,790.34 L164.07,790.35 L164.51,790.39 L165.04,790.43 L165.62,790.47 L166.21,790.50 L166.77,790.49 L167.27,790.44 L167.67,790.34 L167.98,790.19 L168.21,790.03 L168.39,789.84 L168.55,789.62 L168.69,789.34 L168.83,789.02 L168.99,788.63 L169.20,788.17 L169.44,787.56 L169.70,786.78 L169.97,785.89 L170.25,784.96 L170.53,784.08 L170.82,783.31 L171.10,782.72 L171.38,782.39 L171.63,782.34 L171.85,782.50 L172.05,782.84 L172.27,783.29 L172.50,783.82 L172.79,784.35 L173.13,784.86 L173.56,785.28 L174.08,785.65 L174.67,786.02 L175.32,786.40 L176.01,786.77 L176.74,787.14 L177.49,787.50 L178.25,787.84 L179.01,788.17 L179.75,788.47 L180.47,788.75 L181.19,789.02 L181.94,789.28 L182.73,789.53 L183.58,789.79 L184.52,790.05 L185.55,790.34 L186.70,790.64 L187.97,790.96 L189.32,791.29 L190.73,791.62 L192.17,791.96 L193.62,792.28 L195.06,792.58 L196.45,792.87 L197.81,793.13 L199.18,793.39 L200.54,793.63 L201.90,793.86 L203.26,794.08 L204.62,794.29 L205.99,794.49 L207.35,794.67 L208.71,794.85 L210.07,795.01 L211.44,795.16 L212.80,795.30 L214.16,795.43 L215.53,795.55 L216.89,795.66 L218.25,795.76 L219.61,795.84 L220.97,795.90 L222.34,795.94 L223.70,795.98 L225.06,796.01 L226.43,796.04 L227.79,796.08 L229.15,796.12 L230.52,796.16 L231.89,796.21 L233.26,796.25 L234.63,796.30 L235.99,796.34 L237.36,796.39 L238.71,796.43 L240.05,796.48 L241.45,796.53 L242.94,796.58 L244.47,796.63 L245.96,796.68 L247.38,796.73 L248.64,796.78 L249.71,796.81 L250.51,796.84" fill="none" stroke="#8a4266" stroke-width="1.2" stroke-dasharray="1.4,0.8" stroke-linejoin="round"/>
<path d="M163.75,790.34 L164.07,790.35 L164.51,790.39 L165.04,790.43 L165.62,790.47 L166.21,790.50 L166.77,790.49 L167.27,790.44 L167.67,790.34 L167.98,790.19 L168.21,790.03 L168.39,789.84 L168.55,789.62 L168.69,789.34 L168.83,789.02 L168.99,788.63 L169.20,788.17 L169.44,787.56 L169.70,786.78 L169.97,785.89 L170.25,784.96 L170.53,784.08 L170.82,783.31 L171.10,782.72 L171.38,782.39 L171.63,782.33 L171.85,782.47 L172.05,782.78 L172.27,783.20 L172.50,783.71 L172.79,784.25 L173.13,784.79 L173.56,785.28 L174.08,785.74 L174.67,786.23 L175.32,786.74 L176.01,787.27 L176.74,787.82 L177.49,788.40 L178.25,788.99 L179.01,789.62 L179.78,790.26 L180.57,790.94 L181.38,791.64 L182.21,792.37 L183.05,793.11 L183.89,793.87 L184.73,794.63 L185.55,795.39 L186.37,796.19 L187.19,797.02 L188.00,797.88 L188.82,798.74 L189.64,799.59 L190.45,800.41 L191.27,801.18 L192.09,801.90 L192.89,802.56 L193.67,803.18 L194.45,803.76 L195.22,804.31 L196.02,804.83 L196.84,805.33 L197.71,805.79 L198.63,806.23 L199.60,806.64 L200.61,807.02 L201.64,807.36 L202.72,807.68 L203.82,807.97 L204.97,808.25 L206.14,808.51 L207.35,808.76 L208.61,809.00 L209.92,809.22 L211.28,809.41 L212.66,809.60 L214.07,809.76 L215.47,809.92 L216.87,810.07 L218.25,810.21 L219.54,810.33 L220.73,810.45 L221.88,810.55 L223.05,810.64 L224.30,810.72 L225.69,810.79 L227.29,810.86 L229.15,810.93 L231.47,810.99 L234.26,811.05 L237.33,811.11 L240.51,811.15 L243.61,811.20 L246.43,811.23 L248.79,811.26 L250.51,811.29" fill="none" stroke="#a02652" stroke-width="1.3" stroke-linejoin="round"/>
<path d="M163.75,790.34 L164.07,790.35 L164.51,790.39 L165.04,790.43 L165.62,790.47 L166.21,790.50 L166.77,790.49 L167.27,790.44 L167.67,790.34 L167.98,790.19 L168.21,790.03 L168.39,789.84 L168.55,789.62 L168.69,789.34 L168.83,789.02 L168.99,788.63 L169.20,788.17 L169.43,787.56 L169.67,786.78 L169.92,785.89 L170.18,784.96 L170.45,784.08 L170.74,783.31 L171.05,782.72 L171.38,782.39 L171.73,782.33 L172.10,782.47 L172.48,782.78 L172.88,783.20 L173.30,783.71 L173.73,784.25 L174.18,784.79 L174.65,785.28 L175.14,785.71 L175.65,786.13 L176.19,786.55 L176.73,787.00 L177.30,787.50 L177.86,788.09 L178.44,788.79 L179.01,789.62 L179.59,790.61 L180.20,791.75 L180.81,793.02 L181.44,794.36 L182.05,795.74 L182.66,797.12 L183.25,798.46 L183.81,799.73 L184.34,800.95 L184.85,802.16 L185.34,803.37 L185.82,804.56 L186.30,805.74 L186.77,806.89 L187.25,808.02 L187.73,809.12 L188.22,810.20 L188.72,811.28 L189.21,812.34 L189.71,813.37 L190.20,814.36 L190.69,815.32 L191.17,816.22 L191.65,817.07 L192.13,817.85 L192.59,818.57 L193.05,819.24 L193.51,819.87 L193.96,820.46 L194.42,821.03 L194.89,821.58 L195.36,822.13 L195.83,822.65 L196.28,823.14 L196.73,823.60 L197.19,824.05 L197.66,824.48 L198.16,824.90 L198.70,825.32 L199.28,825.74 L199.91,826.17 L200.58,826.61 L201.27,827.05 L202.00,827.48 L202.75,827.89 L203.53,828.29 L204.34,828.66 L205.17,828.99 L205.98,829.29 L206.75,829.54 L207.52,829.77 L208.33,829.98 L209.22,830.18 L210.24,830.38 L211.42,830.58 L212.80,830.80 L214.46,831.03 L216.40,831.27 L218.53,831.52 L220.77,831.77 L223.03,832.01 L225.24,832.23 L227.31,832.43 L229.15,832.60 L230.78,832.75 L232.27,832.87 L233.66,832.97 L234.97,833.06 L236.23,833.13 L237.48,833.20 L238.75,833.26 L240.05,833.33 L241.45,833.39 L242.94,833.45 L244.47,833.50 L245.96,833.55 L247.38,833.59 L248.64,833.63 L249.71,833.66 L250.51,833.69" fill="none" stroke="#4d5f88" stroke-width="1.3" stroke-linejoin="round"/>
<line x1="167.75" y1="832.00" x2="173.15" y2="832.00" stroke="#4d5f88" stroke-width="1.0"/>
<text x="174.55" y="833.70" font-size="5.0" fill="#2a2a2a">WT</text>
<line x1="167.75" y1="838.80" x2="173.15" y2="838.80" stroke="#a02652" stroke-width="1.0"/>
<text x="174.55" y="840.50" font-size="5.0" fill="#2a2a2a">DREAM KO</text>
<line x1="167.75" y1="845.60" x2="173.15" y2="845.60" stroke="#86607c" stroke-width="0.9" stroke-dasharray="0.9,0.7"/>
<text x="174.55" y="847.30" font-size="5.0" fill="#2a2a2a">WT + Wortmannin</text>
<line x1="167.75" y1="852.40" x2="173.15" y2="852.40" stroke="#8a4266" stroke-width="0.9" stroke-dasharray="1.4,0.8"/>
<text x="174.55" y="854.10" font-size="5.0" fill="#2a2a2a">DREAM KO + Wortmannin</text>
<line x1="289.40" y1="779.50" x2="381.10" y2="779.50" stroke="#1a1a1a" stroke-width="1.0"/>
<line x1="292.00" y1="777.30" x2="292.00" y2="780.00" stroke="#1a1a1a" stroke-width="0.8"/>
<line x1="303.00" y1="777.30" x2="303.00" y2="780.00" stroke="#1a1a1a" stroke-width="0.8"/>
<line x1="314.00" y1="777.30" x2="314.00" y2="780.00" stroke="#1a1a1a" stroke-width="0.8"/>
<line x1="325.00" y1="777.30" x2="325.00" y2="780.00" stroke="#1a1a1a" stroke-width="0.8"/>
<line x1="336.00" y1="777.30" x2="336.00" y2="780.00" stroke="#1a1a1a" stroke-width="0.8"/>
<line x1="347.00" y1="777.30" x2="347.00" y2="780.00" stroke="#1a1a1a" stroke-width="0.8"/>
<line x1="358.00" y1="777.30" x2="358.00" y2="780.00" stroke="#1a1a1a" stroke-width="0.8"/>
<line x1="369.00" y1="777.30" x2="369.00" y2="780.00" stroke="#1a1a1a" stroke-width="0.8"/>
<line x1="380.00" y1="777.30" x2="380.00" y2="780.00" stroke="#1a1a1a" stroke-width="0.8"/>
<text x="292.00" y="773.50" font-size="6.4" text-anchor="middle" fill="#2a2a2a" style="stroke-width:0.28px">0</text>
<text x="314.00" y="773.50" font-size="6.4" text-anchor="middle" fill="#2a2a2a" style="stroke-width:0.28px">100</text>
<text x="336.00" y="773.50" font-size="6.4" text-anchor="middle" fill="#2a2a2a" style="stroke-width:0.28px">200</text>
<text x="358.00" y="773.50" font-size="6.4" text-anchor="middle" fill="#2a2a2a" style="stroke-width:0.28px">300</text>
<text x="380.00" y="773.50" font-size="6.4" text-anchor="middle" fill="#2a2a2a" style="stroke-width:0.28px">400</text>
<text transform="translate(337.30 764.00) scale(0.85 1)" font-size="8.7" text-anchor="middle" fill="#222" style="stroke-width:0.3px">Time (second)</text>
<line x1="292.00" y1="777.10" x2="292.00" y2="854.35" stroke="#1a1a1a" stroke-width="1.0"/>
<line x1="289.60" y1="779.50" x2="292.00" y2="779.50" stroke="#1a1a1a" stroke-width="0.8"/>
<text x="286.00" y="781.60" font-size="6.4" text-anchor="end" fill="#2a2a2a" style="stroke-width:0.28px">0</text>
<line x1="289.60" y1="793.95" x2="292.00" y2="793.95" stroke="#1a1a1a" stroke-width="0.8"/>
<text x="286.00" y="796.05" font-size="6.4" text-anchor="end" fill="#2a2a2a" style="stroke-width:0.28px">20</text>
<line x1="289.60" y1="808.40" x2="292.00" y2="808.40" stroke="#1a1a1a" stroke-width="0.8"/>
<text x="286.00" y="810.50" font-size="6.4" text-anchor="end" fill="#2a2a2a" style="stroke-width:0.28px">40</text>
<line x1="289.60" y1="822.85" x2="292.00" y2="822.85" stroke="#1a1a1a" stroke-width="0.8"/>
<text x="286.00" y="824.95" font-size="6.4" text-anchor="end" fill="#2a2a2a" style="stroke-width:0.28px">60</text>
<line x1="289.60" y1="837.30" x2="292.00" y2="837.30" stroke="#1a1a1a" stroke-width="0.8"/>
<text x="286.00" y="839.40" font-size="6.4" text-anchor="end" fill="#2a2a2a" style="stroke-width:0.28px">80</text>
<line x1="289.60" y1="851.75" x2="292.00" y2="851.75" stroke="#1a1a1a" stroke-width="0.8"/>
<text x="286.00" y="853.85" font-size="6.4" text-anchor="end" fill="#2a2a2a" style="stroke-width:0.28px">100</text>
<text transform="translate(270.80 815.62) rotate(-90) scale(0.92 1)" font-size="8.3" text-anchor="middle" fill="#222" style="stroke-width:0.3px">Light transmission</text>
<path d="M292.00,790.34 L292.32,790.35 L292.77,790.39 L293.30,790.43 L293.88,790.47 L294.48,790.50 L295.05,790.49 L295.55,790.44 L295.96,790.34 L296.26,790.17 L296.50,789.93 L296.69,789.65 L296.84,789.34 L296.98,789.03 L297.13,788.71 L297.29,788.42 L297.50,788.17 L297.72,787.94 L297.93,787.69 L298.13,787.45 L298.35,787.22 L298.60,787.02 L298.90,786.87 L299.26,786.76 L299.70,786.73 L300.21,786.77 L300.77,786.88 L301.38,787.06 L302.04,787.27 L302.75,787.50 L303.52,787.74 L304.33,787.97 L305.20,788.17 L306.13,788.35 L307.12,788.51 L308.16,788.68 L309.26,788.85 L310.39,789.02 L311.57,789.20 L312.77,789.40 L314.00,789.62 L315.27,789.85 L316.60,790.11 L317.96,790.39 L319.36,790.68 L320.78,790.96 L322.20,791.25 L323.61,791.52 L325.00,791.78 L326.38,792.03 L327.75,792.26 L329.12,792.49 L330.50,792.71 L331.88,792.93 L333.25,793.15 L334.62,793.37 L336.00,793.59 L337.38,793.82 L338.75,794.05 L340.12,794.28 L341.50,794.51 L342.88,794.74 L344.25,794.97 L345.62,795.19 L347.00,795.39 L348.38,795.59 L349.75,795.78 L351.12,795.96 L352.50,796.14 L353.88,796.31 L355.25,796.49 L356.62,796.66 L358.00,796.84 L359.38,797.03 L360.76,797.22 L362.14,797.41 L363.53,797.61 L364.91,797.80 L366.28,797.97 L367.65,798.14 L369.00,798.28 L370.41,798.41 L371.92,798.53 L373.46,798.64 L374.97,798.74 L376.39,798.82 L377.67,798.89 L378.75,798.96 L379.56,799.01" fill="none" stroke="#86607c" stroke-width="1.2" stroke-dasharray="0.9,0.7" stroke-linejoin="round"/>
<path d="M292.00,790.34 L292.32,790.35 L292.77,790.39 L293.30,790.43 L293.88,790.47 L294.48,790.50 L295.05,790.49 L295.55,790.44 L295.96,790.34 L296.26,790.17 L296.50,789.93 L296.69,789.65 L296.84,789.34 L296.98,789.03 L297.13,788.71 L297.29,788.42 L297.50,788.17 L297.72,787.93 L297.93,787.66 L298.13,787.38 L298.35,787.13 L298.60,786.92 L298.90,786.76 L299.26,786.69 L299.70,786.73 L300.21,786.84 L300.77,787.02 L301.38,787.27 L302.04,787.58 L302.75,787.97 L303.52,788.44 L304.33,788.98 L305.20,789.62 L306.13,790.36 L307.12,791.23 L308.16,792.19 L309.26,793.23 L310.39,794.31 L311.57,795.41 L312.77,796.50 L314.00,797.56 L315.27,798.64 L316.60,799.76 L317.96,800.92 L319.36,802.08 L320.78,803.21 L322.20,804.30 L323.61,805.32 L325.00,806.23 L326.38,807.05 L327.75,807.80 L329.12,808.49 L330.50,809.12 L331.88,809.71 L333.25,810.26 L334.62,810.79 L336.00,811.29 L337.38,811.76 L338.75,812.19 L340.12,812.58 L341.50,812.94 L342.88,813.27 L344.25,813.58 L345.62,813.89 L347.00,814.18 L348.38,814.46 L349.75,814.72 L351.12,814.97 L352.50,815.20 L353.88,815.41 L355.25,815.61 L356.62,815.80 L358.00,815.99 L359.38,816.16 L360.76,816.32 L362.14,816.46 L363.53,816.60 L364.91,816.72 L366.28,816.84 L367.65,816.96 L369.00,817.07 L370.41,817.18 L371.92,817.29 L373.46,817.40 L374.97,817.50 L376.39,817.59 L377.67,817.67 L378.75,817.74 L379.56,817.79" fill="none" stroke="#8a4266" stroke-width="1.2" stroke-dasharray="1.4,0.8" stroke-linejoin="round"/>
<path d="M292.00,790.34 L292.32,790.35 L292.77,790.39 L293.30,790.43 L293.88,790.47 L294.48,790.50 L295.05,790.49 L295.55,790.44 L295.96,790.34 L296.26,790.17 L296.50,789.93 L296.69,789.65 L296.84,789.34 L296.98,789.03 L297.13,788.71 L297.29,788.42 L297.50,788.17 L297.72,787.93 L297.93,787.67 L298.13,787.42 L298.35,787.18 L298.60,786.97 L298.90,786.82 L299.26,786.73 L299.70,786.73 L300.21,786.79 L300.77,786.89 L301.38,787.05 L302.04,787.27 L302.75,787.55 L303.52,787.91 L304.33,788.35 L305.20,788.89 L306.13,789.54 L307.12,790.31 L308.16,791.17 L309.26,792.10 L310.39,793.08 L311.57,794.09 L312.77,795.11 L314.00,796.12 L315.27,797.16 L316.60,798.27 L317.96,799.42 L319.36,800.59 L320.78,801.74 L322.20,802.84 L323.61,803.87 L325.00,804.79 L326.38,805.61 L327.75,806.36 L329.12,807.04 L330.50,807.68 L331.88,808.27 L333.25,808.82 L334.62,809.34 L336.00,809.85 L337.38,810.32 L338.75,810.75 L340.12,811.15 L341.50,811.52 L342.88,811.85 L344.25,812.16 L345.62,812.46 L347.00,812.74 L348.38,812.99 L349.75,813.21 L351.12,813.40 L352.50,813.57 L353.88,813.73 L355.25,813.88 L356.62,814.03 L358.00,814.18 L359.38,814.34 L360.76,814.49 L362.14,814.64 L363.53,814.79 L364.91,814.93 L366.28,815.05 L367.65,815.17 L369.00,815.26 L370.41,815.35 L371.92,815.41 L373.46,815.47 L374.97,815.51 L376.39,815.55 L377.67,815.58 L378.75,815.60 L379.56,815.62" fill="none" stroke="#a02652" stroke-width="1.3" stroke-linejoin="round"/>
<path d="M292.00,790.34 L292.32,790.35 L292.77,790.39 L293.30,790.43 L293.88,790.47 L294.48,790.50 L295.05,790.49 L295.55,790.44 L295.96,790.34 L296.26,790.17 L296.50,789.93 L296.69,789.65 L296.84,789.34 L296.98,789.03 L297.13,788.71 L297.29,788.42 L297.50,788.17 L297.73,787.92 L297.95,787.64 L298.18,787.35 L298.42,787.09 L298.68,786.86 L298.98,786.71 L299.32,786.66 L299.70,786.73 L300.14,786.88 L300.62,787.07 L301.14,787.33 L301.69,787.67 L302.27,788.13 L302.87,788.71 L303.48,789.44 L304.10,790.34 L304.74,791.46 L305.42,792.82 L306.13,794.34 L306.85,795.98 L307.57,797.69 L308.28,799.40 L308.96,801.06 L309.60,802.62 L310.19,804.11 L310.73,805.59 L311.23,807.07 L311.73,808.54 L312.24,809.98 L312.77,811.41 L313.35,812.81 L314.00,814.18 L314.72,815.54 L315.50,816.91 L316.31,818.27 L317.16,819.60 L318.03,820.88 L318.90,822.10 L319.76,823.25 L320.60,824.29 L321.41,825.23 L322.20,826.08 L322.98,826.84 L323.76,827.55 L324.56,828.20 L325.40,828.83 L326.27,829.45 L327.20,830.08 L328.18,830.70 L329.19,831.29 L330.24,831.87 L331.32,832.42 L332.44,832.95 L333.59,833.46 L334.78,833.95 L336.00,834.41 L337.27,834.85 L338.60,835.26 L339.96,835.65 L341.36,836.01 L342.78,836.36 L344.20,836.69 L345.61,837.00 L347.00,837.30 L348.38,837.58 L349.75,837.84 L351.12,838.09 L352.50,838.32 L353.88,838.53 L355.25,838.73 L356.62,838.92 L358.00,839.11 L359.38,839.28 L360.76,839.44 L362.14,839.58 L363.53,839.72 L364.91,839.84 L366.28,839.96 L367.65,840.08 L369.00,840.19 L370.41,840.30 L371.92,840.41 L373.46,840.52 L374.97,840.62 L376.39,840.71 L377.67,840.79 L378.75,840.86 L379.56,840.91" fill="none" stroke="#4d5f88" stroke-width="1.3" stroke-linejoin="round"/>
<line x1="296.00" y1="832.00" x2="301.40" y2="832.00" stroke="#4d5f88" stroke-width="1.0"/>
<text x="302.80" y="833.70" font-size="5.0" fill="#2a2a2a">WT</text>
<line x1="296.00" y1="838.80" x2="301.40" y2="838.80" stroke="#a02652" stroke-width="1.0"/>
<text x="302.80" y="840.50" font-size="5.0" fill="#2a2a2a">DREAM KO</text>
<line x1="296.00" y1="845.60" x2="301.40" y2="845.60" stroke="#86607c" stroke-width="0.9" stroke-dasharray="0.9,0.7"/>
<text x="302.80" y="847.30" font-size="5.0" fill="#2a2a2a">WT + PIK75</text>
<line x1="296.00" y1="852.40" x2="301.40" y2="852.40" stroke="#8a4266" stroke-width="0.9" stroke-dasharray="1.4,0.8"/>
<text x="302.80" y="854.10" font-size="5.0" fill="#2a2a2a">DREAM KO + PIK75</text>
<line x1="417.00" y1="779.70" x2="508.50" y2="779.70" stroke="#1a1a1a" stroke-width="1.0"/>
<line x1="419.60" y1="777.50" x2="419.60" y2="780.20" stroke="#1a1a1a" stroke-width="0.8"/>
<line x1="430.58" y1="777.50" x2="430.58" y2="780.20" stroke="#1a1a1a" stroke-width="0.8"/>
<line x1="441.55" y1="777.50" x2="441.55" y2="780.20" stroke="#1a1a1a" stroke-width="0.8"/>
<line x1="452.53" y1="777.50" x2="452.53" y2="780.20" stroke="#1a1a1a" stroke-width="0.8"/>
<line x1="463.50" y1="777.50" x2="463.50" y2="780.20" stroke="#1a1a1a" stroke-width="0.8"/>
<line x1="474.48" y1="777.50" x2="474.48" y2="780.20" stroke="#1a1a1a" stroke-width="0.8"/>
<line x1="485.45" y1="777.50" x2="485.45" y2="780.20" stroke="#1a1a1a" stroke-width="0.8"/>
<line x1="496.43" y1="777.50" x2="496.43" y2="780.20" stroke="#1a1a1a" stroke-width="0.8"/>
<line x1="507.40" y1="777.50" x2="507.40" y2="780.20" stroke="#1a1a1a" stroke-width="0.8"/>
<text x="419.60" y="773.70" font-size="6.4" text-anchor="middle" fill="#2a2a2a" style="stroke-width:0.28px">0</text>
<text x="441.55" y="773.70" font-size="6.4" text-anchor="middle" fill="#2a2a2a" style="stroke-width:0.28px">100</text>
<text x="463.50" y="773.70" font-size="6.4" text-anchor="middle" fill="#2a2a2a" style="stroke-width:0.28px">200</text>
<text x="485.45" y="773.70" font-size="6.4" text-anchor="middle" fill="#2a2a2a" style="stroke-width:0.28px">300</text>
<text x="507.40" y="773.70" font-size="6.4" text-anchor="middle" fill="#2a2a2a" style="stroke-width:0.28px">400</text>
<text transform="translate(464.80 764.20) scale(0.85 1)" font-size="8.7" text-anchor="middle" fill="#222" style="stroke-width:0.3px">Time (second)</text>
<line x1="419.60" y1="777.30" x2="419.60" y2="854.55" stroke="#1a1a1a" stroke-width="1.0"/>
<line x1="417.20" y1="779.70" x2="419.60" y2="779.70" stroke="#1a1a1a" stroke-width="0.8"/>
<text x="413.60" y="781.80" font-size="6.4" text-anchor="end" fill="#2a2a2a" style="stroke-width:0.28px">0</text>
<line x1="417.20" y1="794.15" x2="419.60" y2="794.15" stroke="#1a1a1a" stroke-width="0.8"/>
<text x="413.60" y="796.25" font-size="6.4" text-anchor="end" fill="#2a2a2a" style="stroke-width:0.28px">20</text>
<line x1="417.20" y1="808.60" x2="419.60" y2="808.60" stroke="#1a1a1a" stroke-width="0.8"/>
<text x="413.60" y="810.70" font-size="6.4" text-anchor="end" fill="#2a2a2a" style="stroke-width:0.28px">40</text>
<line x1="417.20" y1="823.05" x2="419.60" y2="823.05" stroke="#1a1a1a" stroke-width="0.8"/>
<text x="413.60" y="825.15" font-size="6.4" text-anchor="end" fill="#2a2a2a" style="stroke-width:0.28px">60</text>
<line x1="417.20" y1="837.50" x2="419.60" y2="837.50" stroke="#1a1a1a" stroke-width="0.8"/>
<text x="413.60" y="839.60" font-size="6.4" text-anchor="end" fill="#2a2a2a" style="stroke-width:0.28px">80</text>
<line x1="417.20" y1="851.95" x2="419.60" y2="851.95" stroke="#1a1a1a" stroke-width="0.8"/>
<text x="413.60" y="854.05" font-size="6.4" text-anchor="end" fill="#2a2a2a" style="stroke-width:0.28px">100</text>
<text transform="translate(398.40 815.83) rotate(-90) scale(0.92 1)" font-size="8.3" text-anchor="middle" fill="#222" style="stroke-width:0.3px">Light transmission</text>
<path d="M419.60,790.54 L419.92,790.55 L420.37,790.57 L420.91,790.60 L421.49,790.63 L422.09,790.64 L422.66,790.64 L423.16,790.61 L423.55,790.54 L423.84,790.44 L424.07,790.33 L424.24,790.20 L424.37,790.04 L424.49,789.86 L424.60,789.64 L424.72,789.39 L424.87,789.09 L425.01,788.71 L425.13,788.21 L425.23,787.64 L425.33,787.06 L425.47,786.51 L425.64,786.03 L425.87,785.67 L426.19,785.48 L426.54,785.44 L426.91,785.51 L427.32,785.68 L427.78,785.93 L428.31,786.26 L428.94,786.67 L429.69,787.13 L430.58,787.65 L431.63,788.26 L432.86,788.99 L434.21,789.80 L435.65,790.67 L437.14,791.57 L438.65,792.47 L440.13,793.34 L441.55,794.15 L442.92,794.92 L444.29,795.68 L445.67,796.43 L447.04,797.18 L448.41,797.90 L449.78,798.60 L451.15,799.28 L452.53,799.93 L453.90,800.55 L455.27,801.14 L456.64,801.71 L458.01,802.26 L459.38,802.78 L460.76,803.29 L462.13,803.78 L463.50,804.27 L464.87,804.73 L466.24,805.17 L467.62,805.60 L468.99,806.00 L470.36,806.40 L471.73,806.78 L473.10,807.15 L474.48,807.52 L475.85,807.87 L477.22,808.22 L478.59,808.57 L479.96,808.89 L481.33,809.21 L482.71,809.51 L484.08,809.79 L485.45,810.05 L486.82,810.28 L488.20,810.50 L489.58,810.70 L490.96,810.88 L492.34,811.05 L493.71,811.20 L495.07,811.35 L496.43,811.49 L497.84,811.62 L499.34,811.74 L500.87,811.85 L502.38,811.94 L503.80,812.03 L505.08,812.10 L506.15,812.16 L506.96,812.21" fill="none" stroke="#86607c" stroke-width="1.2" stroke-dasharray="0.9,0.7" stroke-linejoin="round"/>
<path d="M419.60,790.54 L419.92,790.55 L420.37,790.57 L420.91,790.60 L421.49,790.63 L422.09,790.64 L422.66,790.64 L423.16,790.61 L423.55,790.54 L423.84,790.44 L424.07,790.33 L424.24,790.20 L424.37,790.04 L424.49,789.86 L424.60,789.64 L424.72,789.39 L424.87,789.09 L425.01,788.71 L425.13,788.21 L425.23,787.64 L425.33,787.06 L425.47,786.51 L425.64,786.03 L425.87,785.67 L426.19,785.48 L426.54,785.44 L426.91,785.50 L427.32,785.65 L427.78,785.89 L428.31,786.21 L428.94,786.61 L429.69,787.10 L430.58,787.65 L431.63,788.32 L432.86,789.13 L434.21,790.05 L435.65,791.03 L437.14,792.05 L438.65,793.05 L440.13,794.00 L441.55,794.87 L442.92,795.67 L444.29,796.45 L445.67,797.21 L447.04,797.94 L448.41,798.65 L449.78,799.34 L451.15,800.01 L452.53,800.65 L453.90,801.27 L455.27,801.86 L456.64,802.43 L458.01,802.98 L459.38,803.50 L460.76,804.01 L462.13,804.51 L463.50,804.99 L464.87,805.45 L466.24,805.89 L467.62,806.32 L468.99,806.73 L470.36,807.12 L471.73,807.50 L473.10,807.87 L474.48,808.24 L475.85,808.60 L477.22,808.95 L478.59,809.29 L479.96,809.62 L481.33,809.93 L482.71,810.23 L484.08,810.51 L485.45,810.77 L486.82,811.00 L488.20,811.22 L489.58,811.42 L490.96,811.60 L492.34,811.77 L493.71,811.93 L495.07,812.07 L496.43,812.21 L497.84,812.34 L499.34,812.46 L500.87,812.57 L502.38,812.66 L503.80,812.75 L505.08,812.82 L506.15,812.88 L506.96,812.94" fill="none" stroke="#8a4266" stroke-width="1.2" stroke-dasharray="1.4,0.8" stroke-linejoin="round"/>
<path d="M419.60,790.54 L419.92,790.55 L420.37,790.57 L420.91,790.60 L421.49,790.63 L422.09,790.64 L422.66,790.64 L423.16,790.61 L423.55,790.54 L423.84,790.44 L424.07,790.33 L424.24,790.20 L424.37,790.04 L424.49,789.86 L424.60,789.64 L424.72,789.39 L424.87,789.09 L425.01,788.70 L425.13,788.19 L425.23,787.61 L425.33,787.02 L425.47,786.45 L425.64,785.98 L425.87,785.64 L426.19,785.48 L426.54,785.49 L426.91,785.61 L427.32,785.83 L427.78,786.16 L428.31,786.58 L428.94,787.09 L429.69,787.69 L430.58,788.37 L431.63,789.19 L432.86,790.18 L434.21,791.29 L435.65,792.48 L437.14,793.69 L438.65,794.89 L440.13,796.02 L441.55,797.04 L442.92,797.97 L444.29,798.85 L445.67,799.70 L447.04,800.52 L448.41,801.31 L449.78,802.07 L451.15,802.81 L452.53,803.54 L453.90,804.25 L455.27,804.94 L456.64,805.61 L458.01,806.25 L459.38,806.87 L460.76,807.47 L462.13,808.05 L463.50,808.60 L464.87,809.13 L466.24,809.63 L467.62,810.11 L468.99,810.56 L470.36,811.00 L471.73,811.42 L473.10,811.82 L474.48,812.21 L475.85,812.59 L477.22,812.95 L478.59,813.29 L479.96,813.61 L481.33,813.92 L482.71,814.21 L484.08,814.48 L485.45,814.74 L486.82,814.98 L488.20,815.19 L489.58,815.38 L490.96,815.55 L492.34,815.72 L493.71,815.88 L495.07,816.03 L496.43,816.19 L497.84,816.35 L499.34,816.51 L500.87,816.67 L502.38,816.82 L503.80,816.96 L505.08,817.08 L506.15,817.19 L506.96,817.27" fill="none" stroke="#a02652" stroke-width="1.3" stroke-linejoin="round"/>
<path d="M419.60,790.54 L419.92,790.55 L420.37,790.57 L420.91,790.60 L421.49,790.63 L422.09,790.64 L422.66,790.64 L423.16,790.61 L423.55,790.54 L423.84,790.44 L424.07,790.33 L424.24,790.20 L424.37,790.04 L424.49,789.86 L424.60,789.64 L424.72,789.39 L424.87,789.09 L425.01,788.69 L425.13,788.14 L425.23,787.52 L425.33,786.88 L425.47,786.29 L425.64,785.82 L425.87,785.53 L426.19,785.48 L426.57,785.66 L427.01,786.00 L427.51,786.49 L428.05,787.11 L428.63,787.84 L429.25,788.66 L429.90,789.57 L430.58,790.54 L431.29,791.61 L432.07,792.82 L432.88,794.15 L433.73,795.55 L434.59,797.00 L435.46,798.48 L436.32,799.95 L437.16,801.38 L437.98,802.81 L438.81,804.28 L439.63,805.78 L440.45,807.29 L441.28,808.78 L442.10,810.23 L442.92,811.62 L443.75,812.94 L444.56,814.17 L445.37,815.34 L446.17,816.46 L446.97,817.54 L447.78,818.59 L448.61,819.61 L449.45,820.61 L450.33,821.61 L451.24,822.59 L452.17,823.56 L453.13,824.52 L454.10,825.44 L455.08,826.34 L456.07,827.21 L457.04,828.04 L458.01,828.83 L458.97,829.58 L459.91,830.28 L460.85,830.95 L461.79,831.58 L462.73,832.19 L463.70,832.78 L464.68,833.34 L465.70,833.89 L466.72,834.41 L467.76,834.91 L468.81,835.38 L469.88,835.83 L470.97,836.26 L472.10,836.68 L473.26,837.09 L474.48,837.50 L475.74,837.90 L477.06,838.30 L478.43,838.68 L479.83,839.06 L481.24,839.42 L482.65,839.76 L484.06,840.09 L485.45,840.39 L486.82,840.67 L488.20,840.93 L489.58,841.18 L490.96,841.41 L492.34,841.62 L493.71,841.82 L495.07,842.01 L496.43,842.20 L497.84,842.37 L499.34,842.54 L500.87,842.70 L502.38,842.85 L503.80,842.98 L505.08,843.10 L506.15,843.20 L506.96,843.28" fill="none" stroke="#4d5f88" stroke-width="1.3" stroke-linejoin="round"/>
<line x1="423.60" y1="832.20" x2="429.00" y2="832.20" stroke="#4d5f88" stroke-width="1.0"/>
<text x="430.40" y="833.90" font-size="5.0" fill="#2a2a2a">WT</text>
<line x1="423.60" y1="839.00" x2="429.00" y2="839.00" stroke="#a02652" stroke-width="1.0"/>
<text x="430.40" y="840.70" font-size="5.0" fill="#2a2a2a">DREAM KO</text>
<line x1="423.60" y1="845.80" x2="429.00" y2="845.80" stroke="#86607c" stroke-width="0.9" stroke-dasharray="0.9,0.7"/>
<text x="430.40" y="847.50" font-size="5.0" fill="#2a2a2a">WT + TGX221</text>
<line x1="423.60" y1="852.60" x2="429.00" y2="852.60" stroke="#8a4266" stroke-width="0.9" stroke-dasharray="1.4,0.8"/>
<text x="430.40" y="854.30" font-size="5.0" fill="#2a2a2a">DREAM KO + TGX221</text>
<text x="7.50" y="881.30" font-size="12.5" font-weight="bold" fill="#000">J</text>
<line x1="32.70" y1="907.20" x2="131.28" y2="907.20" stroke="#1a1a1a" stroke-width="1.0"/>
<line x1="35.30" y1="905.00" x2="35.30" y2="907.70" stroke="#1a1a1a" stroke-width="0.8"/>
<line x1="47.15" y1="905.00" x2="47.15" y2="907.70" stroke="#1a1a1a" stroke-width="0.8"/>
<line x1="59.00" y1="905.00" x2="59.00" y2="907.70" stroke="#1a1a1a" stroke-width="0.8"/>
<line x1="70.85" y1="905.00" x2="70.85" y2="907.70" stroke="#1a1a1a" stroke-width="0.8"/>
<line x1="82.70" y1="905.00" x2="82.70" y2="907.70" stroke="#1a1a1a" stroke-width="0.8"/>
<line x1="94.55" y1="905.00" x2="94.55" y2="907.70" stroke="#1a1a1a" stroke-width="0.8"/>
<line x1="106.40" y1="905.00" x2="106.40" y2="907.70" stroke="#1a1a1a" stroke-width="0.8"/>
<line x1="118.25" y1="905.00" x2="118.25" y2="907.70" stroke="#1a1a1a" stroke-width="0.8"/>
<line x1="130.10" y1="905.00" x2="130.10" y2="907.70" stroke="#1a1a1a" stroke-width="0.8"/>
<text x="35.30" y="901.20" font-size="6.4" text-anchor="middle" fill="#2a2a2a" style="stroke-width:0.28px">0</text>
<text x="59.00" y="901.20" font-size="6.4" text-anchor="middle" fill="#2a2a2a" style="stroke-width:0.28px">100</text>
<text x="82.70" y="901.20" font-size="6.4" text-anchor="middle" fill="#2a2a2a" style="stroke-width:0.28px">200</text>
<text x="106.40" y="901.20" font-size="6.4" text-anchor="middle" fill="#2a2a2a" style="stroke-width:0.28px">300</text>
<text x="130.10" y="901.20" font-size="6.4" text-anchor="middle" fill="#2a2a2a" style="stroke-width:0.28px">400</text>
<text transform="translate(84.00 891.70) scale(0.85 1)" font-size="8.7" text-anchor="middle" fill="#222" style="stroke-width:0.3px">Time (second)</text>
<line x1="35.30" y1="904.80" x2="35.30" y2="987.40" stroke="#1a1a1a" stroke-width="1.0"/>
<line x1="32.90" y1="907.20" x2="35.30" y2="907.20" stroke="#1a1a1a" stroke-width="0.8"/>
<text x="29.30" y="909.30" font-size="6.4" text-anchor="end" fill="#2a2a2a" style="stroke-width:0.28px">0</text>
<line x1="32.90" y1="922.72" x2="35.30" y2="922.72" stroke="#1a1a1a" stroke-width="0.8"/>
<text x="29.30" y="924.82" font-size="6.4" text-anchor="end" fill="#2a2a2a" style="stroke-width:0.28px">20</text>
<line x1="32.90" y1="938.24" x2="35.30" y2="938.24" stroke="#1a1a1a" stroke-width="0.8"/>
<text x="29.30" y="940.34" font-size="6.4" text-anchor="end" fill="#2a2a2a" style="stroke-width:0.28px">40</text>
<line x1="32.90" y1="953.76" x2="35.30" y2="953.76" stroke="#1a1a1a" stroke-width="0.8"/>
<text x="29.30" y="955.86" font-size="6.4" text-anchor="end" fill="#2a2a2a" style="stroke-width:0.28px">60</text>
<line x1="32.90" y1="969.28" x2="35.30" y2="969.28" stroke="#1a1a1a" stroke-width="0.8"/>
<text x="29.30" y="971.38" font-size="6.4" text-anchor="end" fill="#2a2a2a" style="stroke-width:0.28px">80</text>
<line x1="32.90" y1="984.80" x2="35.30" y2="984.80" stroke="#1a1a1a" stroke-width="0.8"/>
<text x="29.30" y="986.90" font-size="6.4" text-anchor="end" fill="#2a2a2a" style="stroke-width:0.28px">100</text>
<text transform="translate(14.10 946.00) rotate(-90) scale(0.92 1)" font-size="8.3" text-anchor="middle" fill="#222" style="stroke-width:0.3px">Light transmission</text>
<path d="M35.30,917.29 L35.67,917.30 L36.18,917.35 L36.78,917.41 L37.45,917.46 L38.14,917.46 L38.83,917.39 L39.47,917.21 L40.04,916.90 L40.55,916.41 L41.04,915.76 L41.51,915.00 L41.97,914.16 L42.40,913.30 L42.82,912.47 L43.22,911.71 L43.59,911.08 L43.94,910.53 L44.24,910.00 L44.52,909.51 L44.78,909.07 L45.04,908.68 L45.32,908.36 L45.62,908.12 L45.96,907.98 L46.34,907.93 L46.74,907.98 L47.16,908.11 L47.59,908.32 L48.05,908.57 L48.52,908.87 L49.01,909.19 L49.52,909.53 L50.06,909.91 L50.62,910.35 L51.21,910.85 L51.82,911.37 L52.43,911.91 L53.05,912.44 L53.66,912.94 L54.26,913.41 L54.84,913.83 L55.39,914.22 L55.93,914.59 L56.48,914.96 L57.05,915.33 L57.65,915.70 L58.29,916.09 L59.00,916.51 L59.78,916.97 L60.61,917.45 L61.49,917.94 L62.41,918.45 L63.34,918.96 L64.28,919.46 L65.21,919.94 L66.11,920.39 L66.98,920.83 L67.83,921.25 L68.67,921.66 L69.52,922.07 L70.38,922.45 L71.28,922.82 L72.22,923.17 L73.22,923.50 L74.28,923.80 L75.37,924.09 L76.50,924.36 L77.66,924.61 L78.87,924.84 L80.11,925.06 L81.39,925.26 L82.70,925.44 L84.07,925.59 L85.50,925.72 L86.97,925.83 L88.48,925.92 L90.00,926.00 L91.53,926.07 L93.05,926.14 L94.55,926.21 L95.95,926.28 L97.25,926.35 L98.49,926.40 L99.76,926.45 L101.12,926.50 L102.64,926.54 L104.37,926.57 L106.40,926.60 L108.92,926.62 L111.95,926.63 L115.30,926.63 L118.75,926.62 L122.12,926.62 L125.19,926.61 L127.76,926.60 L129.63,926.60" fill="none" stroke="#86607c" stroke-width="1.2" stroke-dasharray="0.9,0.7" stroke-linejoin="round"/>
<path d="M35.30,917.29 L35.67,917.30 L36.18,917.35 L36.78,917.41 L37.45,917.46 L38.14,917.46 L38.83,917.39 L39.47,917.21 L40.04,916.90 L40.55,916.41 L41.04,915.76 L41.51,915.00 L41.97,914.16 L42.40,913.30 L42.82,912.47 L43.22,911.71 L43.59,911.08 L43.94,910.53 L44.24,910.00 L44.52,909.51 L44.78,909.07 L45.04,908.68 L45.32,908.36 L45.62,908.12 L45.96,907.98 L46.34,907.93 L46.74,907.98 L47.16,908.11 L47.59,908.32 L48.05,908.57 L48.52,908.87 L49.01,909.19 L49.52,909.53 L50.06,909.90 L50.62,910.33 L51.21,910.81 L51.82,911.32 L52.43,911.85 L53.05,912.38 L53.66,912.91 L54.26,913.41 L54.84,913.89 L55.39,914.38 L55.93,914.86 L56.48,915.35 L57.05,915.83 L57.65,916.32 L58.29,916.80 L59.00,917.29 L59.78,917.78 L60.61,918.28 L61.49,918.78 L62.41,919.28 L63.34,919.77 L64.28,920.25 L65.21,920.72 L66.11,921.17 L66.98,921.60 L67.83,922.03 L68.67,922.44 L69.52,922.84 L70.38,923.23 L71.28,923.60 L72.22,923.95 L73.22,924.27 L74.28,924.58 L75.37,924.87 L76.50,925.14 L77.66,925.39 L78.87,925.62 L80.11,925.84 L81.39,926.03 L82.70,926.21 L84.07,926.37 L85.50,926.50 L86.97,926.61 L88.48,926.70 L90.00,926.78 L91.53,926.85 L93.05,926.92 L94.55,926.99 L95.95,927.06 L97.25,927.11 L98.49,927.16 L99.76,927.21 L101.12,927.25 L102.64,927.29 L104.37,927.33 L106.40,927.38 L108.92,927.43 L111.95,927.48 L115.30,927.54 L118.75,927.59 L122.12,927.65 L125.19,927.69 L127.76,927.73 L129.63,927.76" fill="none" stroke="#8a4266" stroke-width="1.2" stroke-dasharray="1.4,0.8" stroke-linejoin="round"/>
<path d="M35.30,917.29 L35.67,917.30 L36.18,917.35 L36.78,917.41 L37.45,917.46 L38.14,917.46 L38.83,917.39 L39.47,917.21 L40.04,916.90 L40.55,916.41 L41.04,915.76 L41.51,915.00 L41.97,914.16 L42.40,913.30 L42.82,912.47 L43.22,911.71 L43.59,911.08 L43.94,910.52 L44.24,909.99 L44.52,909.48 L44.78,909.02 L45.04,908.62 L45.32,908.31 L45.62,908.09 L45.96,907.98 L46.34,907.98 L46.71,908.09 L47.11,908.28 L47.52,908.56 L47.96,908.91 L48.44,909.32 L48.95,909.79 L49.52,910.30 L50.15,910.90 L50.83,911.60 L51.57,912.38 L52.33,913.21 L53.12,914.07 L53.91,914.92 L54.69,915.75 L55.44,916.51 L56.18,917.23 L56.91,917.92 L57.64,918.61 L58.36,919.28 L59.10,919.94 L59.84,920.60 L60.60,921.27 L61.37,921.94 L62.15,922.62 L62.93,923.28 L63.72,923.95 L64.53,924.61 L65.35,925.28 L66.20,925.96 L67.08,926.66 L68.01,927.38 L68.98,928.14 L70.01,928.96 L71.07,929.80 L72.15,930.65 L73.26,931.48 L74.36,932.26 L75.46,932.97 L76.54,933.58 L77.52,934.10 L78.37,934.55 L79.18,934.94 L80.00,935.27 L80.93,935.56 L82.04,935.81 L83.39,936.03 L85.07,936.22 L87.11,936.38 L89.46,936.47 L92.05,936.53 L94.82,936.55 L97.70,936.55 L100.63,936.54 L103.56,936.53 L106.40,936.53 L109.37,936.53 L112.62,936.52 L115.99,936.50 L119.35,936.47 L122.53,936.44 L125.41,936.42 L127.82,936.39 L129.63,936.38" fill="none" stroke="#a02652" stroke-width="1.3" stroke-linejoin="round"/>
<path d="M35.30,917.29 L35.67,917.30 L36.18,917.35 L36.78,917.41 L37.45,917.46 L38.14,917.46 L38.83,917.39 L39.47,917.21 L40.04,916.90 L40.55,916.41 L41.04,915.76 L41.51,915.00 L41.97,914.16 L42.40,913.30 L42.82,912.47 L43.22,911.71 L43.59,911.08 L43.94,910.52 L44.24,909.99 L44.52,909.48 L44.78,909.02 L45.04,908.62 L45.32,908.31 L45.62,908.09 L45.96,907.98 L46.34,907.98 L46.71,908.09 L47.11,908.28 L47.52,908.56 L47.96,908.91 L48.44,909.32 L48.95,909.79 L49.52,910.30 L50.16,910.90 L50.89,911.60 L51.67,912.38 L52.48,913.21 L53.29,914.07 L54.07,914.92 L54.80,915.75 L55.44,916.51 L55.99,917.21 L56.47,917.88 L56.90,918.52 L57.30,919.15 L57.68,919.79 L58.08,920.46 L58.52,921.17 L59.00,921.94 L59.51,922.74 L60.01,923.54 L60.52,924.36 L61.06,925.21 L61.63,926.12 L62.26,927.11 L62.96,928.20 L63.74,929.39 L64.61,930.75 L65.56,932.26 L66.57,933.88 L67.64,935.56 L68.75,937.27 L69.90,938.97 L71.08,940.60 L72.27,942.12 L73.50,943.57 L74.79,945.02 L76.12,946.44 L77.47,947.82 L78.84,949.15 L80.22,950.41 L81.59,951.59 L82.94,952.67 L84.26,953.66 L85.55,954.57 L86.84,955.41 L88.14,956.18 L89.45,956.88 L90.79,957.52 L92.17,958.11 L93.60,958.65 L95.11,959.12 L96.67,959.51 L98.29,959.84 L99.93,960.11 L101.58,960.35 L103.22,960.56 L104.83,960.77 L106.40,960.98 L107.93,961.18 L109.44,961.36 L110.93,961.53 L112.41,961.67 L113.88,961.80 L115.34,961.92 L116.80,962.03 L118.25,962.14 L119.77,962.24 L121.39,962.33 L123.05,962.41 L124.68,962.49 L126.21,962.55 L127.59,962.60 L128.75,962.65 L129.63,962.68" fill="none" stroke="#4d5f88" stroke-width="1.3" stroke-linejoin="round"/>
<line x1="39.30" y1="964.50" x2="44.70" y2="964.50" stroke="#4d5f88" stroke-width="1.0"/>
<text x="46.10" y="966.20" font-size="5.0" fill="#2a2a2a">WT</text>
<line x1="39.30" y1="971.80" x2="44.70" y2="971.80" stroke="#a02652" stroke-width="1.0"/>
<text x="46.10" y="973.50" font-size="5.0" fill="#2a2a2a">DREAM KO</text>
<line x1="39.30" y1="979.10" x2="44.70" y2="979.10" stroke="#86607c" stroke-width="0.9" stroke-dasharray="0.9,0.7"/>
<text x="46.10" y="980.80" font-size="5.0" fill="#2a2a2a">WT + LY294002</text>
<line x1="39.30" y1="986.40" x2="44.70" y2="986.40" stroke="#8a4266" stroke-width="0.9" stroke-dasharray="1.4,0.8"/>
<text x="46.10" y="988.10" font-size="5.0" fill="#2a2a2a">DREAM KO + LY294002</text>
<text x="199.50" y="880.50" font-size="8.8" text-anchor="middle" fill="#111">0.0125 U/ml thrombin</text>
<line x1="160.90" y1="907.20" x2="258.88" y2="907.20" stroke="#1a1a1a" stroke-width="1.0"/>
<line x1="163.50" y1="905.00" x2="163.50" y2="907.70" stroke="#1a1a1a" stroke-width="0.8"/>
<line x1="175.28" y1="905.00" x2="175.28" y2="907.70" stroke="#1a1a1a" stroke-width="0.8"/>
<line x1="187.05" y1="905.00" x2="187.05" y2="907.70" stroke="#1a1a1a" stroke-width="0.8"/>
<line x1="198.82" y1="905.00" x2="198.82" y2="907.70" stroke="#1a1a1a" stroke-width="0.8"/>
<line x1="210.60" y1="905.00" x2="210.60" y2="907.70" stroke="#1a1a1a" stroke-width="0.8"/>
<line x1="222.38" y1="905.00" x2="222.38" y2="907.70" stroke="#1a1a1a" stroke-width="0.8"/>
<line x1="234.15" y1="905.00" x2="234.15" y2="907.70" stroke="#1a1a1a" stroke-width="0.8"/>
<line x1="245.93" y1="905.00" x2="245.93" y2="907.70" stroke="#1a1a1a" stroke-width="0.8"/>
<line x1="257.70" y1="905.00" x2="257.70" y2="907.70" stroke="#1a1a1a" stroke-width="0.8"/>
<text x="163.50" y="901.20" font-size="6.4" text-anchor="middle" fill="#2a2a2a" style="stroke-width:0.28px">0</text>
<text x="187.05" y="901.20" font-size="6.4" text-anchor="middle" fill="#2a2a2a" style="stroke-width:0.28px">100</text>
<text x="210.60" y="901.20" font-size="6.4" text-anchor="middle" fill="#2a2a2a" style="stroke-width:0.28px">200</text>
<text x="234.15" y="901.20" font-size="6.4" text-anchor="middle" fill="#2a2a2a" style="stroke-width:0.28px">300</text>
<text x="257.70" y="901.20" font-size="6.4" text-anchor="middle" fill="#2a2a2a" style="stroke-width:0.28px">400</text>
<text transform="translate(211.90 891.70) scale(0.85 1)" font-size="8.7" text-anchor="middle" fill="#222" style="stroke-width:0.3px">Time (second)</text>
<line x1="163.50" y1="904.80" x2="163.50" y2="987.40" stroke="#1a1a1a" stroke-width="1.0"/>
<line x1="161.10" y1="907.20" x2="163.50" y2="907.20" stroke="#1a1a1a" stroke-width="0.8"/>
<text x="157.50" y="909.30" font-size="6.4" text-anchor="end" fill="#2a2a2a" style="stroke-width:0.28px">0</text>
<line x1="161.10" y1="922.72" x2="163.50" y2="922.72" stroke="#1a1a1a" stroke-width="0.8"/>
<text x="157.50" y="924.82" font-size="6.4" text-anchor="end" fill="#2a2a2a" style="stroke-width:0.28px">20</text>
<line x1="161.10" y1="938.24" x2="163.50" y2="938.24" stroke="#1a1a1a" stroke-width="0.8"/>
<text x="157.50" y="940.34" font-size="6.4" text-anchor="end" fill="#2a2a2a" style="stroke-width:0.28px">40</text>
<line x1="161.10" y1="953.76" x2="163.50" y2="953.76" stroke="#1a1a1a" stroke-width="0.8"/>
<text x="157.50" y="955.86" font-size="6.4" text-anchor="end" fill="#2a2a2a" style="stroke-width:0.28px">60</text>
<line x1="161.10" y1="969.28" x2="163.50" y2="969.28" stroke="#1a1a1a" stroke-width="0.8"/>
<text x="157.50" y="971.38" font-size="6.4" text-anchor="end" fill="#2a2a2a" style="stroke-width:0.28px">80</text>
<line x1="161.10" y1="984.80" x2="163.50" y2="984.80" stroke="#1a1a1a" stroke-width="0.8"/>
<text x="157.50" y="986.90" font-size="6.4" text-anchor="end" fill="#2a2a2a" style="stroke-width:0.28px">100</text>
<text transform="translate(142.30 946.00) rotate(-90) scale(0.92 1)" font-size="8.3" text-anchor="middle" fill="#222" style="stroke-width:0.3px">Light transmission</text>
<path d="M163.50,917.29 L163.87,917.14 L164.37,916.98 L164.97,916.79 L165.63,916.56 L166.32,916.28 L167.00,915.92 L167.65,915.49 L168.21,914.96 L168.72,914.26 L169.20,913.36 L169.67,912.34 L170.12,911.27 L170.56,910.23 L170.97,909.29 L171.37,908.51 L171.74,907.98 L172.09,907.69 L172.39,907.57 L172.66,907.60 L172.92,907.73 L173.18,907.95 L173.45,908.21 L173.75,908.49 L174.10,908.75 L174.47,909.03 L174.87,909.36 L175.28,909.75 L175.72,910.16 L176.17,910.59 L176.64,911.03 L177.12,911.45 L177.63,911.86 L178.16,912.24 L178.72,912.63 L179.31,913.02 L179.91,913.41 L180.52,913.80 L181.13,914.18 L181.74,914.57 L182.34,914.96 L182.91,915.35 L183.46,915.74 L184.00,916.12 L184.55,916.51 L185.11,916.90 L185.71,917.29 L186.35,917.68 L187.05,918.06 L187.82,918.46 L188.65,918.87 L189.53,919.28 L190.44,919.69 L191.36,920.09 L192.29,920.47 L193.22,920.84 L194.12,921.17 L194.98,921.47 L195.83,921.76 L196.66,922.03 L197.50,922.28 L198.36,922.52 L199.25,922.73 L200.18,922.93 L201.18,923.11 L202.23,923.26 L203.31,923.39 L204.44,923.50 L205.60,923.59 L206.79,923.67 L208.02,923.74 L209.29,923.81 L210.60,923.88 L211.96,923.95 L213.38,924.02 L214.84,924.07 L216.34,924.13 L217.86,924.17 L219.38,924.21 L220.89,924.24 L222.38,924.27 L223.77,924.29 L225.05,924.30 L226.29,924.30 L227.56,924.30 L228.91,924.29 L230.41,924.28 L232.14,924.27 L234.15,924.27 L236.65,924.27 L239.67,924.27 L242.99,924.27 L246.43,924.27 L249.77,924.27 L252.82,924.27 L255.37,924.27 L257.23,924.27" fill="none" stroke="#86607c" stroke-width="1.2" stroke-dasharray="0.9,0.7" stroke-linejoin="round"/>
<path d="M163.50,917.29 L163.87,917.14 L164.37,916.98 L164.97,916.79 L165.63,916.56 L166.32,916.28 L167.00,915.92 L167.65,915.49 L168.21,914.96 L168.72,914.26 L169.20,913.36 L169.67,912.34 L170.12,911.27 L170.56,910.23 L170.97,909.29 L171.37,908.51 L171.74,907.98 L172.09,907.68 L172.39,907.55 L172.66,907.56 L172.92,907.69 L173.18,907.89 L173.45,908.16 L173.75,908.45 L174.10,908.75 L174.47,909.08 L174.87,909.49 L175.28,909.95 L175.72,910.45 L176.17,910.98 L176.64,911.53 L177.12,912.09 L177.63,912.63 L178.16,913.17 L178.72,913.72 L179.31,914.29 L179.91,914.86 L180.52,915.45 L181.13,916.05 L181.74,916.66 L182.34,917.29 L182.91,917.94 L183.46,918.61 L184.00,919.30 L184.55,920.00 L185.11,920.71 L185.71,921.40 L186.35,922.07 L187.05,922.72 L187.82,923.34 L188.65,923.96 L189.53,924.56 L190.44,925.15 L191.36,925.72 L192.29,926.28 L193.22,926.84 L194.12,927.38 L194.98,927.90 L195.83,928.42 L196.66,928.92 L197.50,929.41 L198.36,929.89 L199.25,930.36 L200.18,930.81 L201.18,931.26 L202.23,931.69 L203.31,932.11 L204.44,932.53 L205.60,932.93 L206.79,933.32 L208.02,933.68 L209.29,934.03 L210.60,934.36 L211.96,934.67 L213.38,934.95 L214.84,935.22 L216.34,935.48 L217.86,935.71 L219.38,935.92 L220.89,936.12 L222.38,936.30 L223.77,936.46 L225.05,936.58 L226.29,936.69 L227.56,936.79 L228.91,936.86 L230.41,936.94 L232.14,937.01 L234.15,937.08 L236.65,937.15 L239.67,937.21 L242.99,937.27 L246.43,937.32 L249.77,937.36 L252.82,937.40 L255.37,937.44 L257.23,937.46" fill="none" stroke="#6b6b80" stroke-width="1.2" stroke-dasharray="1.4,0.8" stroke-linejoin="round"/>
<path d="M163.50,917.29 L163.87,917.14 L164.37,916.98 L164.97,916.79 L165.63,916.56 L166.32,916.28 L167.00,915.92 L167.65,915.49 L168.21,914.96 L168.72,914.26 L169.20,913.36 L169.67,912.34 L170.12,911.27 L170.56,910.23 L170.97,909.29 L171.37,908.51 L171.74,907.98 L172.09,907.68 L172.39,907.53 L172.66,907.53 L172.92,907.64 L173.18,907.84 L173.45,908.10 L173.75,908.42 L174.10,908.75 L174.47,909.13 L174.87,909.57 L175.28,910.08 L175.72,910.64 L176.17,911.26 L176.64,911.93 L177.12,912.65 L177.63,913.41 L178.16,914.23 L178.72,915.13 L179.31,916.09 L179.91,917.09 L180.52,918.12 L181.13,919.16 L181.74,920.18 L182.34,921.17 L182.93,922.15 L183.52,923.16 L184.11,924.18 L184.69,925.19 L185.28,926.19 L185.87,927.15 L186.46,928.07 L187.05,928.93 L187.64,929.74 L188.23,930.53 L188.82,931.29 L189.41,932.01 L189.99,932.68 L190.58,933.30 L191.17,933.86 L191.76,934.36 L192.35,934.78 L192.94,935.13 L193.53,935.41 L194.12,935.65 L194.70,935.84 L195.29,936.01 L195.88,936.16 L196.47,936.30 L196.95,936.43 L197.26,936.52 L197.51,936.58 L197.79,936.62 L198.21,936.64 L198.84,936.65 L199.80,936.67 L201.18,936.69 L202.95,936.70 L205.00,936.71 L207.32,936.70 L209.89,936.69 L212.70,936.68 L215.73,936.67 L218.96,936.67 L222.38,936.69 L226.32,936.72 L230.94,936.77 L235.98,936.82 L241.13,936.88 L246.11,936.94 L250.65,937.00 L254.45,937.04 L257.23,937.08" fill="none" stroke="#a02652" stroke-width="1.3" stroke-linejoin="round"/>
<path d="M163.50,917.29 L163.87,917.14 L164.37,916.98 L164.97,916.79 L165.63,916.56 L166.32,916.28 L167.00,915.92 L167.65,915.49 L168.21,914.96 L168.72,914.26 L169.20,913.36 L169.67,912.34 L170.12,911.27 L170.56,910.23 L170.97,909.29 L171.37,908.51 L171.74,907.98 L172.09,907.68 L172.39,907.53 L172.66,907.53 L172.92,907.64 L173.18,907.84 L173.45,908.10 L173.75,908.42 L174.10,908.75 L174.47,909.13 L174.87,909.57 L175.28,910.08 L175.72,910.64 L176.17,911.26 L176.64,911.93 L177.12,912.65 L177.63,913.41 L178.16,914.22 L178.72,915.09 L179.31,916.02 L179.91,917.00 L180.52,918.01 L181.13,919.05 L181.74,920.10 L182.34,921.17 L182.91,922.24 L183.46,923.31 L184.00,924.41 L184.55,925.53 L185.11,926.69 L185.71,927.90 L186.35,929.16 L187.05,930.48 L187.82,931.89 L188.65,933.40 L189.53,934.98 L190.44,936.59 L191.36,938.22 L192.29,939.83 L193.22,941.40 L194.12,942.90 L194.98,944.35 L195.83,945.79 L196.66,947.22 L197.50,948.62 L198.36,949.98 L199.25,951.30 L200.18,952.56 L201.18,953.76 L202.26,954.91 L203.42,956.03 L204.64,957.10 L205.89,958.12 L207.14,959.09 L208.36,959.98 L209.52,960.79 L210.60,961.52 L211.60,962.15 L212.53,962.71 L213.42,963.18 L214.28,963.58 L215.12,963.92 L215.95,964.20 L216.80,964.43 L217.66,964.62 L218.53,964.74 L219.38,964.77 L220.21,964.73 L221.05,964.65 L221.91,964.53 L222.80,964.41 L223.73,964.31 L224.73,964.24 L225.70,964.18 L226.60,964.13 L227.49,964.07 L228.44,964.02 L229.51,963.97 L230.78,963.92 L232.30,963.88 L234.15,963.85 L236.54,963.83 L239.50,963.82 L242.82,963.82 L246.28,963.82 L249.66,963.83 L252.76,963.84 L255.36,963.85 L257.23,963.85" fill="none" stroke="#4d5f88" stroke-width="1.3" stroke-linejoin="round"/>
<line x1="167.50" y1="964.50" x2="172.90" y2="964.50" stroke="#4d5f88" stroke-width="1.0"/>
<text x="174.30" y="966.20" font-size="5.0" fill="#2a2a2a">WT</text>
<line x1="167.50" y1="971.80" x2="172.90" y2="971.80" stroke="#a02652" stroke-width="1.0"/>
<text x="174.30" y="973.50" font-size="5.0" fill="#2a2a2a">DREAM KO</text>
<line x1="167.50" y1="979.10" x2="172.90" y2="979.10" stroke="#86607c" stroke-width="0.9" stroke-dasharray="0.9,0.7"/>
<text x="174.30" y="980.80" font-size="5.0" fill="#2a2a2a">WT + PIK75</text>
<line x1="167.50" y1="986.40" x2="172.90" y2="986.40" stroke="#8a4266" stroke-width="0.9" stroke-dasharray="1.4,0.8"/>
<text x="174.30" y="988.10" font-size="5.0" fill="#2a2a2a">DREAM KO + PIK75</text>
<line x1="289.70" y1="907.20" x2="386.87" y2="907.20" stroke="#1a1a1a" stroke-width="1.0"/>
<line x1="292.30" y1="905.00" x2="292.30" y2="907.70" stroke="#1a1a1a" stroke-width="0.8"/>
<line x1="303.98" y1="905.00" x2="303.98" y2="907.70" stroke="#1a1a1a" stroke-width="0.8"/>
<line x1="315.65" y1="905.00" x2="315.65" y2="907.70" stroke="#1a1a1a" stroke-width="0.8"/>
<line x1="327.32" y1="905.00" x2="327.32" y2="907.70" stroke="#1a1a1a" stroke-width="0.8"/>
<line x1="339.00" y1="905.00" x2="339.00" y2="907.70" stroke="#1a1a1a" stroke-width="0.8"/>
<line x1="350.68" y1="905.00" x2="350.68" y2="907.70" stroke="#1a1a1a" stroke-width="0.8"/>
<line x1="362.35" y1="905.00" x2="362.35" y2="907.70" stroke="#1a1a1a" stroke-width="0.8"/>
<line x1="374.03" y1="905.00" x2="374.03" y2="907.70" stroke="#1a1a1a" stroke-width="0.8"/>
<line x1="385.70" y1="905.00" x2="385.70" y2="907.70" stroke="#1a1a1a" stroke-width="0.8"/>
<text x="292.30" y="901.20" font-size="6.4" text-anchor="middle" fill="#2a2a2a" style="stroke-width:0.28px">0</text>
<text x="315.65" y="901.20" font-size="6.4" text-anchor="middle" fill="#2a2a2a" style="stroke-width:0.28px">100</text>
<text x="339.00" y="901.20" font-size="6.4" text-anchor="middle" fill="#2a2a2a" style="stroke-width:0.28px">200</text>
<text x="362.35" y="901.20" font-size="6.4" text-anchor="middle" fill="#2a2a2a" style="stroke-width:0.28px">300</text>
<text x="385.70" y="901.20" font-size="6.4" text-anchor="middle" fill="#2a2a2a" style="stroke-width:0.28px">400</text>
<text transform="translate(340.30 891.70) scale(0.85 1)" font-size="8.7" text-anchor="middle" fill="#222" style="stroke-width:0.3px">Time (second)</text>
<line x1="292.30" y1="904.80" x2="292.30" y2="987.40" stroke="#1a1a1a" stroke-width="1.0"/>
<line x1="289.90" y1="907.20" x2="292.30" y2="907.20" stroke="#1a1a1a" stroke-width="0.8"/>
<text x="286.30" y="909.30" font-size="6.4" text-anchor="end" fill="#2a2a2a" style="stroke-width:0.28px">0</text>
<line x1="289.90" y1="922.72" x2="292.30" y2="922.72" stroke="#1a1a1a" stroke-width="0.8"/>
<text x="286.30" y="924.82" font-size="6.4" text-anchor="end" fill="#2a2a2a" style="stroke-width:0.28px">20</text>
<line x1="289.90" y1="938.24" x2="292.30" y2="938.24" stroke="#1a1a1a" stroke-width="0.8"/>
<text x="286.30" y="940.34" font-size="6.4" text-anchor="end" fill="#2a2a2a" style="stroke-width:0.28px">40</text>
<line x1="289.90" y1="953.76" x2="292.30" y2="953.76" stroke="#1a1a1a" stroke-width="0.8"/>
<text x="286.30" y="955.86" font-size="6.4" text-anchor="end" fill="#2a2a2a" style="stroke-width:0.28px">60</text>
<line x1="289.90" y1="969.28" x2="292.30" y2="969.28" stroke="#1a1a1a" stroke-width="0.8"/>
<text x="286.30" y="971.38" font-size="6.4" text-anchor="end" fill="#2a2a2a" style="stroke-width:0.28px">80</text>
<line x1="289.90" y1="984.80" x2="292.30" y2="984.80" stroke="#1a1a1a" stroke-width="0.8"/>
<text x="286.30" y="986.90" font-size="6.4" text-anchor="end" fill="#2a2a2a" style="stroke-width:0.28px">100</text>
<text transform="translate(271.10 946.00) rotate(-90) scale(0.92 1)" font-size="8.3" text-anchor="middle" fill="#222" style="stroke-width:0.3px">Light transmission</text>
<path d="M292.30,920.39 L292.68,920.25 L293.19,920.12 L293.81,919.96 L294.49,919.76 L295.18,919.49 L295.86,919.14 L296.47,918.67 L296.97,918.06 L297.37,917.24 L297.72,916.18 L298.02,914.98 L298.28,913.70 L298.53,912.43 L298.78,911.26 L299.03,910.27 L299.31,909.53 L299.59,909.03 L299.86,908.70 L300.13,908.50 L300.40,908.41 L300.68,908.42 L300.97,908.49 L301.29,908.61 L301.64,908.75 L302.01,908.92 L302.41,909.15 L302.82,909.43 L303.25,909.77 L303.69,910.18 L304.16,910.66 L304.64,911.22 L305.14,911.86 L305.66,912.58 L306.20,913.40 L306.76,914.29 L307.33,915.25 L307.92,916.27 L308.54,917.35 L309.16,918.47 L309.81,919.62 L310.49,920.85 L311.22,922.19 L311.97,923.60 L312.73,925.05 L313.50,926.50 L314.25,927.91 L314.97,929.25 L315.65,930.48 L316.29,931.63 L316.90,932.73 L317.49,933.79 L318.06,934.80 L318.62,935.75 L319.18,936.65 L319.74,937.48 L320.32,938.24 L320.90,938.93 L321.49,939.56 L322.07,940.12 L322.66,940.62 L323.24,941.06 L323.82,941.46 L324.41,941.81 L324.99,942.12 L325.46,942.37 L325.77,942.56 L326.02,942.69 L326.30,942.77 L326.71,942.83 L327.34,942.86 L328.29,942.88 L329.66,942.90 L331.41,942.91 L333.45,942.89 L335.75,942.85 L338.30,942.80 L341.08,942.73 L344.09,942.66 L347.29,942.58 L350.68,942.51 L354.58,942.42 L359.17,942.32 L364.16,942.21 L369.27,942.10 L374.21,941.98 L378.71,941.88 L382.47,941.79 L385.23,941.73" fill="none" stroke="#86607c" stroke-width="1.2" stroke-dasharray="0.9,0.7" stroke-linejoin="round"/>
<path d="M292.30,920.39 L292.68,920.25 L293.19,920.10 L293.81,919.93 L294.49,919.71 L295.18,919.44 L295.86,919.08 L296.47,918.63 L296.97,918.06 L297.37,917.30 L297.72,916.32 L298.02,915.21 L298.28,914.04 L298.53,912.88 L298.78,911.83 L299.03,910.94 L299.31,910.30 L299.59,909.91 L299.86,909.69 L300.13,909.60 L300.40,909.62 L300.68,909.74 L300.97,909.90 L301.29,910.10 L301.64,910.30 L302.01,910.51 L302.41,910.75 L302.82,911.04 L303.25,911.37 L303.69,911.77 L304.16,912.23 L304.64,912.78 L305.14,913.41 L305.66,914.14 L306.20,914.97 L306.76,915.87 L307.33,916.85 L307.92,917.88 L308.54,918.96 L309.16,920.05 L309.81,921.17 L310.49,922.33 L311.22,923.58 L311.97,924.88 L312.73,926.21 L313.50,927.54 L314.25,928.84 L314.97,930.09 L315.65,931.26 L316.29,932.36 L316.90,933.45 L317.49,934.51 L318.06,935.52 L318.62,936.49 L319.18,937.40 L319.74,938.25 L320.32,939.02 L320.90,939.71 L321.49,940.34 L322.07,940.91 L322.66,941.42 L323.24,941.87 L323.82,942.26 L324.41,942.60 L324.99,942.90 L325.46,943.12 L325.77,943.26 L326.02,943.33 L326.30,943.36 L326.71,943.35 L327.34,943.32 L328.29,943.30 L329.66,943.28 L331.41,943.28 L333.45,943.25 L335.75,943.21 L338.30,943.16 L341.08,943.10 L344.09,943.04 L347.29,942.97 L350.68,942.90 L354.58,942.81 L359.17,942.71 L364.16,942.60 L369.27,942.48 L374.21,942.37 L378.71,942.27 L382.47,942.18 L385.23,942.12" fill="none" stroke="#8a4266" stroke-width="1.2" stroke-dasharray="1.4,0.8" stroke-linejoin="round"/>
<path d="M292.30,920.39 L292.68,920.24 L293.19,920.08 L293.81,919.89 L294.49,919.66 L295.18,919.38 L295.86,919.03 L296.47,918.59 L296.97,918.06 L297.37,917.37 L297.72,916.48 L298.02,915.48 L298.28,914.43 L298.53,913.39 L298.78,912.44 L299.03,911.65 L299.31,911.08 L299.59,910.72 L299.86,910.50 L300.13,910.40 L300.40,910.40 L300.68,910.49 L300.97,910.64 L301.29,910.85 L301.64,911.08 L302.01,911.35 L302.41,911.69 L302.82,912.08 L303.25,912.54 L303.69,913.05 L304.16,913.63 L304.64,914.26 L305.14,914.96 L305.66,915.73 L306.20,916.57 L306.76,917.48 L307.33,918.45 L307.92,919.47 L308.54,920.53 L309.16,921.61 L309.81,922.72 L310.49,923.89 L311.22,925.15 L311.97,926.47 L312.73,927.81 L313.50,929.15 L314.25,930.45 L314.97,931.68 L315.65,932.81 L316.29,933.85 L316.90,934.85 L317.49,935.81 L318.06,936.71 L318.62,937.57 L319.18,938.36 L319.74,939.11 L320.32,939.79 L320.90,940.42 L321.49,940.98 L322.07,941.49 L322.66,941.95 L323.24,942.36 L323.82,942.71 L324.41,943.02 L324.99,943.28 L325.46,943.49 L325.77,943.63 L326.02,943.71 L326.30,943.74 L326.71,943.75 L327.34,943.73 L328.29,943.70 L329.66,943.67 L331.41,943.63 L333.45,943.55 L335.75,943.45 L338.30,943.33 L341.08,943.21 L344.09,943.09 L347.29,942.98 L350.68,942.90 L354.58,942.83 L359.17,942.76 L364.16,942.71 L369.27,942.65 L374.21,942.61 L378.71,942.57 L382.47,942.54 L385.23,942.51" fill="none" stroke="#a02652" stroke-width="1.3" stroke-linejoin="round"/>
<path d="M292.30,920.39 L292.68,920.22 L293.19,920.01 L293.81,919.76 L294.49,919.47 L295.18,919.15 L295.86,918.81 L296.47,918.45 L296.97,918.06 L297.37,917.62 L297.72,917.09 L298.02,916.52 L298.28,915.93 L298.53,915.37 L298.78,914.86 L299.03,914.46 L299.31,914.18 L299.59,913.98 L299.86,913.80 L300.13,913.66 L300.40,913.60 L300.68,913.67 L300.97,913.89 L301.29,914.31 L301.64,914.96 L302.01,915.87 L302.41,917.02 L302.82,918.36 L303.25,919.86 L303.69,921.47 L304.16,923.16 L304.64,924.89 L305.14,926.60 L305.66,928.38 L306.20,930.28 L306.76,932.27 L307.33,934.31 L307.92,936.36 L308.54,938.37 L309.16,940.30 L309.81,942.12 L310.49,943.86 L311.19,945.57 L311.92,947.24 L312.66,948.86 L313.41,950.41 L314.16,951.89 L314.91,953.27 L315.65,954.54 L316.38,955.69 L317.11,956.75 L317.84,957.71 L318.57,958.59 L319.30,959.40 L320.03,960.15 L320.76,960.85 L321.49,961.52 L322.18,962.13 L322.81,962.66 L323.42,963.12 L324.04,963.53 L324.71,963.91 L325.46,964.28 L326.32,964.64 L327.32,965.01 L328.51,965.40 L329.83,965.77 L331.28,966.14 L332.80,966.49 L334.37,966.83 L335.94,967.15 L337.50,967.45 L339.00,967.73 L340.46,967.98 L341.92,968.20 L343.38,968.40 L344.84,968.58 L346.30,968.75 L347.76,968.92 L349.22,969.09 L350.68,969.28 L352.06,969.47 L353.33,969.67 L354.56,969.86 L355.81,970.06 L357.15,970.25 L358.64,970.44 L360.35,970.64 L362.35,970.83 L364.83,971.04 L367.82,971.26 L371.12,971.48 L374.52,971.71 L377.84,971.92 L380.86,972.11 L383.39,972.26 L385.23,972.38" fill="none" stroke="#4d5f88" stroke-width="1.3" stroke-linejoin="round"/>
<line x1="296.30" y1="964.50" x2="301.70" y2="964.50" stroke="#4d5f88" stroke-width="1.0"/>
<text x="303.10" y="966.20" font-size="5.0" fill="#2a2a2a">WT</text>
<line x1="296.30" y1="971.80" x2="301.70" y2="971.80" stroke="#a02652" stroke-width="1.0"/>
<text x="303.10" y="973.50" font-size="5.0" fill="#2a2a2a">DREAM KO</text>
<line x1="296.30" y1="979.10" x2="301.70" y2="979.10" stroke="#86607c" stroke-width="0.9" stroke-dasharray="0.9,0.7"/>
<text x="303.10" y="980.80" font-size="5.0" fill="#2a2a2a">WT + TGX221</text>
<line x1="296.30" y1="986.40" x2="301.70" y2="986.40" stroke="#8a4266" stroke-width="0.9" stroke-dasharray="1.4,0.8"/>
<text x="303.10" y="988.10" font-size="5.0" fill="#2a2a2a">DREAM KO + TGX221</text>
<text x="7.00" y="1014.80" font-size="12.5" font-weight="bold" fill="#000">K</text>
<line x1="32.70" y1="1041.30" x2="131.28" y2="1041.30" stroke="#1a1a1a" stroke-width="1.0"/>
<line x1="35.30" y1="1039.10" x2="35.30" y2="1041.80" stroke="#1a1a1a" stroke-width="0.8"/>
<line x1="47.15" y1="1039.10" x2="47.15" y2="1041.80" stroke="#1a1a1a" stroke-width="0.8"/>
<line x1="59.00" y1="1039.10" x2="59.00" y2="1041.80" stroke="#1a1a1a" stroke-width="0.8"/>
<line x1="70.85" y1="1039.10" x2="70.85" y2="1041.80" stroke="#1a1a1a" stroke-width="0.8"/>
<line x1="82.70" y1="1039.10" x2="82.70" y2="1041.80" stroke="#1a1a1a" stroke-width="0.8"/>
<line x1="94.55" y1="1039.10" x2="94.55" y2="1041.80" stroke="#1a1a1a" stroke-width="0.8"/>
<line x1="106.40" y1="1039.10" x2="106.40" y2="1041.80" stroke="#1a1a1a" stroke-width="0.8"/>
<line x1="118.25" y1="1039.10" x2="118.25" y2="1041.80" stroke="#1a1a1a" stroke-width="0.8"/>
<line x1="130.10" y1="1039.10" x2="130.10" y2="1041.80" stroke="#1a1a1a" stroke-width="0.8"/>
<text x="35.30" y="1035.30" font-size="6.4" text-anchor="middle" fill="#2a2a2a" style="stroke-width:0.28px">0</text>
<text x="59.00" y="1035.30" font-size="6.4" text-anchor="middle" fill="#2a2a2a" style="stroke-width:0.28px">100</text>
<text x="82.70" y="1035.30" font-size="6.4" text-anchor="middle" fill="#2a2a2a" style="stroke-width:0.28px">200</text>
<text x="106.40" y="1035.30" font-size="6.4" text-anchor="middle" fill="#2a2a2a" style="stroke-width:0.28px">300</text>
<text x="130.10" y="1035.30" font-size="6.4" text-anchor="middle" fill="#2a2a2a" style="stroke-width:0.28px">400</text>
<text transform="translate(84.00 1025.80) scale(0.85 1)" font-size="8.7" text-anchor="middle" fill="#222" style="stroke-width:0.3px">Time (second)</text>
<line x1="35.30" y1="1038.90" x2="35.30" y2="1121.10" stroke="#1a1a1a" stroke-width="1.0"/>
<line x1="32.90" y1="1041.30" x2="35.30" y2="1041.30" stroke="#1a1a1a" stroke-width="0.8"/>
<text x="29.30" y="1043.40" font-size="6.4" text-anchor="end" fill="#2a2a2a" style="stroke-width:0.28px">0</text>
<line x1="32.90" y1="1056.74" x2="35.30" y2="1056.74" stroke="#1a1a1a" stroke-width="0.8"/>
<text x="29.30" y="1058.84" font-size="6.4" text-anchor="end" fill="#2a2a2a" style="stroke-width:0.28px">20</text>
<line x1="32.90" y1="1072.18" x2="35.30" y2="1072.18" stroke="#1a1a1a" stroke-width="0.8"/>
<text x="29.30" y="1074.28" font-size="6.4" text-anchor="end" fill="#2a2a2a" style="stroke-width:0.28px">40</text>
<line x1="32.90" y1="1087.62" x2="35.30" y2="1087.62" stroke="#1a1a1a" stroke-width="0.8"/>
<text x="29.30" y="1089.72" font-size="6.4" text-anchor="end" fill="#2a2a2a" style="stroke-width:0.28px">60</text>
<line x1="32.90" y1="1103.06" x2="35.30" y2="1103.06" stroke="#1a1a1a" stroke-width="0.8"/>
<text x="29.30" y="1105.16" font-size="6.4" text-anchor="end" fill="#2a2a2a" style="stroke-width:0.28px">80</text>
<line x1="32.90" y1="1118.50" x2="35.30" y2="1118.50" stroke="#1a1a1a" stroke-width="0.8"/>
<text x="29.30" y="1120.60" font-size="6.4" text-anchor="end" fill="#2a2a2a" style="stroke-width:0.28px">100</text>
<text transform="translate(14.10 1079.90) rotate(-90) scale(0.92 1)" font-size="8.3" text-anchor="middle" fill="#222" style="stroke-width:0.3px">Light transmission</text>
<path d="M35.30,1052.88 L35.67,1052.85 L36.15,1052.83 L36.73,1052.82 L37.37,1052.78 L38.05,1052.71 L38.74,1052.59 L39.42,1052.39 L40.04,1052.11 L40.63,1051.71 L41.22,1051.20 L41.82,1050.62 L42.41,1049.98 L43.00,1049.33 L43.59,1048.67 L44.19,1048.04 L44.78,1047.48 L45.37,1046.92 L45.96,1046.33 L46.56,1045.73 L47.15,1045.16 L47.74,1044.63 L48.33,1044.18 L48.93,1043.83 L49.52,1043.62 L50.11,1043.54 L50.70,1043.59 L51.30,1043.73 L51.89,1043.95 L52.48,1044.23 L53.07,1044.54 L53.67,1044.86 L54.26,1045.16 L54.84,1045.48 L55.39,1045.84 L55.93,1046.24 L56.48,1046.66 L57.05,1047.08 L57.65,1047.49 L58.29,1047.89 L59.00,1048.25 L59.78,1048.58 L60.61,1048.92 L61.49,1049.24 L62.41,1049.55 L63.34,1049.84 L64.28,1050.11 L65.21,1050.35 L66.11,1050.56 L66.98,1050.74 L67.83,1050.87 L68.67,1050.98 L69.52,1051.07 L70.38,1051.14 L71.28,1051.21 L72.22,1051.27 L73.22,1051.34 L74.19,1051.40 L75.09,1051.46 L75.98,1051.51 L76.92,1051.55 L78.00,1051.59 L79.27,1051.63 L80.82,1051.68 L82.70,1051.72 L84.99,1051.77 L87.64,1051.83 L90.57,1051.88 L93.69,1051.94 L96.92,1051.99 L100.18,1052.04 L103.36,1052.08 L106.40,1052.11 L109.48,1052.13 L112.78,1052.14 L116.17,1052.14 L119.49,1052.13 L122.64,1052.12 L125.46,1052.12 L127.84,1052.11 L129.63,1052.11" fill="none" stroke="#86607c" stroke-width="1.2" stroke-dasharray="0.9,0.7" stroke-linejoin="round"/>
<path d="M35.30,1052.88 L35.67,1052.85 L36.15,1052.83 L36.73,1052.82 L37.37,1052.78 L38.05,1052.71 L38.74,1052.59 L39.42,1052.39 L40.04,1052.11 L40.63,1051.71 L41.22,1051.20 L41.82,1050.62 L42.41,1049.98 L43.00,1049.33 L43.59,1048.67 L44.19,1048.04 L44.78,1047.48 L45.37,1046.92 L45.96,1046.33 L46.56,1045.73 L47.15,1045.16 L47.74,1044.63 L48.33,1044.18 L48.93,1043.83 L49.52,1043.62 L50.11,1043.53 L50.70,1043.57 L51.30,1043.70 L51.89,1043.91 L52.48,1044.17 L53.07,1044.48 L53.67,1044.82 L54.26,1045.16 L54.84,1045.54 L55.39,1046.00 L55.93,1046.51 L56.48,1047.04 L57.05,1047.58 L57.65,1048.11 L58.29,1048.60 L59.00,1049.02 L59.78,1049.39 L60.61,1049.73 L61.49,1050.04 L62.41,1050.32 L63.34,1050.59 L64.28,1050.85 L65.21,1051.09 L66.11,1051.34 L66.98,1051.57 L67.83,1051.79 L68.67,1052.01 L69.52,1052.20 L70.38,1052.39 L71.28,1052.57 L72.22,1052.73 L73.22,1052.88 L74.19,1053.01 L75.09,1053.12 L75.98,1053.21 L76.92,1053.29 L78.00,1053.37 L79.27,1053.45 L80.82,1053.54 L82.70,1053.65 L84.99,1053.78 L87.64,1053.93 L90.57,1054.09 L93.69,1054.26 L96.92,1054.42 L100.18,1054.57 L103.36,1054.70 L106.40,1054.81 L109.48,1054.90 L112.78,1054.97 L116.17,1055.03 L119.49,1055.08 L122.64,1055.11 L125.46,1055.14 L127.84,1055.17 L129.63,1055.20" fill="none" stroke="#8a4266" stroke-width="1.2" stroke-dasharray="1.4,0.8" stroke-linejoin="round"/>
<path d="M35.30,1052.88 L35.67,1052.85 L36.15,1052.83 L36.73,1052.82 L37.37,1052.78 L38.05,1052.71 L38.74,1052.59 L39.42,1052.39 L40.04,1052.11 L40.63,1051.71 L41.22,1051.20 L41.82,1050.62 L42.41,1049.98 L43.00,1049.33 L43.59,1048.67 L44.19,1048.04 L44.78,1047.48 L45.37,1046.91 L45.96,1046.31 L46.56,1045.70 L47.15,1045.11 L47.74,1044.58 L48.33,1044.13 L48.93,1043.80 L49.52,1043.62 L50.11,1043.59 L50.70,1043.71 L51.30,1043.93 L51.89,1044.24 L52.48,1044.62 L53.07,1045.05 L53.67,1045.49 L54.26,1045.93 L54.84,1046.39 L55.39,1046.91 L55.93,1047.47 L56.48,1048.06 L57.05,1048.67 L57.65,1049.30 L58.29,1049.93 L59.00,1050.56 L59.78,1051.22 L60.61,1051.91 L61.49,1052.64 L62.41,1053.36 L63.34,1054.08 L64.28,1054.76 L65.21,1055.40 L66.11,1055.97 L66.98,1056.47 L67.83,1056.93 L68.67,1057.35 L69.52,1057.73 L70.38,1058.08 L71.28,1058.42 L72.22,1058.74 L73.22,1059.06 L74.19,1059.36 L75.09,1059.63 L75.98,1059.88 L76.92,1060.12 L78.00,1060.34 L79.27,1060.56 L80.82,1060.77 L82.70,1060.99 L84.99,1061.21 L87.64,1061.43 L90.57,1061.64 L93.69,1061.85 L96.92,1062.05 L100.18,1062.23 L103.36,1062.40 L106.40,1062.53 L109.48,1062.64 L112.78,1062.72 L116.17,1062.78 L119.49,1062.82 L122.64,1062.85 L125.46,1062.87 L127.84,1062.89 L129.63,1062.92" fill="none" stroke="#a02652" stroke-width="1.3" stroke-linejoin="round"/>
<path d="M35.30,1052.88 L35.67,1052.85 L36.15,1052.83 L36.73,1052.82 L37.37,1052.78 L38.05,1052.71 L38.74,1052.59 L39.42,1052.39 L40.04,1052.11 L40.63,1051.71 L41.22,1051.20 L41.82,1050.62 L42.41,1049.98 L43.00,1049.33 L43.59,1048.67 L44.19,1048.04 L44.78,1047.48 L45.37,1046.91 L45.96,1046.31 L46.56,1045.70 L47.15,1045.11 L47.74,1044.58 L48.33,1044.13 L48.93,1043.80 L49.52,1043.62 L50.11,1043.59 L50.70,1043.71 L51.30,1043.93 L51.89,1044.24 L52.48,1044.62 L53.07,1045.05 L53.67,1045.49 L54.26,1045.93 L54.84,1046.40 L55.39,1046.92 L55.93,1047.48 L56.48,1048.08 L57.05,1048.70 L57.65,1049.32 L58.29,1049.95 L59.00,1050.56 L59.78,1051.19 L60.61,1051.84 L61.49,1052.50 L62.41,1053.17 L63.34,1053.82 L64.28,1054.45 L65.21,1055.04 L66.11,1055.58 L66.98,1056.07 L67.83,1056.52 L68.67,1056.93 L69.52,1057.32 L70.38,1057.68 L71.28,1058.02 L72.22,1058.35 L73.22,1058.67 L74.19,1058.97 L75.09,1059.24 L75.98,1059.50 L76.92,1059.73 L78.00,1059.96 L79.27,1060.17 L80.82,1060.39 L82.70,1060.60 L84.99,1060.82 L87.64,1061.04 L90.57,1061.26 L93.69,1061.47 L96.92,1061.67 L100.18,1061.85 L103.36,1062.01 L106.40,1062.14 L109.48,1062.25 L112.78,1062.33 L116.17,1062.39 L119.49,1062.43 L122.64,1062.46 L125.46,1062.49 L127.84,1062.51 L129.63,1062.53" fill="none" stroke="#5b4a6a" stroke-width="1.3" stroke-linejoin="round"/>
<line x1="39.30" y1="1099.30" x2="44.70" y2="1099.30" stroke="#4d5f88" stroke-width="1.0"/>
<text x="46.10" y="1101.00" font-size="5.0" fill="#2a2a2a">WT + LY294002 + Vehicle</text>
<line x1="39.30" y1="1106.35" x2="44.70" y2="1106.35" stroke="#a02652" stroke-width="1.0"/>
<text x="46.10" y="1108.05" font-size="5.0" fill="#2a2a2a">DREAM KO + LY294002 + Vehicle</text>
<line x1="39.30" y1="1113.40" x2="44.70" y2="1113.40" stroke="#86607c" stroke-width="0.9" stroke-dasharray="0.9,0.7"/>
<text x="46.10" y="1115.10" font-size="5.0" fill="#2a2a2a">WT + LY294002 + Aspirin</text>
<line x1="39.30" y1="1120.45" x2="44.70" y2="1120.45" stroke="#8a4266" stroke-width="0.9" stroke-dasharray="1.4,0.8"/>
<text x="46.10" y="1122.15" font-size="5.0" fill="#2a2a2a">DREAM KO + LY294002 + Aspirin</text>
<text x="199.50" y="1014.00" font-size="8.8" text-anchor="middle" fill="#111">0.0125 U/ml thrombin</text>
<line x1="161.30" y1="1041.30" x2="258.26" y2="1041.30" stroke="#1a1a1a" stroke-width="1.0"/>
<line x1="163.90" y1="1039.10" x2="163.90" y2="1041.80" stroke="#1a1a1a" stroke-width="0.8"/>
<line x1="175.55" y1="1039.10" x2="175.55" y2="1041.80" stroke="#1a1a1a" stroke-width="0.8"/>
<line x1="187.20" y1="1039.10" x2="187.20" y2="1041.80" stroke="#1a1a1a" stroke-width="0.8"/>
<line x1="198.85" y1="1039.10" x2="198.85" y2="1041.80" stroke="#1a1a1a" stroke-width="0.8"/>
<line x1="210.50" y1="1039.10" x2="210.50" y2="1041.80" stroke="#1a1a1a" stroke-width="0.8"/>
<line x1="222.15" y1="1039.10" x2="222.15" y2="1041.80" stroke="#1a1a1a" stroke-width="0.8"/>
<line x1="233.80" y1="1039.10" x2="233.80" y2="1041.80" stroke="#1a1a1a" stroke-width="0.8"/>
<line x1="245.45" y1="1039.10" x2="245.45" y2="1041.80" stroke="#1a1a1a" stroke-width="0.8"/>
<line x1="257.10" y1="1039.10" x2="257.10" y2="1041.80" stroke="#1a1a1a" stroke-width="0.8"/>
<text x="163.90" y="1035.30" font-size="6.4" text-anchor="middle" fill="#2a2a2a" style="stroke-width:0.28px">0</text>
<text x="187.20" y="1035.30" font-size="6.4" text-anchor="middle" fill="#2a2a2a" style="stroke-width:0.28px">100</text>
<text x="210.50" y="1035.30" font-size="6.4" text-anchor="middle" fill="#2a2a2a" style="stroke-width:0.28px">200</text>
<text x="233.80" y="1035.30" font-size="6.4" text-anchor="middle" fill="#2a2a2a" style="stroke-width:0.28px">300</text>
<text x="257.10" y="1035.30" font-size="6.4" text-anchor="middle" fill="#2a2a2a" style="stroke-width:0.28px">400</text>
<text transform="translate(211.80 1025.80) scale(0.85 1)" font-size="8.7" text-anchor="middle" fill="#222" style="stroke-width:0.3px">Time (second)</text>
<line x1="163.90" y1="1038.90" x2="163.90" y2="1121.10" stroke="#1a1a1a" stroke-width="1.0"/>
<line x1="161.50" y1="1041.30" x2="163.90" y2="1041.30" stroke="#1a1a1a" stroke-width="0.8"/>
<text x="157.90" y="1043.40" font-size="6.4" text-anchor="end" fill="#2a2a2a" style="stroke-width:0.28px">0</text>
<line x1="161.50" y1="1056.74" x2="163.90" y2="1056.74" stroke="#1a1a1a" stroke-width="0.8"/>
<text x="157.90" y="1058.84" font-size="6.4" text-anchor="end" fill="#2a2a2a" style="stroke-width:0.28px">20</text>
<line x1="161.50" y1="1072.18" x2="163.90" y2="1072.18" stroke="#1a1a1a" stroke-width="0.8"/>
<text x="157.90" y="1074.28" font-size="6.4" text-anchor="end" fill="#2a2a2a" style="stroke-width:0.28px">40</text>
<line x1="161.50" y1="1087.62" x2="163.90" y2="1087.62" stroke="#1a1a1a" stroke-width="0.8"/>
<text x="157.90" y="1089.72" font-size="6.4" text-anchor="end" fill="#2a2a2a" style="stroke-width:0.28px">60</text>
<line x1="161.50" y1="1103.06" x2="163.90" y2="1103.06" stroke="#1a1a1a" stroke-width="0.8"/>
<text x="157.90" y="1105.16" font-size="6.4" text-anchor="end" fill="#2a2a2a" style="stroke-width:0.28px">80</text>
<line x1="161.50" y1="1118.50" x2="163.90" y2="1118.50" stroke="#1a1a1a" stroke-width="0.8"/>
<text x="157.90" y="1120.60" font-size="6.4" text-anchor="end" fill="#2a2a2a" style="stroke-width:0.28px">100</text>
<text transform="translate(142.70 1079.90) rotate(-90) scale(0.92 1)" font-size="8.3" text-anchor="middle" fill="#222" style="stroke-width:0.3px">Light transmission</text>
<path d="M163.90,1050.56 L164.08,1050.78 L164.32,1051.12 L164.60,1051.53 L164.92,1051.96 L165.25,1052.36 L165.59,1052.68 L165.92,1052.87 L166.23,1052.88 L166.51,1052.70 L166.77,1052.38 L167.02,1051.94 L167.28,1051.42 L167.55,1050.84 L167.85,1050.22 L168.18,1049.61 L168.56,1049.02 L169.00,1048.39 L169.48,1047.65 L170.01,1046.86 L170.56,1046.06 L171.12,1045.31 L171.68,1044.66 L172.23,1044.16 L172.75,1043.85 L173.25,1043.73 L173.72,1043.76 L174.17,1043.92 L174.63,1044.18 L175.10,1044.53 L175.60,1044.95 L176.13,1045.43 L176.72,1045.93 L177.35,1046.51 L178.01,1047.20 L178.71,1047.97 L179.44,1048.79 L180.19,1049.64 L180.96,1050.50 L181.74,1051.33 L182.54,1052.11 L183.36,1052.90 L184.21,1053.74 L185.08,1054.60 L185.96,1055.44 L186.86,1056.22 L187.76,1056.92 L188.65,1057.49 L189.53,1057.90 L190.39,1058.12 L191.22,1058.17 L192.05,1058.10 L192.88,1057.94 L193.73,1057.72 L194.61,1057.49 L195.53,1057.28 L196.52,1057.13 L197.53,1057.00 L198.52,1056.87 L199.54,1056.72 L200.60,1056.58 L201.73,1056.44 L202.96,1056.31 L204.32,1056.20 L205.84,1056.12 L207.42,1056.07 L209.00,1056.05 L210.65,1056.04 L212.42,1056.05 L214.40,1056.06 L216.63,1056.08 L219.19,1056.10 L222.15,1056.12 L225.83,1056.14 L230.30,1056.17 L235.27,1056.20 L240.41,1056.24 L245.43,1056.27 L250.01,1056.31 L253.85,1056.33 L256.63,1056.35" fill="none" stroke="#86607c" stroke-width="1.0" stroke-dasharray="0.9,0.7" stroke-linejoin="round"/>
<path d="M163.90,1050.56 L164.08,1050.78 L164.32,1051.12 L164.60,1051.53 L164.92,1051.96 L165.25,1052.36 L165.59,1052.68 L165.92,1052.87 L166.23,1052.88 L166.51,1052.70 L166.77,1052.38 L167.02,1051.94 L167.28,1051.42 L167.55,1050.84 L167.85,1050.22 L168.18,1049.61 L168.56,1049.02 L169.00,1048.39 L169.48,1047.65 L170.01,1046.86 L170.56,1046.06 L171.12,1045.31 L171.68,1044.66 L172.23,1044.16 L172.75,1043.85 L173.25,1043.73 L173.72,1043.76 L174.17,1043.92 L174.63,1044.18 L175.10,1044.53 L175.60,1044.95 L176.13,1045.43 L176.72,1045.93 L177.35,1046.51 L178.01,1047.19 L178.71,1047.95 L179.44,1048.76 L180.19,1049.61 L180.96,1050.47 L181.74,1051.31 L182.54,1052.11 L183.36,1052.93 L184.21,1053.81 L185.08,1054.73 L185.96,1055.63 L186.86,1056.48 L187.76,1057.23 L188.65,1057.84 L189.53,1058.28 L190.39,1058.52 L191.22,1058.58 L192.05,1058.51 L192.88,1058.35 L193.73,1058.12 L194.61,1057.88 L195.53,1057.67 L196.52,1057.51 L197.53,1057.39 L198.52,1057.25 L199.54,1057.11 L200.60,1056.96 L201.73,1056.82 L202.96,1056.69 L204.32,1056.59 L205.84,1056.51 L207.42,1056.46 L209.00,1056.43 L210.65,1056.42 L212.42,1056.43 L214.40,1056.45 L216.63,1056.47 L219.19,1056.49 L222.15,1056.51 L225.83,1056.53 L230.30,1056.56 L235.27,1056.59 L240.41,1056.62 L245.43,1056.66 L250.01,1056.69 L253.85,1056.72 L256.63,1056.74" fill="none" stroke="#8a4266" stroke-width="1.0" stroke-dasharray="1.4,0.8" stroke-linejoin="round"/>
<path d="M163.90,1050.56 L164.08,1050.78 L164.32,1051.12 L164.60,1051.53 L164.92,1051.96 L165.25,1052.36 L165.59,1052.68 L165.92,1052.87 L166.23,1052.88 L166.51,1052.70 L166.77,1052.38 L167.02,1051.94 L167.28,1051.42 L167.55,1050.84 L167.85,1050.22 L168.18,1049.61 L168.56,1049.02 L169.00,1048.39 L169.48,1047.65 L170.01,1046.86 L170.56,1046.06 L171.12,1045.31 L171.68,1044.66 L172.23,1044.16 L172.75,1043.85 L173.25,1043.73 L173.72,1043.76 L174.17,1043.92 L174.63,1044.18 L175.10,1044.53 L175.60,1044.95 L176.13,1045.43 L176.72,1045.93 L177.35,1046.50 L178.01,1047.15 L178.71,1047.88 L179.44,1048.67 L180.19,1049.50 L180.96,1050.36 L181.74,1051.23 L182.54,1052.11 L183.33,1053.00 L184.12,1053.92 L184.92,1054.88 L185.74,1055.86 L186.60,1056.85 L187.51,1057.85 L188.48,1058.84 L189.53,1059.83 L190.67,1060.86 L191.91,1061.96 L193.21,1063.09 L194.55,1064.22 L195.93,1065.29 L197.31,1066.27 L198.68,1067.11 L200.02,1067.78 L201.24,1068.25 L202.34,1068.55 L203.38,1068.73 L204.46,1068.80 L205.63,1068.82 L206.98,1068.81 L208.58,1068.81 L210.50,1068.86 L212.80,1068.93 L215.43,1068.97 L218.32,1069.00 L221.38,1069.01 L224.53,1069.03 L227.71,1069.04 L230.82,1069.06 L233.80,1069.09 L236.83,1069.14 L240.08,1069.20 L243.40,1069.27 L246.67,1069.34 L249.76,1069.41 L252.54,1069.47 L254.88,1069.52 L256.63,1069.56" fill="none" stroke="#a02652" stroke-width="1.3" stroke-linejoin="round"/>
<path d="M163.90,1050.56 L164.08,1050.78 L164.32,1051.12 L164.60,1051.53 L164.92,1051.96 L165.25,1052.36 L165.59,1052.68 L165.92,1052.87 L166.23,1052.88 L166.51,1052.70 L166.77,1052.38 L167.02,1051.94 L167.28,1051.42 L167.55,1050.84 L167.85,1050.22 L168.18,1049.61 L168.56,1049.02 L169.00,1048.39 L169.48,1047.65 L170.01,1046.86 L170.56,1046.06 L171.12,1045.31 L171.68,1044.66 L172.23,1044.16 L172.75,1043.85 L173.25,1043.73 L173.72,1043.74 L174.17,1043.88 L174.63,1044.13 L175.10,1044.48 L175.60,1044.90 L176.13,1045.39 L176.72,1045.93 L177.35,1046.55 L178.01,1047.25 L178.71,1048.05 L179.44,1048.91 L180.19,1049.83 L180.96,1050.81 L181.74,1051.83 L182.54,1052.88 L183.33,1053.97 L184.12,1055.12 L184.92,1056.32 L185.74,1057.56 L186.60,1058.85 L187.51,1060.17 L188.48,1061.53 L189.53,1062.92 L190.67,1064.42 L191.91,1066.09 L193.21,1067.84 L194.55,1069.60 L195.93,1071.30 L197.31,1072.86 L198.68,1074.21 L200.02,1075.27 L201.24,1076.02 L202.34,1076.52 L203.38,1076.83 L204.46,1077.00 L205.63,1077.06 L206.98,1077.08 L208.58,1077.11 L210.50,1077.20 L212.80,1077.30 L215.43,1077.37 L218.32,1077.39 L221.38,1077.40 L224.53,1077.38 L227.71,1077.37 L230.82,1077.35 L233.80,1077.35 L236.83,1077.36 L240.08,1077.36 L243.40,1077.36 L246.67,1077.36 L249.76,1077.36 L252.54,1077.36 L254.88,1077.35 L256.63,1077.35" fill="none" stroke="#4d5f88" stroke-width="1.3" stroke-linejoin="round"/>
<line x1="167.90" y1="1099.30" x2="173.30" y2="1099.30" stroke="#4d5f88" stroke-width="1.0"/>
<text x="174.70" y="1101.00" font-size="5.0" fill="#2a2a2a">WT + PIK75 + Vehicle</text>
<line x1="167.90" y1="1106.35" x2="173.30" y2="1106.35" stroke="#a02652" stroke-width="1.0"/>
<text x="174.70" y="1108.05" font-size="5.0" fill="#2a2a2a">DREAM KO + PIK75 + Vehicle</text>
<line x1="167.90" y1="1113.40" x2="173.30" y2="1113.40" stroke="#86607c" stroke-width="0.9" stroke-dasharray="0.9,0.7"/>
<text x="174.70" y="1115.10" font-size="5.0" fill="#2a2a2a">WT + PIK75 + Aspirin</text>
<line x1="167.90" y1="1120.45" x2="173.30" y2="1120.45" stroke="#8a4266" stroke-width="0.9" stroke-dasharray="1.4,0.8"/>
<text x="174.70" y="1122.15" font-size="5.0" fill="#2a2a2a">DREAM KO + PIK75 + Aspirin</text>
<line x1="289.70" y1="1040.90" x2="386.67" y2="1040.90" stroke="#1a1a1a" stroke-width="1.0"/>
<line x1="292.30" y1="1038.70" x2="292.30" y2="1041.40" stroke="#1a1a1a" stroke-width="0.8"/>
<line x1="303.95" y1="1038.70" x2="303.95" y2="1041.40" stroke="#1a1a1a" stroke-width="0.8"/>
<line x1="315.60" y1="1038.70" x2="315.60" y2="1041.40" stroke="#1a1a1a" stroke-width="0.8"/>
<line x1="327.25" y1="1038.70" x2="327.25" y2="1041.40" stroke="#1a1a1a" stroke-width="0.8"/>
<line x1="338.90" y1="1038.70" x2="338.90" y2="1041.40" stroke="#1a1a1a" stroke-width="0.8"/>
<line x1="350.55" y1="1038.70" x2="350.55" y2="1041.40" stroke="#1a1a1a" stroke-width="0.8"/>
<line x1="362.20" y1="1038.70" x2="362.20" y2="1041.40" stroke="#1a1a1a" stroke-width="0.8"/>
<line x1="373.85" y1="1038.70" x2="373.85" y2="1041.40" stroke="#1a1a1a" stroke-width="0.8"/>
<line x1="385.50" y1="1038.70" x2="385.50" y2="1041.40" stroke="#1a1a1a" stroke-width="0.8"/>
<text x="292.30" y="1034.90" font-size="6.4" text-anchor="middle" fill="#2a2a2a" style="stroke-width:0.28px">0</text>
<text x="315.60" y="1034.90" font-size="6.4" text-anchor="middle" fill="#2a2a2a" style="stroke-width:0.28px">100</text>
<text x="338.90" y="1034.90" font-size="6.4" text-anchor="middle" fill="#2a2a2a" style="stroke-width:0.28px">200</text>
<text x="362.20" y="1034.90" font-size="6.4" text-anchor="middle" fill="#2a2a2a" style="stroke-width:0.28px">300</text>
<text x="385.50" y="1034.90" font-size="6.4" text-anchor="middle" fill="#2a2a2a" style="stroke-width:0.28px">400</text>
<text transform="translate(340.20 1025.40) scale(0.85 1)" font-size="8.7" text-anchor="middle" fill="#222" style="stroke-width:0.3px">Time (second)</text>
<line x1="292.30" y1="1038.50" x2="292.30" y2="1120.70" stroke="#1a1a1a" stroke-width="1.0"/>
<line x1="289.90" y1="1040.90" x2="292.30" y2="1040.90" stroke="#1a1a1a" stroke-width="0.8"/>
<text x="286.30" y="1043.00" font-size="6.4" text-anchor="end" fill="#2a2a2a" style="stroke-width:0.28px">0</text>
<line x1="289.90" y1="1056.34" x2="292.30" y2="1056.34" stroke="#1a1a1a" stroke-width="0.8"/>
<text x="286.30" y="1058.44" font-size="6.4" text-anchor="end" fill="#2a2a2a" style="stroke-width:0.28px">20</text>
<line x1="289.90" y1="1071.78" x2="292.30" y2="1071.78" stroke="#1a1a1a" stroke-width="0.8"/>
<text x="286.30" y="1073.88" font-size="6.4" text-anchor="end" fill="#2a2a2a" style="stroke-width:0.28px">40</text>
<line x1="289.90" y1="1087.22" x2="292.30" y2="1087.22" stroke="#1a1a1a" stroke-width="0.8"/>
<text x="286.30" y="1089.32" font-size="6.4" text-anchor="end" fill="#2a2a2a" style="stroke-width:0.28px">60</text>
<line x1="289.90" y1="1102.66" x2="292.30" y2="1102.66" stroke="#1a1a1a" stroke-width="0.8"/>
<text x="286.30" y="1104.76" font-size="6.4" text-anchor="end" fill="#2a2a2a" style="stroke-width:0.28px">80</text>
<line x1="289.90" y1="1118.10" x2="292.30" y2="1118.10" stroke="#1a1a1a" stroke-width="0.8"/>
<text x="286.30" y="1120.20" font-size="6.4" text-anchor="end" fill="#2a2a2a" style="stroke-width:0.28px">100</text>
<text transform="translate(271.10 1079.50) rotate(-90) scale(0.92 1)" font-size="8.3" text-anchor="middle" fill="#222" style="stroke-width:0.3px">Light transmission</text>
<path d="M292.30,1054.02 L292.67,1053.88 L293.16,1053.72 L293.76,1053.53 L294.41,1053.30 L295.09,1053.02 L295.77,1052.67 L296.40,1052.23 L296.96,1051.71 L297.46,1051.02 L297.94,1050.15 L298.41,1049.17 L298.85,1048.14 L299.28,1047.12 L299.69,1046.17 L300.08,1045.36 L300.46,1044.76 L300.79,1044.35 L301.09,1044.08 L301.36,1043.92 L301.62,1043.84 L301.88,1043.84 L302.15,1043.87 L302.45,1043.93 L302.79,1043.99 L303.14,1044.06 L303.49,1044.19 L303.86,1044.36 L304.24,1044.57 L304.66,1044.79 L305.13,1045.04 L305.67,1045.29 L306.28,1045.53 L306.97,1045.79 L307.73,1046.07 L308.54,1046.38 L309.41,1046.69 L310.32,1047.00 L311.28,1047.31 L312.26,1047.59 L313.27,1047.85 L314.28,1048.08 L315.27,1048.31 L316.29,1048.52 L317.35,1048.72 L318.48,1048.90 L319.71,1049.08 L321.07,1049.24 L322.59,1049.39 L324.25,1049.53 L326.01,1049.66 L327.89,1049.77 L329.87,1049.87 L331.96,1049.96 L334.17,1050.04 L336.48,1050.11 L338.90,1050.16 L341.48,1050.20 L344.24,1050.22 L347.15,1050.22 L350.14,1050.21 L353.19,1050.20 L356.24,1050.18 L359.26,1050.17 L362.20,1050.16 L365.23,1050.16 L368.48,1050.16 L371.80,1050.16 L375.07,1050.16 L378.16,1050.16 L380.94,1050.16 L383.28,1050.16 L385.03,1050.16" fill="none" stroke="#86607c" stroke-width="1.2" stroke-dasharray="0.9,0.7" stroke-linejoin="round"/>
<path d="M292.30,1054.02 L292.67,1053.88 L293.16,1053.72 L293.76,1053.53 L294.41,1053.30 L295.09,1053.02 L295.77,1052.67 L296.40,1052.23 L296.96,1051.71 L297.46,1051.02 L297.94,1050.15 L298.41,1049.17 L298.85,1048.14 L299.28,1047.12 L299.69,1046.17 L300.08,1045.36 L300.46,1044.76 L300.79,1044.35 L301.09,1044.08 L301.36,1043.92 L301.62,1043.84 L301.88,1043.84 L302.15,1043.87 L302.45,1043.93 L302.79,1043.99 L303.14,1044.06 L303.49,1044.18 L303.86,1044.35 L304.24,1044.54 L304.66,1044.77 L305.13,1045.01 L305.67,1045.27 L306.28,1045.53 L306.97,1045.82 L307.73,1046.15 L308.54,1046.51 L309.41,1046.88 L310.32,1047.25 L311.28,1047.61 L312.26,1047.94 L313.27,1048.23 L314.28,1048.49 L315.27,1048.72 L316.29,1048.93 L317.35,1049.13 L318.48,1049.31 L319.71,1049.47 L321.07,1049.63 L322.59,1049.78 L324.25,1049.92 L326.01,1050.04 L327.89,1050.16 L329.87,1050.26 L331.96,1050.35 L334.17,1050.43 L336.48,1050.50 L338.90,1050.55 L341.48,1050.59 L344.24,1050.60 L347.15,1050.61 L350.14,1050.60 L353.19,1050.58 L356.24,1050.57 L359.26,1050.56 L362.20,1050.55 L365.23,1050.55 L368.48,1050.55 L371.80,1050.55 L375.07,1050.55 L378.16,1050.55 L380.94,1050.55 L383.28,1050.55 L385.03,1050.55" fill="none" stroke="#8a4266" stroke-width="1.2" stroke-dasharray="1.4,0.8" stroke-linejoin="round"/>
<path d="M292.30,1054.02 L292.67,1053.87 L293.16,1053.70 L293.76,1053.49 L294.41,1053.25 L295.09,1052.96 L295.77,1052.61 L296.40,1052.20 L296.96,1051.71 L297.46,1051.08 L297.94,1050.29 L298.41,1049.40 L298.85,1048.48 L299.28,1047.57 L299.69,1046.73 L300.08,1046.03 L300.46,1045.53 L300.79,1045.19 L301.06,1044.95 L301.31,1044.81 L301.55,1044.76 L301.79,1044.81 L302.07,1044.95 L302.39,1045.19 L302.79,1045.53 L303.25,1045.99 L303.76,1046.57 L304.31,1047.26 L304.90,1048.04 L305.51,1048.89 L306.14,1049.80 L306.79,1050.75 L307.44,1051.71 L308.12,1052.74 L308.82,1053.88 L309.54,1055.09 L310.28,1056.34 L311.03,1057.59 L311.79,1058.80 L312.53,1059.94 L313.27,1060.97 L314.00,1061.92 L314.73,1062.82 L315.45,1063.68 L316.18,1064.49 L316.91,1065.25 L317.64,1065.95 L318.37,1066.58 L319.10,1067.15 L319.82,1067.64 L320.52,1068.07 L321.23,1068.43 L321.93,1068.74 L322.65,1068.99 L323.38,1069.19 L324.14,1069.35 L324.92,1069.46 L325.66,1069.52 L326.31,1069.49 L326.94,1069.40 L327.61,1069.27 L328.38,1069.12 L329.32,1068.96 L330.47,1068.81 L331.91,1068.69 L333.57,1068.60 L335.38,1068.50 L337.35,1068.40 L339.51,1068.31 L341.89,1068.21 L344.50,1068.11 L347.38,1068.02 L350.55,1067.92 L354.34,1067.82 L358.87,1067.71 L363.84,1067.60 L368.96,1067.49 L373.93,1067.38 L378.47,1067.29 L382.27,1067.21 L385.03,1067.15" fill="none" stroke="#a02652" stroke-width="1.3" stroke-linejoin="round"/>
<path d="M292.30,1054.02 L292.67,1053.87 L293.16,1053.70 L293.76,1053.49 L294.41,1053.25 L295.09,1052.96 L295.77,1052.61 L296.40,1052.20 L296.96,1051.71 L297.46,1051.08 L297.94,1050.29 L298.41,1049.40 L298.85,1048.48 L299.28,1047.57 L299.69,1046.73 L300.08,1046.03 L300.46,1045.53 L300.79,1045.18 L301.06,1044.92 L301.31,1044.74 L301.55,1044.66 L301.79,1044.70 L302.07,1044.84 L302.39,1045.12 L302.79,1045.53 L303.25,1046.11 L303.76,1046.86 L304.31,1047.76 L304.90,1048.76 L305.51,1049.85 L306.14,1050.98 L306.79,1052.12 L307.44,1053.25 L308.12,1054.42 L308.82,1055.69 L309.54,1057.02 L310.28,1058.37 L311.03,1059.71 L311.79,1061.00 L312.53,1062.20 L313.27,1063.29 L314.00,1064.27 L314.73,1065.19 L315.45,1066.06 L316.18,1066.86 L316.91,1067.60 L317.64,1068.28 L318.37,1068.90 L319.10,1069.46 L319.82,1069.96 L320.52,1070.40 L321.23,1070.77 L321.93,1071.08 L322.65,1071.34 L323.38,1071.54 L324.14,1071.68 L324.92,1071.78 L325.66,1071.81 L326.31,1071.75 L326.94,1071.63 L327.61,1071.47 L328.38,1071.27 L329.32,1071.05 L330.47,1070.83 L331.91,1070.62 L333.57,1070.41 L335.38,1070.17 L337.35,1069.90 L339.51,1069.63 L341.89,1069.36 L344.50,1069.11 L347.38,1068.88 L350.55,1068.69 L354.34,1068.53 L358.87,1068.40 L363.84,1068.28 L368.96,1068.19 L373.93,1068.10 L378.47,1068.03 L382.27,1067.97 L385.03,1067.92" fill="none" stroke="#4d5f88" stroke-width="1.3" stroke-linejoin="round"/>
<line x1="296.30" y1="1099.20" x2="301.70" y2="1099.20" stroke="#4d5f88" stroke-width="1.0"/>
<text x="303.10" y="1100.90" font-size="5.0" fill="#2a2a2a">WT + TGX221 + Vehicle</text>
<line x1="296.30" y1="1106.25" x2="301.70" y2="1106.25" stroke="#a02652" stroke-width="1.0"/>
<text x="303.10" y="1107.95" font-size="5.0" fill="#2a2a2a">DREAM KO + TGX221 + Vehicle</text>
<line x1="296.30" y1="1113.30" x2="301.70" y2="1113.30" stroke="#86607c" stroke-width="0.9" stroke-dasharray="0.9,0.7"/>
<text x="303.10" y="1115.00" font-size="5.0" fill="#2a2a2a">WT + TGX221 + Aspirin</text>
<line x1="296.30" y1="1120.35" x2="301.70" y2="1120.35" stroke="#8a4266" stroke-width="0.9" stroke-dasharray="1.4,0.8"/>
<text x="303.10" y="1122.05" font-size="5.0" fill="#2a2a2a">DREAM KO + TGX221 + Aspirin</text>
</svg></div></body></html>
